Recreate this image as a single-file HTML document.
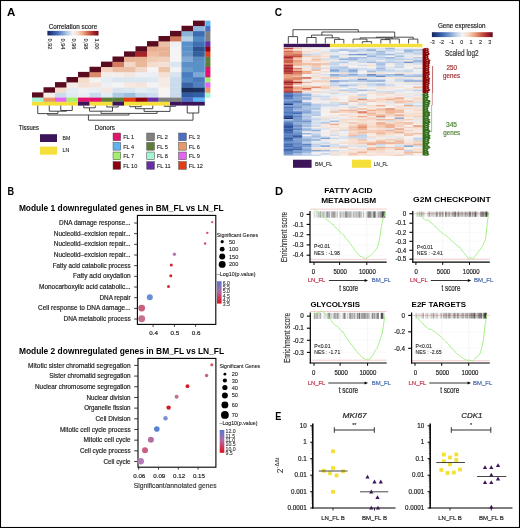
<!DOCTYPE html>
<html><head><meta charset="utf-8"><title>Figure</title>
<style>html,body{margin:0;padding:0;background:#fff;}body{width:520px;height:528px;overflow:hidden;font-family:"Liberation Sans", sans-serif;}svg{display:block;will-change:transform;}</style>
</head><body>
<svg width="520" height="528" viewBox="0 0 520 528" font-family='"Liberation Sans", sans-serif'><defs>
<linearGradient id="rdbu" x1="0" x2="1" y1="0" y2="0"><stop offset="0.0" stop-color="#14245a"/><stop offset="0.1" stop-color="#2a4a96"/><stop offset="0.2" stop-color="#4a72b8"/><stop offset="0.3" stop-color="#7ea0d2"/><stop offset="0.4" stop-color="#bcd0ea"/><stop offset="0.5" stop-color="#f5f3f2"/><stop offset="0.6" stop-color="#f6d8c6"/><stop offset="0.7" stop-color="#eca584"/><stop offset="0.8" stop-color="#d0644a"/><stop offset="0.9" stop-color="#a82830"/><stop offset="1.0" stop-color="#650a1c"/></linearGradient>
<linearGradient id="pv" x1="0" x2="0" y1="0" y2="1"><stop offset="0" stop-color="#5777d4"/><stop offset="0.45" stop-color="#b06aa8"/><stop offset="1" stop-color="#e0101c"/></linearGradient>
</defs>
<text x="7.10" y="16.40" font-size="11.7" textLength="8.33" lengthAdjust="spacingAndGlyphs" font-weight="bold">A</text>
<text x="48.70" y="29.10" font-size="6.8" textLength="48.52" lengthAdjust="spacingAndGlyphs" fill="#222" stroke="#222" stroke-width="0.18">Correlation score</text>
<rect x="47.40" y="30.90" width="51.10" height="4.60" fill="url(#rdbu)" />
<text x="48.00" y="38.50" font-size="5.6" fill="#222" stroke="#222" stroke-width="0.10" transform="rotate(90 48.00 38.5)">0,92</text>
<text x="60.90" y="38.50" font-size="5.6" fill="#222" stroke="#222" stroke-width="0.10" transform="rotate(90 60.90 38.5)">0,94</text>
<text x="71.60" y="38.50" font-size="5.6" fill="#222" stroke="#222" stroke-width="0.10" transform="rotate(90 71.60 38.5)">0,96</text>
<text x="83.80" y="38.50" font-size="5.6" fill="#222" stroke="#222" stroke-width="0.10" transform="rotate(90 83.80 38.5)">0,98</text>
<text x="95.20" y="38.50" font-size="5.6" fill="#222" stroke="#222" stroke-width="0.10" transform="rotate(90 95.20 38.5)">1,00</text>
<rect x="32.00" y="92.38" width="11.80" height="5.42" fill="#5b0b20" />
<rect x="43.50" y="92.38" width="11.80" height="5.42" fill="#f6f0ea" />
<rect x="43.50" y="87.25" width="11.80" height="5.42" fill="#5b0b20" />
<rect x="55.00" y="92.38" width="11.80" height="5.42" fill="#c8dcec" />
<rect x="55.00" y="87.25" width="11.80" height="5.42" fill="#f4dccc" />
<rect x="55.00" y="82.12" width="11.80" height="5.42" fill="#5b0b20" />
<rect x="66.50" y="92.38" width="11.80" height="5.42" fill="#e2eaf2" />
<rect x="66.50" y="87.25" width="11.80" height="5.42" fill="#e4ecf4" />
<rect x="66.50" y="82.12" width="11.80" height="5.42" fill="#f4ece6" />
<rect x="66.50" y="77.00" width="11.80" height="5.42" fill="#5b0b20" />
<rect x="78.00" y="92.38" width="11.80" height="5.42" fill="#e8eef4" />
<rect x="78.00" y="87.25" width="11.80" height="5.42" fill="#eef0f4" />
<rect x="78.00" y="82.12" width="11.80" height="5.42" fill="#f4e0d4" />
<rect x="78.00" y="77.00" width="11.80" height="5.42" fill="#f4dcc8" />
<rect x="78.00" y="71.88" width="11.80" height="5.42" fill="#5b0b20" />
<rect x="89.50" y="92.38" width="11.80" height="5.42" fill="#c8dcee" />
<rect x="89.50" y="87.25" width="11.80" height="5.42" fill="#e8eef4" />
<rect x="89.50" y="82.12" width="11.80" height="5.42" fill="#f4e4da" />
<rect x="89.50" y="77.00" width="11.80" height="5.42" fill="#f4f2f0" />
<rect x="89.50" y="71.88" width="11.80" height="5.42" fill="#d88a6a" />
<rect x="89.50" y="66.75" width="11.80" height="5.42" fill="#5b0b20" />
<rect x="101.00" y="92.38" width="11.80" height="5.42" fill="#e4ecf4" />
<rect x="101.00" y="87.25" width="11.80" height="5.42" fill="#f6e8e0" />
<rect x="101.00" y="82.12" width="11.80" height="5.42" fill="#ecf0f4" />
<rect x="101.00" y="77.00" width="11.80" height="5.42" fill="#e4ecf4" />
<rect x="101.00" y="71.88" width="11.80" height="5.42" fill="#f4ecea" />
<rect x="101.00" y="66.75" width="11.80" height="5.42" fill="#f4d4c0" />
<rect x="101.00" y="61.62" width="11.80" height="5.42" fill="#5b0b20" />
<rect x="112.50" y="92.38" width="11.80" height="5.42" fill="#b0cce4" />
<rect x="112.50" y="87.25" width="11.80" height="5.42" fill="#d8e4f0" />
<rect x="112.50" y="82.12" width="11.80" height="5.42" fill="#f4f4f4" />
<rect x="112.50" y="77.00" width="11.80" height="5.42" fill="#dce6f0" />
<rect x="112.50" y="71.88" width="11.80" height="5.42" fill="#f4eeec" />
<rect x="112.50" y="66.75" width="11.80" height="5.42" fill="#ecc0a4" />
<rect x="112.50" y="61.62" width="11.80" height="5.42" fill="#d47a5e" />
<rect x="112.50" y="56.50" width="11.80" height="5.42" fill="#5b0b20" />
<rect x="124.00" y="92.38" width="11.80" height="5.42" fill="#9cc0e0" />
<rect x="124.00" y="87.25" width="11.80" height="5.42" fill="#dae6f0" />
<rect x="124.00" y="82.12" width="11.80" height="5.42" fill="#f6e8e0" />
<rect x="124.00" y="77.00" width="11.80" height="5.42" fill="#dce6f0" />
<rect x="124.00" y="71.88" width="11.80" height="5.42" fill="#f4e6e0" />
<rect x="124.00" y="66.75" width="11.80" height="5.42" fill="#ecc0a6" />
<rect x="124.00" y="61.62" width="11.80" height="5.42" fill="#f2d8c6" />
<rect x="124.00" y="56.50" width="11.80" height="5.42" fill="#e8b294" />
<rect x="124.00" y="51.38" width="11.80" height="5.42" fill="#5b0b20" />
<rect x="135.50" y="92.38" width="11.80" height="5.42" fill="#c4d8ec" />
<rect x="135.50" y="87.25" width="11.80" height="5.42" fill="#e4ecf4" />
<rect x="135.50" y="82.12" width="11.80" height="5.42" fill="#f4e4dc" />
<rect x="135.50" y="77.00" width="11.80" height="5.42" fill="#dce6f0" />
<rect x="135.50" y="71.88" width="11.80" height="5.42" fill="#eef0f4" />
<rect x="135.50" y="66.75" width="11.80" height="5.42" fill="#f2d8c8" />
<rect x="135.50" y="61.62" width="11.80" height="5.42" fill="#eab89a" />
<rect x="135.50" y="56.50" width="11.80" height="5.42" fill="#e8b494" />
<rect x="135.50" y="51.38" width="11.80" height="5.42" fill="#a82028" />
<rect x="135.50" y="46.25" width="11.80" height="5.42" fill="#5b0b20" />
<rect x="147.00" y="92.38" width="11.80" height="5.42" fill="#cfdeee" />
<rect x="147.00" y="87.25" width="11.80" height="5.42" fill="#dde7f1" />
<rect x="147.00" y="82.12" width="11.80" height="5.42" fill="#f4f2f2" />
<rect x="147.00" y="77.00" width="11.80" height="5.42" fill="#dfe8f2" />
<rect x="147.00" y="71.88" width="11.80" height="5.42" fill="#ebeff5" />
<rect x="147.00" y="66.75" width="11.80" height="5.42" fill="#f5f3f3" />
<rect x="147.00" y="61.62" width="11.80" height="5.42" fill="#f4dccc" />
<rect x="147.00" y="56.50" width="11.80" height="5.42" fill="#f0ccb4" />
<rect x="147.00" y="51.38" width="11.80" height="5.42" fill="#eebc9e" />
<rect x="147.00" y="46.25" width="11.80" height="5.42" fill="#e8ae8e" />
<rect x="147.00" y="41.12" width="11.80" height="5.42" fill="#5b0b20" />
<rect x="158.50" y="92.38" width="11.80" height="5.42" fill="#f6f4f4" />
<rect x="158.50" y="87.25" width="11.80" height="5.42" fill="#f7f4f2" />
<rect x="158.50" y="82.12" width="11.80" height="5.42" fill="#f6ebe4" />
<rect x="158.50" y="77.00" width="11.80" height="5.42" fill="#f6ebe4" />
<rect x="158.50" y="71.88" width="11.80" height="5.42" fill="#f4e0d4" />
<rect x="158.50" y="66.75" width="11.80" height="5.42" fill="#eec4a8" />
<rect x="158.50" y="61.62" width="11.80" height="5.42" fill="#f4e0d4" />
<rect x="158.50" y="56.50" width="11.80" height="5.42" fill="#f0d0bc" />
<rect x="158.50" y="51.38" width="11.80" height="5.42" fill="#e8b294" />
<rect x="158.50" y="46.25" width="11.80" height="5.42" fill="#e8b090" />
<rect x="158.50" y="41.12" width="11.80" height="5.42" fill="#ecc0a4" />
<rect x="158.50" y="36.00" width="11.80" height="5.42" fill="#5b0b20" />
<rect x="170.00" y="92.38" width="11.80" height="5.42" fill="#c8daec" />
<rect x="170.00" y="87.25" width="11.80" height="5.42" fill="#cadcec" />
<rect x="170.00" y="82.12" width="11.80" height="5.42" fill="#c8daec" />
<rect x="170.00" y="77.00" width="11.80" height="5.42" fill="#cadcec" />
<rect x="170.00" y="71.88" width="11.80" height="5.42" fill="#d8e4f0" />
<rect x="170.00" y="66.75" width="11.80" height="5.42" fill="#f0f2f4" />
<rect x="170.00" y="61.62" width="11.80" height="5.42" fill="#dce6f0" />
<rect x="170.00" y="56.50" width="11.80" height="5.42" fill="#f4f4f4" />
<rect x="170.00" y="51.38" width="11.80" height="5.42" fill="#f4f4f4" />
<rect x="170.00" y="46.25" width="11.80" height="5.42" fill="#f4f4f4" />
<rect x="170.00" y="41.12" width="11.80" height="5.42" fill="#eef0f4" />
<rect x="170.00" y="36.00" width="11.80" height="5.42" fill="#d0785a" />
<rect x="170.00" y="30.88" width="11.80" height="5.42" fill="#5b0b20" />
<rect x="181.50" y="92.38" width="11.80" height="5.42" fill="#2e58a0" />
<rect x="181.50" y="87.25" width="11.80" height="5.42" fill="#1a2c5c" />
<rect x="181.50" y="82.12" width="11.80" height="5.42" fill="#3a64a8" />
<rect x="181.50" y="77.00" width="11.80" height="5.42" fill="#5488c4" />
<rect x="181.50" y="71.88" width="11.80" height="5.42" fill="#4a7cc0" />
<rect x="181.50" y="66.75" width="11.80" height="5.42" fill="#6a9ccc" />
<rect x="181.50" y="61.62" width="11.80" height="5.42" fill="#5e90c8" />
<rect x="181.50" y="56.50" width="11.80" height="5.42" fill="#80a8d4" />
<rect x="181.50" y="51.38" width="11.80" height="5.42" fill="#6494c8" />
<rect x="181.50" y="46.25" width="11.80" height="5.42" fill="#5a90c8" />
<rect x="181.50" y="41.12" width="11.80" height="5.42" fill="#5a90c8" />
<rect x="181.50" y="36.00" width="11.80" height="5.42" fill="#b4d0e6" />
<rect x="181.50" y="30.88" width="11.80" height="5.42" fill="#8cb4d8" />
<rect x="181.50" y="25.75" width="11.80" height="5.42" fill="#5b0b20" />
<rect x="193.00" y="92.38" width="11.80" height="5.42" fill="#3060a8" />
<rect x="193.00" y="87.25" width="11.80" height="5.42" fill="#1c3060" />
<rect x="193.00" y="82.12" width="11.80" height="5.42" fill="#5080c0" />
<rect x="193.00" y="77.00" width="11.80" height="5.42" fill="#4a78bc" />
<rect x="193.00" y="71.88" width="11.80" height="5.42" fill="#7ea8d4" />
<rect x="193.00" y="66.75" width="11.80" height="5.42" fill="#5a90c8" />
<rect x="193.00" y="61.62" width="11.80" height="5.42" fill="#5890c8" />
<rect x="193.00" y="56.50" width="11.80" height="5.42" fill="#5a8cc4" />
<rect x="193.00" y="51.38" width="11.80" height="5.42" fill="#34609e" />
<rect x="193.00" y="46.25" width="11.80" height="5.42" fill="#2c5090" />
<rect x="193.00" y="41.12" width="11.80" height="5.42" fill="#4070b4" />
<rect x="193.00" y="36.00" width="11.80" height="5.42" fill="#5088c4" />
<rect x="193.00" y="30.88" width="11.80" height="5.42" fill="#3e6cb0" />
<rect x="193.00" y="25.75" width="11.80" height="5.42" fill="#90b8dc" />
<rect x="193.00" y="20.62" width="11.80" height="5.42" fill="#5b0b20" />
<rect x="32.00" y="97.60" width="11.80" height="4.30" fill="#a3f5d3" />
<rect x="32.00" y="101.80" width="11.80" height="3.80" fill="#f5df3b" />
<rect x="43.50" y="97.60" width="11.80" height="4.30" fill="#eb9868" />
<rect x="43.50" y="101.80" width="11.80" height="3.80" fill="#f5df3b" />
<rect x="55.00" y="97.60" width="11.80" height="4.30" fill="#e463ef" />
<rect x="55.00" y="101.80" width="11.80" height="3.80" fill="#f5df3b" />
<rect x="66.50" y="97.60" width="11.80" height="4.30" fill="#a2f06c" />
<rect x="66.50" y="101.80" width="11.80" height="3.80" fill="#f5df3b" />
<rect x="78.00" y="97.60" width="11.80" height="4.30" fill="#e2136d" />
<rect x="78.00" y="101.80" width="11.80" height="3.80" fill="#3c1459" />
<rect x="89.50" y="97.60" width="11.80" height="4.30" fill="#e2136d" />
<rect x="89.50" y="101.80" width="11.80" height="3.80" fill="#f5df3b" />
<rect x="101.00" y="97.60" width="11.80" height="4.30" fill="#5c7e38" />
<rect x="101.00" y="101.80" width="11.80" height="3.80" fill="#f5df3b" />
<rect x="112.50" y="97.60" width="11.80" height="4.30" fill="#5c7e38" />
<rect x="112.50" y="101.80" width="11.80" height="3.80" fill="#3c1459" />
<rect x="124.00" y="97.60" width="11.80" height="4.30" fill="#e33b12" />
<rect x="124.00" y="101.80" width="11.80" height="3.80" fill="#f5df3b" />
<rect x="135.50" y="97.60" width="11.80" height="4.30" fill="#8c0010" />
<rect x="135.50" y="101.80" width="11.80" height="3.80" fill="#f5df3b" />
<rect x="147.00" y="97.60" width="11.80" height="4.30" fill="#6a2ca6" />
<rect x="147.00" y="101.80" width="11.80" height="3.80" fill="#f5df3b" />
<rect x="158.50" y="97.60" width="11.80" height="4.30" fill="#808080" />
<rect x="158.50" y="101.80" width="11.80" height="3.80" fill="#f5df3b" />
<rect x="170.00" y="97.60" width="11.80" height="4.30" fill="#808080" />
<rect x="170.00" y="101.80" width="11.80" height="3.80" fill="#3c1459" />
<rect x="181.50" y="97.60" width="11.80" height="4.30" fill="#4b6fc6" />
<rect x="181.50" y="101.80" width="11.80" height="3.80" fill="#3c1459" />
<rect x="193.00" y="97.60" width="11.80" height="4.30" fill="#5eb3f2" />
<rect x="193.00" y="101.80" width="11.80" height="3.80" fill="#3c1459" />
<rect x="205.20" y="92.38" width="5.20" height="5.42" fill="#a3f5d3" />
<rect x="205.20" y="87.25" width="5.20" height="5.42" fill="#eb9868" />
<rect x="205.20" y="82.12" width="5.20" height="5.42" fill="#e463ef" />
<rect x="205.20" y="77.00" width="5.20" height="5.42" fill="#a2f06c" />
<rect x="205.20" y="71.88" width="5.20" height="5.42" fill="#e2136d" />
<rect x="205.20" y="66.75" width="5.20" height="5.42" fill="#e2136d" />
<rect x="205.20" y="61.62" width="5.20" height="5.42" fill="#5c7e38" />
<rect x="205.20" y="56.50" width="5.20" height="5.42" fill="#5c7e38" />
<rect x="205.20" y="51.38" width="5.20" height="5.42" fill="#e33b12" />
<rect x="205.20" y="46.25" width="5.20" height="5.42" fill="#8c0010" />
<rect x="205.20" y="41.12" width="5.20" height="5.42" fill="#6a2ca6" />
<rect x="205.20" y="36.00" width="5.20" height="5.42" fill="#808080" />
<rect x="205.20" y="30.88" width="5.20" height="5.42" fill="#808080" />
<rect x="205.20" y="25.75" width="5.20" height="5.42" fill="#4b6fc6" />
<rect x="205.20" y="20.62" width="5.20" height="5.42" fill="#5eb3f2" />
<path d="M60.75 105.60V110.50H72.25V105.60" stroke="#333" stroke-width="0.9" fill="none" />
<path d="M49.25 105.60V111.20H66.50V110.50" stroke="#333" stroke-width="0.9" fill="none" />
<path d="M37.75 105.60V113.60H57.88V111.20" stroke="#333" stroke-width="0.9" fill="none" />
<path d="M83.75 105.60V107.80H95.25V105.60" stroke="#333" stroke-width="0.9" fill="none" />
<path d="M106.75 105.60V107.00H118.25V105.60" stroke="#333" stroke-width="0.9" fill="none" />
<path d="M89.50 107.80V111.20H112.50V107.00" stroke="#333" stroke-width="0.9" fill="none" />
<path d="M129.75 105.60V106.70H141.25V105.60" stroke="#333" stroke-width="0.9" fill="none" />
<path d="M135.50 106.70V108.70H152.75V105.60" stroke="#333" stroke-width="0.9" fill="none" />
<path d="M164.25 105.60V106.30H175.75V105.60" stroke="#333" stroke-width="0.9" fill="none" />
<path d="M144.12 108.70V111.40H170.00V106.30" stroke="#333" stroke-width="0.9" fill="none" />
<path d="M101.00 111.20V113.40H157.06V111.40" stroke="#333" stroke-width="0.9" fill="none" />
<path d="M47.81 113.60V115.00H129.03V113.40" stroke="#333" stroke-width="0.9" fill="none" />
<path d="M187.25 105.60V113.00H198.75V105.60" stroke="#333" stroke-width="0.9" fill="none" />
<path d="M88.42 115.00V120.20H193.00V113.00" stroke="#333" stroke-width="0.9" fill="none" />
<text x="18.80" y="130.10" font-size="6.6" textLength="20.09" lengthAdjust="spacingAndGlyphs" fill="#222" stroke="#222" stroke-width="0.18">Tissues</text>
<rect x="40.00" y="134.20" width="17.00" height="7.80" fill="#3c1459" />
<text x="62.60" y="139.80" font-size="5.8" textLength="7.80" lengthAdjust="spacingAndGlyphs" fill="#222" stroke="#222" stroke-width="0.10">BM</text>
<rect x="40.00" y="146.60" width="17.00" height="8.10" fill="#f5df3b" />
<text x="62.60" y="152.40" font-size="5.8" textLength="6.79" lengthAdjust="spacingAndGlyphs" fill="#222" stroke="#222" stroke-width="0.10">LN</text>
<text x="94.70" y="130.30" font-size="6.6" textLength="20.32" lengthAdjust="spacingAndGlyphs" fill="#222" stroke="#222" stroke-width="0.18">Donors</text>
<rect x="113.05" y="133.05" width="7.60" height="7.60" fill="#e2136d" stroke="#444" stroke-width="0.5"/>
<text x="123.20" y="139.00" font-size="5.6" fill="#222" stroke="#222" stroke-width="0.10">FL 1</text>
<rect x="146.75" y="133.05" width="7.60" height="7.60" fill="#808080" stroke="#444" stroke-width="0.5"/>
<text x="156.90" y="139.00" font-size="5.6" fill="#222" stroke="#222" stroke-width="0.10">FL 2</text>
<rect x="178.65" y="133.05" width="7.60" height="7.60" fill="#4b6fc6" stroke="#444" stroke-width="0.5"/>
<text x="188.80" y="139.00" font-size="5.6" fill="#222" stroke="#222" stroke-width="0.10">FL 3</text>
<rect x="113.05" y="142.55" width="7.60" height="7.60" fill="#5eb3f2" stroke="#444" stroke-width="0.5"/>
<text x="123.20" y="148.50" font-size="5.6" fill="#222" stroke="#222" stroke-width="0.10">FL 4</text>
<rect x="146.75" y="142.55" width="7.60" height="7.60" fill="#5c7e38" stroke="#444" stroke-width="0.5"/>
<text x="156.90" y="148.50" font-size="5.6" fill="#222" stroke="#222" stroke-width="0.10">FL 5</text>
<rect x="178.65" y="142.55" width="7.60" height="7.60" fill="#eb9868" stroke="#444" stroke-width="0.5"/>
<text x="188.80" y="148.50" font-size="5.6" fill="#222" stroke="#222" stroke-width="0.10">FL 6</text>
<rect x="113.05" y="152.05" width="7.60" height="7.60" fill="#a2f06c" stroke="#444" stroke-width="0.5"/>
<text x="123.20" y="158.00" font-size="5.6" fill="#222" stroke="#222" stroke-width="0.10">FL 7</text>
<rect x="146.75" y="152.05" width="7.60" height="7.60" fill="#a3f5d3" stroke="#444" stroke-width="0.5"/>
<text x="156.90" y="158.00" font-size="5.6" fill="#222" stroke="#222" stroke-width="0.10">FL 8</text>
<rect x="178.65" y="152.05" width="7.60" height="7.60" fill="#e463ef" stroke="#444" stroke-width="0.5"/>
<text x="188.80" y="158.00" font-size="5.6" fill="#222" stroke="#222" stroke-width="0.10">FL 9</text>
<rect x="113.05" y="161.65" width="7.60" height="7.60" fill="#8c0010" stroke="#444" stroke-width="0.5"/>
<text x="123.20" y="167.60" font-size="5.6" fill="#222" stroke="#222" stroke-width="0.10">FL 10</text>
<rect x="146.75" y="161.65" width="7.60" height="7.60" fill="#6a2ca6" stroke="#444" stroke-width="0.5"/>
<text x="156.90" y="167.60" font-size="5.6" fill="#222" stroke="#222" stroke-width="0.10">FL 11</text>
<rect x="178.65" y="161.65" width="7.60" height="7.60" fill="#e33b12" stroke="#444" stroke-width="0.5"/>
<text x="188.80" y="167.60" font-size="5.6" fill="#222" stroke="#222" stroke-width="0.10">FL 12</text>
<text x="274.80" y="16.40" font-size="11.7" textLength="7.32" lengthAdjust="spacingAndGlyphs" font-weight="bold">C</text>
<path d="M288.32 43.60V36.60H297.57V43.60" stroke="#222" stroke-width="0.8" fill="none" />
<path d="M306.82 43.60V37.50H316.07V43.60" stroke="#222" stroke-width="0.8" fill="none" />
<path d="M334.57 43.60V39.40H343.82V43.60" stroke="#222" stroke-width="0.8" fill="none" />
<path d="M325.32 43.60V37.80H339.20V39.40" stroke="#222" stroke-width="0.8" fill="none" />
<path d="M311.45 37.50V35.10H332.26V37.80" stroke="#222" stroke-width="0.8" fill="none" />
<path d="M362.32 43.60V41.70H371.57V43.60" stroke="#222" stroke-width="0.8" fill="none" />
<path d="M353.07 43.60V39.10H366.95V41.70" stroke="#222" stroke-width="0.8" fill="none" />
<path d="M380.82 43.60V39.60H390.07V43.60" stroke="#222" stroke-width="0.8" fill="none" />
<path d="M385.45 39.60V38.90H399.32V43.60" stroke="#222" stroke-width="0.8" fill="none" />
<path d="M408.57 43.60V39.10H417.82V43.60" stroke="#222" stroke-width="0.8" fill="none" />
<path d="M360.01 39.10V37.90H392.39V38.90" stroke="#222" stroke-width="0.8" fill="none" />
<path d="M376.20 37.90V37.20H413.20V39.10" stroke="#222" stroke-width="0.8" fill="none" />
<path d="M321.86 35.10V32.00H394.70V37.20" stroke="#222" stroke-width="0.8" fill="none" />
<path d="M292.95 36.60V29.70H358.28V32.00" stroke="#222" stroke-width="0.8" fill="none" />
<rect x="283.70" y="43.80" width="46.25" height="3.40" fill="#3c1459" />
<rect x="329.95" y="43.80" width="92.50" height="3.40" fill="#f5df3b" />
<rect x="283.70" y="47.70" width="9.55" height="1.85" fill="#bf4b3f" />
<rect x="292.95" y="47.70" width="9.55" height="1.85" fill="#f2c4ac" />
<rect x="302.20" y="47.70" width="9.55" height="1.85" fill="#f5e7de" />
<rect x="311.45" y="47.70" width="9.55" height="1.85" fill="#f5f3f2" />
<rect x="320.70" y="47.70" width="9.55" height="1.85" fill="#f5efec" />
<rect x="329.95" y="47.70" width="9.55" height="1.85" fill="#efeff1" />
<rect x="339.20" y="47.70" width="9.55" height="1.85" fill="#dfe5ef" />
<rect x="348.45" y="47.70" width="9.55" height="1.85" fill="#e8ebf0" />
<rect x="357.70" y="47.70" width="9.55" height="1.85" fill="#d7e0ee" />
<rect x="366.95" y="47.70" width="9.55" height="1.85" fill="#d2deed" />
<rect x="376.20" y="47.70" width="9.55" height="1.85" fill="#d5dfed" />
<rect x="385.45" y="47.70" width="9.55" height="1.85" fill="#9eb8de" />
<rect x="394.70" y="47.70" width="9.55" height="1.85" fill="#e8ebf0" />
<rect x="403.95" y="47.70" width="9.55" height="1.85" fill="#e6eaf0" />
<rect x="413.20" y="47.70" width="9.55" height="1.85" fill="#eaecf0" />
<rect x="283.70" y="49.25" width="9.55" height="1.85" fill="#f2c2aa" />
<rect x="292.95" y="49.25" width="9.55" height="1.85" fill="#f5e8df" />
<rect x="302.20" y="49.25" width="9.55" height="1.85" fill="#f5f2f0" />
<rect x="311.45" y="49.25" width="9.55" height="1.85" fill="#f6e2d6" />
<rect x="320.70" y="49.25" width="9.55" height="1.85" fill="#f2f1f2" />
<rect x="329.95" y="49.25" width="9.55" height="1.85" fill="#bcd0ea" />
<rect x="339.20" y="49.25" width="9.55" height="1.85" fill="#9bb7dd" />
<rect x="348.45" y="49.25" width="9.55" height="1.85" fill="#b1c7e6" />
<rect x="357.70" y="49.25" width="9.55" height="1.85" fill="#b8cde9" />
<rect x="366.95" y="49.25" width="9.55" height="1.85" fill="#8eadd8" />
<rect x="376.20" y="49.25" width="9.55" height="1.85" fill="#dee5ef" />
<rect x="385.45" y="49.25" width="9.55" height="1.85" fill="#bdd1ea" />
<rect x="394.70" y="49.25" width="9.55" height="1.85" fill="#d0dced" />
<rect x="403.95" y="49.25" width="9.55" height="1.85" fill="#a1bbe0" />
<rect x="413.20" y="49.25" width="9.55" height="1.85" fill="#a3bce0" />
<rect x="283.70" y="50.80" width="9.55" height="1.85" fill="#d2684e" />
<rect x="292.95" y="50.80" width="9.55" height="1.85" fill="#e69677" />
<rect x="302.20" y="50.80" width="9.55" height="1.85" fill="#f6dccc" />
<rect x="311.45" y="50.80" width="9.55" height="1.85" fill="#f5eae3" />
<rect x="320.70" y="50.80" width="9.55" height="1.85" fill="#e0e6ef" />
<rect x="329.95" y="50.80" width="9.55" height="1.85" fill="#bfd2ea" />
<rect x="339.20" y="50.80" width="9.55" height="1.85" fill="#f3f2f2" />
<rect x="348.45" y="50.80" width="9.55" height="1.85" fill="#b1c7e6" />
<rect x="357.70" y="50.80" width="9.55" height="1.85" fill="#d4dfed" />
<rect x="366.95" y="50.80" width="9.55" height="1.85" fill="#d1dded" />
<rect x="376.20" y="50.80" width="9.55" height="1.85" fill="#a1bbdf" />
<rect x="385.45" y="50.80" width="9.55" height="1.85" fill="#cfdced" />
<rect x="394.70" y="50.80" width="9.55" height="1.85" fill="#f3f2f2" />
<rect x="403.95" y="50.80" width="9.55" height="1.85" fill="#99b5dc" />
<rect x="413.20" y="50.80" width="9.55" height="1.85" fill="#d1dded" />
<rect x="283.70" y="52.35" width="9.55" height="1.85" fill="#df886a" />
<rect x="292.95" y="52.35" width="9.55" height="1.85" fill="#e89c7c" />
<rect x="302.20" y="52.35" width="9.55" height="1.85" fill="#f6e1d4" />
<rect x="311.45" y="52.35" width="9.55" height="1.85" fill="#e0e6ef" />
<rect x="320.70" y="52.35" width="9.55" height="1.85" fill="#f6dccc" />
<rect x="329.95" y="52.35" width="9.55" height="1.85" fill="#e6eaf0" />
<rect x="339.20" y="52.35" width="9.55" height="1.85" fill="#f1f1f1" />
<rect x="348.45" y="52.35" width="9.55" height="1.85" fill="#f5f2f0" />
<rect x="357.70" y="52.35" width="9.55" height="1.85" fill="#dde5ef" />
<rect x="366.95" y="52.35" width="9.55" height="1.85" fill="#cedbed" />
<rect x="376.20" y="52.35" width="9.55" height="1.85" fill="#adc4e4" />
<rect x="385.45" y="52.35" width="9.55" height="1.85" fill="#e5e9f0" />
<rect x="394.70" y="52.35" width="9.55" height="1.85" fill="#c2d3eb" />
<rect x="403.95" y="52.35" width="9.55" height="1.85" fill="#cedbed" />
<rect x="413.20" y="52.35" width="9.55" height="1.85" fill="#bbd0ea" />
<rect x="283.70" y="53.90" width="9.55" height="1.85" fill="#de8668" />
<rect x="292.95" y="53.90" width="9.55" height="1.85" fill="#d77458" />
<rect x="302.20" y="53.90" width="9.55" height="1.85" fill="#bdd1ea" />
<rect x="311.45" y="53.90" width="9.55" height="1.85" fill="#d6e0ee" />
<rect x="320.70" y="53.90" width="9.55" height="1.85" fill="#f5ebe5" />
<rect x="329.95" y="53.90" width="9.55" height="1.85" fill="#e8ebf0" />
<rect x="339.20" y="53.90" width="9.55" height="1.85" fill="#d2deed" />
<rect x="348.45" y="53.90" width="9.55" height="1.85" fill="#7fa1d2" />
<rect x="357.70" y="53.90" width="9.55" height="1.85" fill="#7396cc" />
<rect x="366.95" y="53.90" width="9.55" height="1.85" fill="#c0d3eb" />
<rect x="376.20" y="53.90" width="9.55" height="1.85" fill="#a8c1e2" />
<rect x="385.45" y="53.90" width="9.55" height="1.85" fill="#9cb7de" />
<rect x="394.70" y="53.90" width="9.55" height="1.85" fill="#dbe3ee" />
<rect x="403.95" y="53.90" width="9.55" height="1.85" fill="#e6eaf0" />
<rect x="413.20" y="53.90" width="9.55" height="1.85" fill="#d0dced" />
<rect x="283.70" y="55.45" width="9.55" height="1.85" fill="#be483e" />
<rect x="292.95" y="55.45" width="9.55" height="1.85" fill="#c45142" />
<rect x="302.20" y="55.45" width="9.55" height="1.85" fill="#f3cab4" />
<rect x="311.45" y="55.45" width="9.55" height="1.85" fill="#f4ceb9" />
<rect x="320.70" y="55.45" width="9.55" height="1.85" fill="#f6dfd1" />
<rect x="329.95" y="55.45" width="9.55" height="1.85" fill="#aec5e4" />
<rect x="339.20" y="55.45" width="9.55" height="1.85" fill="#f5ece7" />
<rect x="348.45" y="55.45" width="9.55" height="1.85" fill="#f2f1f2" />
<rect x="357.70" y="55.45" width="9.55" height="1.85" fill="#ebedf1" />
<rect x="366.95" y="55.45" width="9.55" height="1.85" fill="#98b4dc" />
<rect x="376.20" y="55.45" width="9.55" height="1.85" fill="#c9d8ec" />
<rect x="385.45" y="55.45" width="9.55" height="1.85" fill="#f3f2f2" />
<rect x="394.70" y="55.45" width="9.55" height="1.85" fill="#a6bfe2" />
<rect x="403.95" y="55.45" width="9.55" height="1.85" fill="#dee5ef" />
<rect x="413.20" y="55.45" width="9.55" height="1.85" fill="#f5ebe6" />
<rect x="283.70" y="57.00" width="9.55" height="1.85" fill="#a72730" />
<rect x="292.95" y="57.00" width="9.55" height="1.85" fill="#eda888" />
<rect x="302.20" y="57.00" width="9.55" height="1.85" fill="#f5e9e2" />
<rect x="311.45" y="57.00" width="9.55" height="1.85" fill="#f6e0d2" />
<rect x="320.70" y="57.00" width="9.55" height="1.85" fill="#f5e6dc" />
<rect x="329.95" y="57.00" width="9.55" height="1.85" fill="#bacee9" />
<rect x="339.20" y="57.00" width="9.55" height="1.85" fill="#dae2ee" />
<rect x="348.45" y="57.00" width="9.55" height="1.85" fill="#9cb7de" />
<rect x="357.70" y="57.00" width="9.55" height="1.85" fill="#a9c1e3" />
<rect x="366.95" y="57.00" width="9.55" height="1.85" fill="#ccdaec" />
<rect x="376.20" y="57.00" width="9.55" height="1.85" fill="#b7cce8" />
<rect x="385.45" y="57.00" width="9.55" height="1.85" fill="#9bb6dd" />
<rect x="394.70" y="57.00" width="9.55" height="1.85" fill="#d1dded" />
<rect x="403.95" y="57.00" width="9.55" height="1.85" fill="#e8ebf0" />
<rect x="413.20" y="57.00" width="9.55" height="1.85" fill="#b6cbe8" />
<rect x="283.70" y="58.55" width="9.55" height="1.85" fill="#d9785c" />
<rect x="292.95" y="58.55" width="9.55" height="1.85" fill="#f4ccb7" />
<rect x="302.20" y="58.55" width="9.55" height="1.85" fill="#f5ede7" />
<rect x="311.45" y="58.55" width="9.55" height="1.85" fill="#f1bea4" />
<rect x="320.70" y="58.55" width="9.55" height="1.85" fill="#d1dded" />
<rect x="329.95" y="58.55" width="9.55" height="1.85" fill="#d9e2ee" />
<rect x="339.20" y="58.55" width="9.55" height="1.85" fill="#90aed9" />
<rect x="348.45" y="58.55" width="9.55" height="1.85" fill="#97b3dc" />
<rect x="357.70" y="58.55" width="9.55" height="1.85" fill="#c7d7ec" />
<rect x="366.95" y="58.55" width="9.55" height="1.85" fill="#ccdaec" />
<rect x="376.20" y="58.55" width="9.55" height="1.85" fill="#cddbec" />
<rect x="385.45" y="58.55" width="9.55" height="1.85" fill="#bfd2ea" />
<rect x="394.70" y="58.55" width="9.55" height="1.85" fill="#b9cde9" />
<rect x="403.95" y="58.55" width="9.55" height="1.85" fill="#c1d3eb" />
<rect x="413.20" y="58.55" width="9.55" height="1.85" fill="#d2dded" />
<rect x="283.70" y="60.10" width="9.55" height="1.85" fill="#c65543" />
<rect x="292.95" y="60.10" width="9.55" height="1.85" fill="#e69878" />
<rect x="302.20" y="60.10" width="9.55" height="1.85" fill="#f6e0d3" />
<rect x="311.45" y="60.10" width="9.55" height="1.85" fill="#f3c9b3" />
<rect x="320.70" y="60.10" width="9.55" height="1.85" fill="#f6e1d4" />
<rect x="329.95" y="60.10" width="9.55" height="1.85" fill="#f5e9e1" />
<rect x="339.20" y="60.10" width="9.55" height="1.85" fill="#dee5ef" />
<rect x="348.45" y="60.10" width="9.55" height="1.85" fill="#c1d3eb" />
<rect x="357.70" y="60.10" width="9.55" height="1.85" fill="#c7d7ec" />
<rect x="366.95" y="60.10" width="9.55" height="1.85" fill="#c9d8ec" />
<rect x="376.20" y="60.10" width="9.55" height="1.85" fill="#ecedf1" />
<rect x="385.45" y="60.10" width="9.55" height="1.85" fill="#c8d7ec" />
<rect x="394.70" y="60.10" width="9.55" height="1.85" fill="#dce4ef" />
<rect x="403.95" y="60.10" width="9.55" height="1.85" fill="#f5e7df" />
<rect x="413.20" y="60.10" width="9.55" height="1.85" fill="#91afd9" />
<rect x="283.70" y="61.65" width="9.55" height="1.85" fill="#cf6249" />
<rect x="292.95" y="61.65" width="9.55" height="1.85" fill="#eeae8f" />
<rect x="302.20" y="61.65" width="9.55" height="1.85" fill="#f6e0d3" />
<rect x="311.45" y="61.65" width="9.55" height="1.85" fill="#f5eeea" />
<rect x="320.70" y="61.65" width="9.55" height="1.85" fill="#f6e5da" />
<rect x="329.95" y="61.65" width="9.55" height="1.85" fill="#c3d4eb" />
<rect x="339.20" y="61.65" width="9.55" height="1.85" fill="#aec5e4" />
<rect x="348.45" y="61.65" width="9.55" height="1.85" fill="#f5f0ed" />
<rect x="357.70" y="61.65" width="9.55" height="1.85" fill="#c5d6eb" />
<rect x="366.95" y="61.65" width="9.55" height="1.85" fill="#a0bbdf" />
<rect x="376.20" y="61.65" width="9.55" height="1.85" fill="#b8cde8" />
<rect x="385.45" y="61.65" width="9.55" height="1.85" fill="#b4cae7" />
<rect x="394.70" y="61.65" width="9.55" height="1.85" fill="#b9cee9" />
<rect x="403.95" y="61.65" width="9.55" height="1.85" fill="#7195cc" />
<rect x="413.20" y="61.65" width="9.55" height="1.85" fill="#b9cee9" />
<rect x="283.70" y="63.20" width="9.55" height="1.85" fill="#e08a6c" />
<rect x="292.95" y="63.20" width="9.55" height="1.85" fill="#eeaf91" />
<rect x="302.20" y="63.20" width="9.55" height="1.85" fill="#efb699" />
<rect x="311.45" y="63.20" width="9.55" height="1.85" fill="#f0b99e" />
<rect x="320.70" y="63.20" width="9.55" height="1.85" fill="#f1bda3" />
<rect x="329.95" y="63.20" width="9.55" height="1.85" fill="#bdd1ea" />
<rect x="339.20" y="63.20" width="9.55" height="1.85" fill="#e6eaf0" />
<rect x="348.45" y="63.20" width="9.55" height="1.85" fill="#dfe6ef" />
<rect x="357.70" y="63.20" width="9.55" height="1.85" fill="#f5eeea" />
<rect x="366.95" y="63.20" width="9.55" height="1.85" fill="#f5ece6" />
<rect x="376.20" y="63.20" width="9.55" height="1.85" fill="#9fb9df" />
<rect x="385.45" y="63.20" width="9.55" height="1.85" fill="#f5e8e0" />
<rect x="394.70" y="63.20" width="9.55" height="1.85" fill="#c4d5eb" />
<rect x="403.95" y="63.20" width="9.55" height="1.85" fill="#f5eae3" />
<rect x="413.20" y="63.20" width="9.55" height="1.85" fill="#cfdced" />
<rect x="283.70" y="64.75" width="9.55" height="1.85" fill="#a72830" />
<rect x="292.95" y="64.75" width="9.55" height="1.85" fill="#f0bca1" />
<rect x="302.20" y="64.75" width="9.55" height="1.85" fill="#f6dac9" />
<rect x="311.45" y="64.75" width="9.55" height="1.85" fill="#f2c4ad" />
<rect x="320.70" y="64.75" width="9.55" height="1.85" fill="#f5e6de" />
<rect x="329.95" y="64.75" width="9.55" height="1.85" fill="#d7e1ee" />
<rect x="339.20" y="64.75" width="9.55" height="1.85" fill="#f5eae3" />
<rect x="348.45" y="64.75" width="9.55" height="1.85" fill="#f3f2f2" />
<rect x="357.70" y="64.75" width="9.55" height="1.85" fill="#d1dded" />
<rect x="366.95" y="64.75" width="9.55" height="1.85" fill="#f6dfd1" />
<rect x="376.20" y="64.75" width="9.55" height="1.85" fill="#b9cee9" />
<rect x="385.45" y="64.75" width="9.55" height="1.85" fill="#f4f2f2" />
<rect x="394.70" y="64.75" width="9.55" height="1.85" fill="#d2deed" />
<rect x="403.95" y="64.75" width="9.55" height="1.85" fill="#e5e9f0" />
<rect x="413.20" y="64.75" width="9.55" height="1.85" fill="#f5f1ee" />
<rect x="283.70" y="66.30" width="9.55" height="1.85" fill="#b83f3a" />
<rect x="292.95" y="66.30" width="9.55" height="1.85" fill="#f5eeea" />
<rect x="302.20" y="66.30" width="9.55" height="1.85" fill="#e2e7ef" />
<rect x="311.45" y="66.30" width="9.55" height="1.85" fill="#f3cbb5" />
<rect x="320.70" y="66.30" width="9.55" height="1.85" fill="#e6eaf0" />
<rect x="329.95" y="66.30" width="9.55" height="1.85" fill="#bed1ea" />
<rect x="339.20" y="66.30" width="9.55" height="1.85" fill="#b3c9e7" />
<rect x="348.45" y="66.30" width="9.55" height="1.85" fill="#f5f1ee" />
<rect x="357.70" y="66.30" width="9.55" height="1.85" fill="#f0f0f1" />
<rect x="366.95" y="66.30" width="9.55" height="1.85" fill="#f5f0ec" />
<rect x="376.20" y="66.30" width="9.55" height="1.85" fill="#c0d3eb" />
<rect x="385.45" y="66.30" width="9.55" height="1.85" fill="#dbe3ee" />
<rect x="394.70" y="66.30" width="9.55" height="1.85" fill="#bacfe9" />
<rect x="403.95" y="66.30" width="9.55" height="1.85" fill="#f5f1ef" />
<rect x="413.20" y="66.30" width="9.55" height="1.85" fill="#f6e4da" />
<rect x="283.70" y="67.85" width="9.55" height="1.85" fill="#a3262f" />
<rect x="292.95" y="67.85" width="9.55" height="1.85" fill="#df8669" />
<rect x="302.20" y="67.85" width="9.55" height="1.85" fill="#f5e7df" />
<rect x="311.45" y="67.85" width="9.55" height="1.85" fill="#c1d3eb" />
<rect x="320.70" y="67.85" width="9.55" height="1.85" fill="#f5d4c0" />
<rect x="329.95" y="67.85" width="9.55" height="1.85" fill="#bed1ea" />
<rect x="339.20" y="67.85" width="9.55" height="1.85" fill="#b1c8e6" />
<rect x="348.45" y="67.85" width="9.55" height="1.85" fill="#c7d7ec" />
<rect x="357.70" y="67.85" width="9.55" height="1.85" fill="#ccdaec" />
<rect x="366.95" y="67.85" width="9.55" height="1.85" fill="#e3e8ef" />
<rect x="376.20" y="67.85" width="9.55" height="1.85" fill="#a1bbe0" />
<rect x="385.45" y="67.85" width="9.55" height="1.85" fill="#e1e7ef" />
<rect x="394.70" y="67.85" width="9.55" height="1.85" fill="#ebedf1" />
<rect x="403.95" y="67.85" width="9.55" height="1.85" fill="#f1f1f2" />
<rect x="413.20" y="67.85" width="9.55" height="1.85" fill="#c8d7ec" />
<rect x="283.70" y="69.40" width="9.55" height="1.85" fill="#b43a38" />
<rect x="292.95" y="69.40" width="9.55" height="1.85" fill="#f0b89d" />
<rect x="302.20" y="69.40" width="9.55" height="1.85" fill="#f6e0d4" />
<rect x="311.45" y="69.40" width="9.55" height="1.85" fill="#efb69a" />
<rect x="320.70" y="69.40" width="9.55" height="1.85" fill="#f5f3f2" />
<rect x="329.95" y="69.40" width="9.55" height="1.85" fill="#7ea0d2" />
<rect x="339.20" y="69.40" width="9.55" height="1.85" fill="#bcd0ea" />
<rect x="348.45" y="69.40" width="9.55" height="1.85" fill="#86a6d5" />
<rect x="357.70" y="69.40" width="9.55" height="1.85" fill="#dbe3ee" />
<rect x="366.95" y="69.40" width="9.55" height="1.85" fill="#c4d5eb" />
<rect x="376.20" y="69.40" width="9.55" height="1.85" fill="#b2c8e6" />
<rect x="385.45" y="69.40" width="9.55" height="1.85" fill="#c4d5eb" />
<rect x="394.70" y="69.40" width="9.55" height="1.85" fill="#dce3ee" />
<rect x="403.95" y="69.40" width="9.55" height="1.85" fill="#cedbed" />
<rect x="413.20" y="69.40" width="9.55" height="1.85" fill="#f5f2f1" />
<rect x="283.70" y="70.95" width="9.55" height="1.85" fill="#ae3134" />
<rect x="292.95" y="70.95" width="9.55" height="1.85" fill="#ca5b46" />
<rect x="302.20" y="70.95" width="9.55" height="1.85" fill="#eda888" />
<rect x="311.45" y="70.95" width="9.55" height="1.85" fill="#f5ede8" />
<rect x="320.70" y="70.95" width="9.55" height="1.85" fill="#f6dbca" />
<rect x="329.95" y="70.95" width="9.55" height="1.85" fill="#9cb7de" />
<rect x="339.20" y="70.95" width="9.55" height="1.85" fill="#b8cde8" />
<rect x="348.45" y="70.95" width="9.55" height="1.85" fill="#94b1db" />
<rect x="357.70" y="70.95" width="9.55" height="1.85" fill="#f3f2f2" />
<rect x="366.95" y="70.95" width="9.55" height="1.85" fill="#a7c0e2" />
<rect x="376.20" y="70.95" width="9.55" height="1.85" fill="#d4dfed" />
<rect x="385.45" y="70.95" width="9.55" height="1.85" fill="#cfdbed" />
<rect x="394.70" y="70.95" width="9.55" height="1.85" fill="#d3deed" />
<rect x="403.95" y="70.95" width="9.55" height="1.85" fill="#cbd9ec" />
<rect x="413.20" y="70.95" width="9.55" height="1.85" fill="#e7ebf0" />
<rect x="283.70" y="72.50" width="9.55" height="1.85" fill="#bc473d" />
<rect x="292.95" y="72.50" width="9.55" height="1.85" fill="#dc8063" />
<rect x="302.20" y="72.50" width="9.55" height="1.85" fill="#edab8c" />
<rect x="311.45" y="72.50" width="9.55" height="1.85" fill="#f6d9c7" />
<rect x="320.70" y="72.50" width="9.55" height="1.85" fill="#edeef1" />
<rect x="329.95" y="72.50" width="9.55" height="1.85" fill="#f0f0f1" />
<rect x="339.20" y="72.50" width="9.55" height="1.85" fill="#f6ded0" />
<rect x="348.45" y="72.50" width="9.55" height="1.85" fill="#cddaec" />
<rect x="357.70" y="72.50" width="9.55" height="1.85" fill="#efeff1" />
<rect x="366.95" y="72.50" width="9.55" height="1.85" fill="#f6e4da" />
<rect x="376.20" y="72.50" width="9.55" height="1.85" fill="#f6e3d8" />
<rect x="385.45" y="72.50" width="9.55" height="1.85" fill="#f5eee9" />
<rect x="394.70" y="72.50" width="9.55" height="1.85" fill="#f6e3d8" />
<rect x="403.95" y="72.50" width="9.55" height="1.85" fill="#f5e8e0" />
<rect x="413.20" y="72.50" width="9.55" height="1.85" fill="#ebedf1" />
<rect x="283.70" y="74.05" width="9.55" height="1.85" fill="#e49374" />
<rect x="292.95" y="74.05" width="9.55" height="1.85" fill="#e59475" />
<rect x="302.20" y="74.05" width="9.55" height="1.85" fill="#f5f3f2" />
<rect x="311.45" y="74.05" width="9.55" height="1.85" fill="#e7eaf0" />
<rect x="320.70" y="74.05" width="9.55" height="1.85" fill="#d8e1ee" />
<rect x="329.95" y="74.05" width="9.55" height="1.85" fill="#80a2d3" />
<rect x="339.20" y="74.05" width="9.55" height="1.85" fill="#afc6e5" />
<rect x="348.45" y="74.05" width="9.55" height="1.85" fill="#86a6d5" />
<rect x="357.70" y="74.05" width="9.55" height="1.85" fill="#bbcfea" />
<rect x="366.95" y="74.05" width="9.55" height="1.85" fill="#6288c4" />
<rect x="376.20" y="74.05" width="9.55" height="1.85" fill="#bacee9" />
<rect x="385.45" y="74.05" width="9.55" height="1.85" fill="#9cb7dd" />
<rect x="394.70" y="74.05" width="9.55" height="1.85" fill="#7598ce" />
<rect x="403.95" y="74.05" width="9.55" height="1.85" fill="#cddaec" />
<rect x="413.20" y="74.05" width="9.55" height="1.85" fill="#b4cae7" />
<rect x="283.70" y="75.60" width="9.55" height="1.85" fill="#eca786" />
<rect x="292.95" y="75.60" width="9.55" height="1.85" fill="#f1bfa5" />
<rect x="302.20" y="75.60" width="9.55" height="1.85" fill="#f2f1f2" />
<rect x="311.45" y="75.60" width="9.55" height="1.85" fill="#f6dbcc" />
<rect x="320.70" y="75.60" width="9.55" height="1.85" fill="#f5e9e2" />
<rect x="329.95" y="75.60" width="9.55" height="1.85" fill="#b3c9e6" />
<rect x="339.20" y="75.60" width="9.55" height="1.85" fill="#acc3e4" />
<rect x="348.45" y="75.60" width="9.55" height="1.85" fill="#c2d4eb" />
<rect x="357.70" y="75.60" width="9.55" height="1.85" fill="#b3c9e6" />
<rect x="366.95" y="75.60" width="9.55" height="1.85" fill="#a3bde0" />
<rect x="376.20" y="75.60" width="9.55" height="1.85" fill="#6388c4" />
<rect x="385.45" y="75.60" width="9.55" height="1.85" fill="#bacfe9" />
<rect x="394.70" y="75.60" width="9.55" height="1.85" fill="#c6d6eb" />
<rect x="403.95" y="75.60" width="9.55" height="1.85" fill="#9db8de" />
<rect x="413.20" y="75.60" width="9.55" height="1.85" fill="#9db8de" />
<rect x="283.70" y="77.15" width="9.55" height="1.85" fill="#e79a7a" />
<rect x="292.95" y="77.15" width="9.55" height="1.85" fill="#dd8265" />
<rect x="302.20" y="77.15" width="9.55" height="1.85" fill="#d1664c" />
<rect x="311.45" y="77.15" width="9.55" height="1.85" fill="#f5e7de" />
<rect x="320.70" y="77.15" width="9.55" height="1.85" fill="#f4ceb9" />
<rect x="329.95" y="77.15" width="9.55" height="1.85" fill="#f4ceb9" />
<rect x="339.20" y="77.15" width="9.55" height="1.85" fill="#f5ece7" />
<rect x="348.45" y="77.15" width="9.55" height="1.85" fill="#f5e7de" />
<rect x="357.70" y="77.15" width="9.55" height="1.85" fill="#f6e0d3" />
<rect x="366.95" y="77.15" width="9.55" height="1.85" fill="#e1e7ef" />
<rect x="376.20" y="77.15" width="9.55" height="1.85" fill="#f5ede9" />
<rect x="385.45" y="77.15" width="9.55" height="1.85" fill="#f5e8e0" />
<rect x="394.70" y="77.15" width="9.55" height="1.85" fill="#f6e1d4" />
<rect x="403.95" y="77.15" width="9.55" height="1.85" fill="#f5e9e2" />
<rect x="413.20" y="77.15" width="9.55" height="1.85" fill="#f5e9e1" />
<rect x="283.70" y="78.70" width="9.55" height="1.85" fill="#db7e61" />
<rect x="292.95" y="78.70" width="9.55" height="1.85" fill="#e28e70" />
<rect x="302.20" y="78.70" width="9.55" height="1.85" fill="#f6e2d7" />
<rect x="311.45" y="78.70" width="9.55" height="1.85" fill="#efeff1" />
<rect x="320.70" y="78.70" width="9.55" height="1.85" fill="#dce4ee" />
<rect x="329.95" y="78.70" width="9.55" height="1.85" fill="#f5e9e2" />
<rect x="339.20" y="78.70" width="9.55" height="1.85" fill="#e1e7ef" />
<rect x="348.45" y="78.70" width="9.55" height="1.85" fill="#cbd9ec" />
<rect x="357.70" y="78.70" width="9.55" height="1.85" fill="#7094cb" />
<rect x="366.95" y="78.70" width="9.55" height="1.85" fill="#c7d7eb" />
<rect x="376.20" y="78.70" width="9.55" height="1.85" fill="#cbd9ec" />
<rect x="385.45" y="78.70" width="9.55" height="1.85" fill="#eeeef1" />
<rect x="394.70" y="78.70" width="9.55" height="1.85" fill="#cad8ec" />
<rect x="403.95" y="78.70" width="9.55" height="1.85" fill="#c3d4eb" />
<rect x="413.20" y="78.70" width="9.55" height="1.85" fill="#d9e2ee" />
<rect x="283.70" y="80.25" width="9.55" height="1.85" fill="#be493e" />
<rect x="292.95" y="80.25" width="9.55" height="1.85" fill="#f0ba9f" />
<rect x="302.20" y="80.25" width="9.55" height="1.85" fill="#ebedf1" />
<rect x="311.45" y="80.25" width="9.55" height="1.85" fill="#f3c7b0" />
<rect x="320.70" y="80.25" width="9.55" height="1.85" fill="#f5d1bd" />
<rect x="329.95" y="80.25" width="9.55" height="1.85" fill="#7b9dd0" />
<rect x="339.20" y="80.25" width="9.55" height="1.85" fill="#94b1db" />
<rect x="348.45" y="80.25" width="9.55" height="1.85" fill="#aac2e3" />
<rect x="357.70" y="80.25" width="9.55" height="1.85" fill="#abc3e4" />
<rect x="366.95" y="80.25" width="9.55" height="1.85" fill="#90aed9" />
<rect x="376.20" y="80.25" width="9.55" height="1.85" fill="#87a7d6" />
<rect x="385.45" y="80.25" width="9.55" height="1.85" fill="#e4e9f0" />
<rect x="394.70" y="80.25" width="9.55" height="1.85" fill="#c5d6eb" />
<rect x="403.95" y="80.25" width="9.55" height="1.85" fill="#89a8d6" />
<rect x="413.20" y="80.25" width="9.55" height="1.85" fill="#89a9d6" />
<rect x="283.70" y="81.80" width="9.55" height="1.85" fill="#9c232c" />
<rect x="292.95" y="81.80" width="9.55" height="1.85" fill="#ae3134" />
<rect x="302.20" y="81.80" width="9.55" height="1.85" fill="#efb497" />
<rect x="311.45" y="81.80" width="9.55" height="1.85" fill="#f5e7de" />
<rect x="320.70" y="81.80" width="9.55" height="1.85" fill="#f6dccc" />
<rect x="329.95" y="81.80" width="9.55" height="1.85" fill="#c1d3eb" />
<rect x="339.20" y="81.80" width="9.55" height="1.85" fill="#ecedf1" />
<rect x="348.45" y="81.80" width="9.55" height="1.85" fill="#f5f2f0" />
<rect x="357.70" y="81.80" width="9.55" height="1.85" fill="#f5e8df" />
<rect x="366.95" y="81.80" width="9.55" height="1.85" fill="#e1e7ef" />
<rect x="376.20" y="81.80" width="9.55" height="1.85" fill="#f5f0ee" />
<rect x="385.45" y="81.80" width="9.55" height="1.85" fill="#f5e8e1" />
<rect x="394.70" y="81.80" width="9.55" height="1.85" fill="#f5eae3" />
<rect x="403.95" y="81.80" width="9.55" height="1.85" fill="#f6e2d7" />
<rect x="413.20" y="81.80" width="9.55" height="1.85" fill="#f5e6dd" />
<rect x="283.70" y="83.35" width="9.55" height="1.85" fill="#b8403a" />
<rect x="292.95" y="83.35" width="9.55" height="1.85" fill="#f0b79b" />
<rect x="302.20" y="83.35" width="9.55" height="1.85" fill="#f5f1ef" />
<rect x="311.45" y="83.35" width="9.55" height="1.85" fill="#f5ede9" />
<rect x="320.70" y="83.35" width="9.55" height="1.85" fill="#f5ece6" />
<rect x="329.95" y="83.35" width="9.55" height="1.85" fill="#cbd9ec" />
<rect x="339.20" y="83.35" width="9.55" height="1.85" fill="#d5e0ee" />
<rect x="348.45" y="83.35" width="9.55" height="1.85" fill="#c9d8ec" />
<rect x="357.70" y="83.35" width="9.55" height="1.85" fill="#d3deed" />
<rect x="366.95" y="83.35" width="9.55" height="1.85" fill="#c2d3eb" />
<rect x="376.20" y="83.35" width="9.55" height="1.85" fill="#a9c1e2" />
<rect x="385.45" y="83.35" width="9.55" height="1.85" fill="#dae2ee" />
<rect x="394.70" y="83.35" width="9.55" height="1.85" fill="#ecedf1" />
<rect x="403.95" y="83.35" width="9.55" height="1.85" fill="#e2e7ef" />
<rect x="413.20" y="83.35" width="9.55" height="1.85" fill="#d5dfed" />
<rect x="283.70" y="84.90" width="9.55" height="1.85" fill="#df886a" />
<rect x="292.95" y="84.90" width="9.55" height="1.85" fill="#edeef1" />
<rect x="302.20" y="84.90" width="9.55" height="1.85" fill="#f6dbcb" />
<rect x="311.45" y="84.90" width="9.55" height="1.85" fill="#f5efec" />
<rect x="320.70" y="84.90" width="9.55" height="1.85" fill="#f6daca" />
<rect x="329.95" y="84.90" width="9.55" height="1.85" fill="#c1d3eb" />
<rect x="339.20" y="84.90" width="9.55" height="1.85" fill="#95b2db" />
<rect x="348.45" y="84.90" width="9.55" height="1.85" fill="#bed1ea" />
<rect x="357.70" y="84.90" width="9.55" height="1.85" fill="#f5e8df" />
<rect x="366.95" y="84.90" width="9.55" height="1.85" fill="#cddaec" />
<rect x="376.20" y="84.90" width="9.55" height="1.85" fill="#b9cee9" />
<rect x="385.45" y="84.90" width="9.55" height="1.85" fill="#cad9ec" />
<rect x="394.70" y="84.90" width="9.55" height="1.85" fill="#efeff1" />
<rect x="403.95" y="84.90" width="9.55" height="1.85" fill="#f5f3f1" />
<rect x="413.20" y="84.90" width="9.55" height="1.85" fill="#f2f1f2" />
<rect x="283.70" y="86.45" width="9.55" height="1.85" fill="#ab2d32" />
<rect x="292.95" y="86.45" width="9.55" height="1.85" fill="#eca787" />
<rect x="302.20" y="86.45" width="9.55" height="1.85" fill="#f1bea5" />
<rect x="311.45" y="86.45" width="9.55" height="1.85" fill="#e49173" />
<rect x="320.70" y="86.45" width="9.55" height="1.85" fill="#f3c9b3" />
<rect x="329.95" y="86.45" width="9.55" height="1.85" fill="#f6e3d8" />
<rect x="339.20" y="86.45" width="9.55" height="1.85" fill="#dde4ef" />
<rect x="348.45" y="86.45" width="9.55" height="1.85" fill="#f0f0f1" />
<rect x="357.70" y="86.45" width="9.55" height="1.85" fill="#f5e7df" />
<rect x="366.95" y="86.45" width="9.55" height="1.85" fill="#e8ebf0" />
<rect x="376.20" y="86.45" width="9.55" height="1.85" fill="#f6e3d7" />
<rect x="385.45" y="86.45" width="9.55" height="1.85" fill="#f5e9e2" />
<rect x="394.70" y="86.45" width="9.55" height="1.85" fill="#f6e5db" />
<rect x="403.95" y="86.45" width="9.55" height="1.85" fill="#f5f0ee" />
<rect x="413.20" y="86.45" width="9.55" height="1.85" fill="#f0bca1" />
<rect x="283.70" y="88.00" width="9.55" height="1.85" fill="#c95945" />
<rect x="292.95" y="88.00" width="9.55" height="1.85" fill="#eca483" />
<rect x="302.20" y="88.00" width="9.55" height="1.85" fill="#d1674d" />
<rect x="311.45" y="88.00" width="9.55" height="1.85" fill="#f6dfd1" />
<rect x="320.70" y="88.00" width="9.55" height="1.85" fill="#f4cfba" />
<rect x="329.95" y="88.00" width="9.55" height="1.85" fill="#f5e7de" />
<rect x="339.20" y="88.00" width="9.55" height="1.85" fill="#f5f2f1" />
<rect x="348.45" y="88.00" width="9.55" height="1.85" fill="#cddaec" />
<rect x="357.70" y="88.00" width="9.55" height="1.85" fill="#f5f1ef" />
<rect x="366.95" y="88.00" width="9.55" height="1.85" fill="#f5f3f2" />
<rect x="376.20" y="88.00" width="9.55" height="1.85" fill="#f6e5db" />
<rect x="385.45" y="88.00" width="9.55" height="1.85" fill="#f5e9e2" />
<rect x="394.70" y="88.00" width="9.55" height="1.85" fill="#f4f2f2" />
<rect x="403.95" y="88.00" width="9.55" height="1.85" fill="#f6e5db" />
<rect x="413.20" y="88.00" width="9.55" height="1.85" fill="#f5e7de" />
<rect x="283.70" y="89.55" width="9.55" height="1.85" fill="#c95a46" />
<rect x="292.95" y="89.55" width="9.55" height="1.85" fill="#f1c0a7" />
<rect x="302.20" y="89.55" width="9.55" height="1.85" fill="#f3c8b2" />
<rect x="311.45" y="89.55" width="9.55" height="1.85" fill="#f5f3f2" />
<rect x="320.70" y="89.55" width="9.55" height="1.85" fill="#f3f1f2" />
<rect x="329.95" y="89.55" width="9.55" height="1.85" fill="#dbe3ee" />
<rect x="339.20" y="89.55" width="9.55" height="1.85" fill="#b3c9e6" />
<rect x="348.45" y="89.55" width="9.55" height="1.85" fill="#c9d8ec" />
<rect x="357.70" y="89.55" width="9.55" height="1.85" fill="#9fbadf" />
<rect x="366.95" y="89.55" width="9.55" height="1.85" fill="#bfd2ea" />
<rect x="376.20" y="89.55" width="9.55" height="1.85" fill="#ebedf1" />
<rect x="385.45" y="89.55" width="9.55" height="1.85" fill="#ebedf1" />
<rect x="394.70" y="89.55" width="9.55" height="1.85" fill="#d9e2ee" />
<rect x="403.95" y="89.55" width="9.55" height="1.85" fill="#dce3ee" />
<rect x="413.20" y="89.55" width="9.55" height="1.85" fill="#bfd2ea" />
<rect x="283.70" y="91.10" width="9.55" height="1.85" fill="#ae3134" />
<rect x="292.95" y="91.10" width="9.55" height="1.85" fill="#ca5c46" />
<rect x="302.20" y="91.10" width="9.55" height="1.85" fill="#f5e6dd" />
<rect x="311.45" y="91.10" width="9.55" height="1.85" fill="#f6d8c6" />
<rect x="320.70" y="91.10" width="9.55" height="1.85" fill="#d9e2ee" />
<rect x="329.95" y="91.10" width="9.55" height="1.85" fill="#f6e3d8" />
<rect x="339.20" y="91.10" width="9.55" height="1.85" fill="#f6dfd2" />
<rect x="348.45" y="91.10" width="9.55" height="1.85" fill="#c6d6eb" />
<rect x="357.70" y="91.10" width="9.55" height="1.85" fill="#f5eeea" />
<rect x="366.95" y="91.10" width="9.55" height="1.85" fill="#f5e9e1" />
<rect x="376.20" y="91.10" width="9.55" height="1.85" fill="#cfdced" />
<rect x="385.45" y="91.10" width="9.55" height="1.85" fill="#cddaec" />
<rect x="394.70" y="91.10" width="9.55" height="1.85" fill="#e3e8ef" />
<rect x="403.95" y="91.10" width="9.55" height="1.85" fill="#f5f2f1" />
<rect x="413.20" y="91.10" width="9.55" height="1.85" fill="#e5e9f0" />
<rect x="283.70" y="92.65" width="9.55" height="1.85" fill="#577ebf" />
<rect x="292.95" y="92.65" width="9.55" height="1.85" fill="#89a9d6" />
<rect x="302.20" y="92.65" width="9.55" height="1.85" fill="#bfd2ea" />
<rect x="311.45" y="92.65" width="9.55" height="1.85" fill="#f5efec" />
<rect x="320.70" y="92.65" width="9.55" height="1.85" fill="#f5eae3" />
<rect x="329.95" y="92.65" width="9.55" height="1.85" fill="#cad9ec" />
<rect x="339.20" y="92.65" width="9.55" height="1.85" fill="#eeeff1" />
<rect x="348.45" y="92.65" width="9.55" height="1.85" fill="#efeff1" />
<rect x="357.70" y="92.65" width="9.55" height="1.85" fill="#f5efec" />
<rect x="366.95" y="92.65" width="9.55" height="1.85" fill="#f6e0d3" />
<rect x="376.20" y="92.65" width="9.55" height="1.85" fill="#f6dccd" />
<rect x="385.45" y="92.65" width="9.55" height="1.85" fill="#f5d1bd" />
<rect x="394.70" y="92.65" width="9.55" height="1.85" fill="#ecedf1" />
<rect x="403.95" y="92.65" width="9.55" height="1.85" fill="#e4e9f0" />
<rect x="413.20" y="92.65" width="9.55" height="1.85" fill="#f5e8e0" />
<rect x="283.70" y="94.20" width="9.55" height="1.85" fill="#456bb2" />
<rect x="292.95" y="94.20" width="9.55" height="1.85" fill="#6d91c9" />
<rect x="302.20" y="94.20" width="9.55" height="1.85" fill="#80a2d3" />
<rect x="311.45" y="94.20" width="9.55" height="1.85" fill="#dfe6ef" />
<rect x="320.70" y="94.20" width="9.55" height="1.85" fill="#eeeff1" />
<rect x="329.95" y="94.20" width="9.55" height="1.85" fill="#edeef1" />
<rect x="339.20" y="94.20" width="9.55" height="1.85" fill="#e3e8f0" />
<rect x="348.45" y="94.20" width="9.55" height="1.85" fill="#f5eae4" />
<rect x="357.70" y="94.20" width="9.55" height="1.85" fill="#c1d3eb" />
<rect x="366.95" y="94.20" width="9.55" height="1.85" fill="#f5f0ee" />
<rect x="376.20" y="94.20" width="9.55" height="1.85" fill="#f6ded0" />
<rect x="385.45" y="94.20" width="9.55" height="1.85" fill="#eeeff1" />
<rect x="394.70" y="94.20" width="9.55" height="1.85" fill="#f6ded0" />
<rect x="403.95" y="94.20" width="9.55" height="1.85" fill="#f5e8e0" />
<rect x="413.20" y="94.20" width="9.55" height="1.85" fill="#dae3ee" />
<rect x="283.70" y="95.75" width="9.55" height="1.85" fill="#446bb2" />
<rect x="292.95" y="95.75" width="9.55" height="1.85" fill="#7ea0d2" />
<rect x="302.20" y="95.75" width="9.55" height="1.85" fill="#b8cde9" />
<rect x="311.45" y="95.75" width="9.55" height="1.85" fill="#c6d6eb" />
<rect x="320.70" y="95.75" width="9.55" height="1.85" fill="#ccdaec" />
<rect x="329.95" y="95.75" width="9.55" height="1.85" fill="#eaecf0" />
<rect x="339.20" y="95.75" width="9.55" height="1.85" fill="#f5f2f1" />
<rect x="348.45" y="95.75" width="9.55" height="1.85" fill="#f6ddce" />
<rect x="357.70" y="95.75" width="9.55" height="1.85" fill="#f6ddce" />
<rect x="366.95" y="95.75" width="9.55" height="1.85" fill="#f5ede8" />
<rect x="376.20" y="95.75" width="9.55" height="1.85" fill="#f2f1f2" />
<rect x="385.45" y="95.75" width="9.55" height="1.85" fill="#f6e5dc" />
<rect x="394.70" y="95.75" width="9.55" height="1.85" fill="#f5ede9" />
<rect x="403.95" y="95.75" width="9.55" height="1.85" fill="#e2e7ef" />
<rect x="413.20" y="95.75" width="9.55" height="1.85" fill="#f5ece7" />
<rect x="283.70" y="97.30" width="9.55" height="1.85" fill="#4d74b9" />
<rect x="292.95" y="97.30" width="9.55" height="1.85" fill="#7ea0d2" />
<rect x="302.20" y="97.30" width="9.55" height="1.85" fill="#8baad7" />
<rect x="311.45" y="97.30" width="9.55" height="1.85" fill="#f6e5dc" />
<rect x="320.70" y="97.30" width="9.55" height="1.85" fill="#d8e1ee" />
<rect x="329.95" y="97.30" width="9.55" height="1.85" fill="#f5e7df" />
<rect x="339.20" y="97.30" width="9.55" height="1.85" fill="#f5f2f1" />
<rect x="348.45" y="97.30" width="9.55" height="1.85" fill="#f6d9c8" />
<rect x="357.70" y="97.30" width="9.55" height="1.85" fill="#c5d6eb" />
<rect x="366.95" y="97.30" width="9.55" height="1.85" fill="#f5f0ed" />
<rect x="376.20" y="97.30" width="9.55" height="1.85" fill="#f6ded0" />
<rect x="385.45" y="97.30" width="9.55" height="1.85" fill="#f6d9c7" />
<rect x="394.70" y="97.30" width="9.55" height="1.85" fill="#edaa8a" />
<rect x="403.95" y="97.30" width="9.55" height="1.85" fill="#f5e8e0" />
<rect x="413.20" y="97.30" width="9.55" height="1.85" fill="#f6d9c8" />
<rect x="283.70" y="98.85" width="9.55" height="1.85" fill="#779acf" />
<rect x="292.95" y="98.85" width="9.55" height="1.85" fill="#8dacd8" />
<rect x="302.20" y="98.85" width="9.55" height="1.85" fill="#a6bfe1" />
<rect x="311.45" y="98.85" width="9.55" height="1.85" fill="#e4e9f0" />
<rect x="320.70" y="98.85" width="9.55" height="1.85" fill="#d1dded" />
<rect x="329.95" y="98.85" width="9.55" height="1.85" fill="#f6d8c5" />
<rect x="339.20" y="98.85" width="9.55" height="1.85" fill="#efeff1" />
<rect x="348.45" y="98.85" width="9.55" height="1.85" fill="#f6d9c8" />
<rect x="357.70" y="98.85" width="9.55" height="1.85" fill="#e39172" />
<rect x="366.95" y="98.85" width="9.55" height="1.85" fill="#f6dac9" />
<rect x="376.20" y="98.85" width="9.55" height="1.85" fill="#f4d0bb" />
<rect x="385.45" y="98.85" width="9.55" height="1.85" fill="#eeae8f" />
<rect x="394.70" y="98.85" width="9.55" height="1.85" fill="#f5d4c0" />
<rect x="403.95" y="98.85" width="9.55" height="1.85" fill="#f5ece6" />
<rect x="413.20" y="98.85" width="9.55" height="1.85" fill="#f6dbcb" />
<rect x="283.70" y="100.40" width="9.55" height="1.85" fill="#6d91ca" />
<rect x="292.95" y="100.40" width="9.55" height="1.85" fill="#5d82c1" />
<rect x="302.20" y="100.40" width="9.55" height="1.85" fill="#eeeff1" />
<rect x="311.45" y="100.40" width="9.55" height="1.85" fill="#f5eae3" />
<rect x="320.70" y="100.40" width="9.55" height="1.85" fill="#eeeff1" />
<rect x="329.95" y="100.40" width="9.55" height="1.85" fill="#f5e8e0" />
<rect x="339.20" y="100.40" width="9.55" height="1.85" fill="#f5efeb" />
<rect x="348.45" y="100.40" width="9.55" height="1.85" fill="#f0bba1" />
<rect x="357.70" y="100.40" width="9.55" height="1.85" fill="#f6e3d8" />
<rect x="366.95" y="100.40" width="9.55" height="1.85" fill="#f2c4ad" />
<rect x="376.20" y="100.40" width="9.55" height="1.85" fill="#f6decf" />
<rect x="385.45" y="100.40" width="9.55" height="1.85" fill="#f6e1d4" />
<rect x="394.70" y="100.40" width="9.55" height="1.85" fill="#f2c3ab" />
<rect x="403.95" y="100.40" width="9.55" height="1.85" fill="#f2c2a9" />
<rect x="413.20" y="100.40" width="9.55" height="1.85" fill="#f6e1d5" />
<rect x="283.70" y="101.95" width="9.55" height="1.85" fill="#6388c5" />
<rect x="292.95" y="101.95" width="9.55" height="1.85" fill="#688cc7" />
<rect x="302.20" y="101.95" width="9.55" height="1.85" fill="#a6bfe2" />
<rect x="311.45" y="101.95" width="9.55" height="1.85" fill="#f5f3f2" />
<rect x="320.70" y="101.95" width="9.55" height="1.85" fill="#f5eeea" />
<rect x="329.95" y="101.95" width="9.55" height="1.85" fill="#d4dfed" />
<rect x="339.20" y="101.95" width="9.55" height="1.85" fill="#f4cdb8" />
<rect x="348.45" y="101.95" width="9.55" height="1.85" fill="#f5ede8" />
<rect x="357.70" y="101.95" width="9.55" height="1.85" fill="#f6dac9" />
<rect x="366.95" y="101.95" width="9.55" height="1.85" fill="#f5f1ee" />
<rect x="376.20" y="101.95" width="9.55" height="1.85" fill="#f6e5db" />
<rect x="385.45" y="101.95" width="9.55" height="1.85" fill="#dae3ee" />
<rect x="394.70" y="101.95" width="9.55" height="1.85" fill="#f1bea4" />
<rect x="403.95" y="101.95" width="9.55" height="1.85" fill="#f6dac9" />
<rect x="413.20" y="101.95" width="9.55" height="1.85" fill="#d4dfed" />
<rect x="283.70" y="103.50" width="9.55" height="1.85" fill="#233e83" />
<rect x="292.95" y="103.50" width="9.55" height="1.85" fill="#8cabd7" />
<rect x="302.20" y="103.50" width="9.55" height="1.85" fill="#7c9ed1" />
<rect x="311.45" y="103.50" width="9.55" height="1.85" fill="#b6cbe8" />
<rect x="320.70" y="103.50" width="9.55" height="1.85" fill="#ccdaec" />
<rect x="329.95" y="103.50" width="9.55" height="1.85" fill="#cddbec" />
<rect x="339.20" y="103.50" width="9.55" height="1.85" fill="#b6cbe8" />
<rect x="348.45" y="103.50" width="9.55" height="1.85" fill="#efeff1" />
<rect x="357.70" y="103.50" width="9.55" height="1.85" fill="#ccdaec" />
<rect x="366.95" y="103.50" width="9.55" height="1.85" fill="#f5f1ee" />
<rect x="376.20" y="103.50" width="9.55" height="1.85" fill="#f5e9e1" />
<rect x="385.45" y="103.50" width="9.55" height="1.85" fill="#f5e6dd" />
<rect x="394.70" y="103.50" width="9.55" height="1.85" fill="#f4f3f2" />
<rect x="403.95" y="103.50" width="9.55" height="1.85" fill="#cbd9ec" />
<rect x="413.20" y="103.50" width="9.55" height="1.85" fill="#eeeff1" />
<rect x="283.70" y="105.05" width="9.55" height="1.85" fill="#80a1d3" />
<rect x="292.95" y="105.05" width="9.55" height="1.85" fill="#88a8d6" />
<rect x="302.20" y="105.05" width="9.55" height="1.85" fill="#97b3dc" />
<rect x="311.45" y="105.05" width="9.55" height="1.85" fill="#b4cae7" />
<rect x="320.70" y="105.05" width="9.55" height="1.85" fill="#cddaec" />
<rect x="329.95" y="105.05" width="9.55" height="1.85" fill="#cad9ec" />
<rect x="339.20" y="105.05" width="9.55" height="1.85" fill="#e7ebf0" />
<rect x="348.45" y="105.05" width="9.55" height="1.85" fill="#f5e6dd" />
<rect x="357.70" y="105.05" width="9.55" height="1.85" fill="#f6dccd" />
<rect x="366.95" y="105.05" width="9.55" height="1.85" fill="#f6dbcb" />
<rect x="376.20" y="105.05" width="9.55" height="1.85" fill="#edac8e" />
<rect x="385.45" y="105.05" width="9.55" height="1.85" fill="#f5ede8" />
<rect x="394.70" y="105.05" width="9.55" height="1.85" fill="#f6e4da" />
<rect x="403.95" y="105.05" width="9.55" height="1.85" fill="#eead8e" />
<rect x="413.20" y="105.05" width="9.55" height="1.85" fill="#c3d4eb" />
<rect x="283.70" y="106.60" width="9.55" height="1.85" fill="#4f76ba" />
<rect x="292.95" y="106.60" width="9.55" height="1.85" fill="#7194cb" />
<rect x="302.20" y="106.60" width="9.55" height="1.85" fill="#acc4e4" />
<rect x="311.45" y="106.60" width="9.55" height="1.85" fill="#bcd0ea" />
<rect x="320.70" y="106.60" width="9.55" height="1.85" fill="#ebedf1" />
<rect x="329.95" y="106.60" width="9.55" height="1.85" fill="#eaecf1" />
<rect x="339.20" y="106.60" width="9.55" height="1.85" fill="#f5e8e0" />
<rect x="348.45" y="106.60" width="9.55" height="1.85" fill="#c6d6eb" />
<rect x="357.70" y="106.60" width="9.55" height="1.85" fill="#f5f3f1" />
<rect x="366.95" y="106.60" width="9.55" height="1.85" fill="#f6e5db" />
<rect x="376.20" y="106.60" width="9.55" height="1.85" fill="#f5f3f1" />
<rect x="385.45" y="106.60" width="9.55" height="1.85" fill="#f5f3f2" />
<rect x="394.70" y="106.60" width="9.55" height="1.85" fill="#f6dbca" />
<rect x="403.95" y="106.60" width="9.55" height="1.85" fill="#ebedf1" />
<rect x="413.20" y="106.60" width="9.55" height="1.85" fill="#f6e4d9" />
<rect x="283.70" y="108.15" width="9.55" height="1.85" fill="#6186c4" />
<rect x="292.95" y="108.15" width="9.55" height="1.85" fill="#8dacd8" />
<rect x="302.20" y="108.15" width="9.55" height="1.85" fill="#a7c0e2" />
<rect x="311.45" y="108.15" width="9.55" height="1.85" fill="#a2bce0" />
<rect x="320.70" y="108.15" width="9.55" height="1.85" fill="#efeff1" />
<rect x="329.95" y="108.15" width="9.55" height="1.85" fill="#f6e3d9" />
<rect x="339.20" y="108.15" width="9.55" height="1.85" fill="#f5eeeb" />
<rect x="348.45" y="108.15" width="9.55" height="1.85" fill="#f6dfd1" />
<rect x="357.70" y="108.15" width="9.55" height="1.85" fill="#f1bfa5" />
<rect x="366.95" y="108.15" width="9.55" height="1.85" fill="#f6e4da" />
<rect x="376.20" y="108.15" width="9.55" height="1.85" fill="#f1bea4" />
<rect x="385.45" y="108.15" width="9.55" height="1.85" fill="#e69677" />
<rect x="394.70" y="108.15" width="9.55" height="1.85" fill="#f6dfd2" />
<rect x="403.95" y="108.15" width="9.55" height="1.85" fill="#f6ddce" />
<rect x="413.20" y="108.15" width="9.55" height="1.85" fill="#f6e2d6" />
<rect x="283.70" y="109.70" width="9.55" height="1.85" fill="#6a8ec8" />
<rect x="292.95" y="109.70" width="9.55" height="1.85" fill="#a8c0e2" />
<rect x="302.20" y="109.70" width="9.55" height="1.85" fill="#9ab5dd" />
<rect x="311.45" y="109.70" width="9.55" height="1.85" fill="#dce4ee" />
<rect x="320.70" y="109.70" width="9.55" height="1.85" fill="#f5f1ef" />
<rect x="329.95" y="109.70" width="9.55" height="1.85" fill="#dfe5ef" />
<rect x="339.20" y="109.70" width="9.55" height="1.85" fill="#f0b79b" />
<rect x="348.45" y="109.70" width="9.55" height="1.85" fill="#efb69a" />
<rect x="357.70" y="109.70" width="9.55" height="1.85" fill="#f5e9e2" />
<rect x="366.95" y="109.70" width="9.55" height="1.85" fill="#eeae8f" />
<rect x="376.20" y="109.70" width="9.55" height="1.85" fill="#f2c4ac" />
<rect x="385.45" y="109.70" width="9.55" height="1.85" fill="#efb295" />
<rect x="394.70" y="109.70" width="9.55" height="1.85" fill="#f0b99e" />
<rect x="403.95" y="109.70" width="9.55" height="1.85" fill="#f5eeea" />
<rect x="413.20" y="109.70" width="9.55" height="1.85" fill="#f6dac9" />
<rect x="283.70" y="111.25" width="9.55" height="1.85" fill="#4b73b8" />
<rect x="292.95" y="111.25" width="9.55" height="1.85" fill="#5e83c2" />
<rect x="302.20" y="111.25" width="9.55" height="1.85" fill="#7d9fd2" />
<rect x="311.45" y="111.25" width="9.55" height="1.85" fill="#b3c9e6" />
<rect x="320.70" y="111.25" width="9.55" height="1.85" fill="#f5ede8" />
<rect x="329.95" y="111.25" width="9.55" height="1.85" fill="#f0b99e" />
<rect x="339.20" y="111.25" width="9.55" height="1.85" fill="#f6d6c3" />
<rect x="348.45" y="111.25" width="9.55" height="1.85" fill="#f3cab5" />
<rect x="357.70" y="111.25" width="9.55" height="1.85" fill="#d9795d" />
<rect x="366.95" y="111.25" width="9.55" height="1.85" fill="#f5d4c1" />
<rect x="376.20" y="111.25" width="9.55" height="1.85" fill="#f5d5c2" />
<rect x="385.45" y="111.25" width="9.55" height="1.85" fill="#eeb194" />
<rect x="394.70" y="111.25" width="9.55" height="1.85" fill="#efb598" />
<rect x="403.95" y="111.25" width="9.55" height="1.85" fill="#f5e7de" />
<rect x="413.20" y="111.25" width="9.55" height="1.85" fill="#f5e9e2" />
<rect x="283.70" y="112.80" width="9.55" height="1.85" fill="#5a80c0" />
<rect x="292.95" y="112.80" width="9.55" height="1.85" fill="#4870b6" />
<rect x="302.20" y="112.80" width="9.55" height="1.85" fill="#9eb8de" />
<rect x="311.45" y="112.80" width="9.55" height="1.85" fill="#bcd0ea" />
<rect x="320.70" y="112.80" width="9.55" height="1.85" fill="#f5f2f0" />
<rect x="329.95" y="112.80" width="9.55" height="1.85" fill="#f5f2f0" />
<rect x="339.20" y="112.80" width="9.55" height="1.85" fill="#f5ede8" />
<rect x="348.45" y="112.80" width="9.55" height="1.85" fill="#f5e8e0" />
<rect x="357.70" y="112.80" width="9.55" height="1.85" fill="#f1bfa6" />
<rect x="366.95" y="112.80" width="9.55" height="1.85" fill="#efb599" />
<rect x="376.20" y="112.80" width="9.55" height="1.85" fill="#f6dfd1" />
<rect x="385.45" y="112.80" width="9.55" height="1.85" fill="#f2c1a8" />
<rect x="394.70" y="112.80" width="9.55" height="1.85" fill="#f5e7df" />
<rect x="403.95" y="112.80" width="9.55" height="1.85" fill="#f6e3d8" />
<rect x="413.20" y="112.80" width="9.55" height="1.85" fill="#f6d9c7" />
<rect x="283.70" y="114.35" width="9.55" height="1.85" fill="#5179bc" />
<rect x="292.95" y="114.35" width="9.55" height="1.85" fill="#7fa1d2" />
<rect x="302.20" y="114.35" width="9.55" height="1.85" fill="#bed1ea" />
<rect x="311.45" y="114.35" width="9.55" height="1.85" fill="#a9c1e3" />
<rect x="320.70" y="114.35" width="9.55" height="1.85" fill="#f5f1ef" />
<rect x="329.95" y="114.35" width="9.55" height="1.85" fill="#f5ede8" />
<rect x="339.20" y="114.35" width="9.55" height="1.85" fill="#f6d7c5" />
<rect x="348.45" y="114.35" width="9.55" height="1.85" fill="#f5e6dd" />
<rect x="357.70" y="114.35" width="9.55" height="1.85" fill="#f5ede8" />
<rect x="366.95" y="114.35" width="9.55" height="1.85" fill="#f2c3ab" />
<rect x="376.20" y="114.35" width="9.55" height="1.85" fill="#f0b99d" />
<rect x="385.45" y="114.35" width="9.55" height="1.85" fill="#f5d1bc" />
<rect x="394.70" y="114.35" width="9.55" height="1.85" fill="#edaa8b" />
<rect x="403.95" y="114.35" width="9.55" height="1.85" fill="#f6dbcb" />
<rect x="413.20" y="114.35" width="9.55" height="1.85" fill="#f6e0d3" />
<rect x="283.70" y="115.90" width="9.55" height="1.85" fill="#2e4f9b" />
<rect x="292.95" y="115.90" width="9.55" height="1.85" fill="#5f84c2" />
<rect x="302.20" y="115.90" width="9.55" height="1.85" fill="#a7c0e2" />
<rect x="311.45" y="115.90" width="9.55" height="1.85" fill="#eceef1" />
<rect x="320.70" y="115.90" width="9.55" height="1.85" fill="#e8ebf0" />
<rect x="329.95" y="115.90" width="9.55" height="1.85" fill="#f5e9e1" />
<rect x="339.20" y="115.90" width="9.55" height="1.85" fill="#f4f2f2" />
<rect x="348.45" y="115.90" width="9.55" height="1.85" fill="#f6dbcb" />
<rect x="357.70" y="115.90" width="9.55" height="1.85" fill="#eda989" />
<rect x="366.95" y="115.90" width="9.55" height="1.85" fill="#f6e4da" />
<rect x="376.20" y="115.90" width="9.55" height="1.85" fill="#e08a6c" />
<rect x="385.45" y="115.90" width="9.55" height="1.85" fill="#f6e1d5" />
<rect x="394.70" y="115.90" width="9.55" height="1.85" fill="#f6d9c8" />
<rect x="403.95" y="115.90" width="9.55" height="1.85" fill="#f6e0d2" />
<rect x="413.20" y="115.90" width="9.55" height="1.85" fill="#f4cdb8" />
<rect x="283.70" y="117.45" width="9.55" height="1.85" fill="#1d3474" />
<rect x="292.95" y="117.45" width="9.55" height="1.85" fill="#799bcf" />
<rect x="302.20" y="117.45" width="9.55" height="1.85" fill="#b3c9e7" />
<rect x="311.45" y="117.45" width="9.55" height="1.85" fill="#d0dced" />
<rect x="320.70" y="117.45" width="9.55" height="1.85" fill="#f6ddce" />
<rect x="329.95" y="117.45" width="9.55" height="1.85" fill="#dee5ef" />
<rect x="339.20" y="117.45" width="9.55" height="1.85" fill="#eaecf0" />
<rect x="348.45" y="117.45" width="9.55" height="1.85" fill="#f6e5db" />
<rect x="357.70" y="117.45" width="9.55" height="1.85" fill="#f5e7de" />
<rect x="366.95" y="117.45" width="9.55" height="1.85" fill="#f4ceb8" />
<rect x="376.20" y="117.45" width="9.55" height="1.85" fill="#dee5ef" />
<rect x="385.45" y="117.45" width="9.55" height="1.85" fill="#f5f0ee" />
<rect x="394.70" y="117.45" width="9.55" height="1.85" fill="#8cabd7" />
<rect x="403.95" y="117.45" width="9.55" height="1.85" fill="#f5e9e1" />
<rect x="413.20" y="117.45" width="9.55" height="1.85" fill="#e3e8ef" />
<rect x="283.70" y="119.00" width="9.55" height="1.85" fill="#aac2e3" />
<rect x="292.95" y="119.00" width="9.55" height="1.85" fill="#7b9dd0" />
<rect x="302.20" y="119.00" width="9.55" height="1.85" fill="#a4bde1" />
<rect x="311.45" y="119.00" width="9.55" height="1.85" fill="#c5d5eb" />
<rect x="320.70" y="119.00" width="9.55" height="1.85" fill="#dae2ee" />
<rect x="329.95" y="119.00" width="9.55" height="1.85" fill="#f5f3f1" />
<rect x="339.20" y="119.00" width="9.55" height="1.85" fill="#f6dac9" />
<rect x="348.45" y="119.00" width="9.55" height="1.85" fill="#f6dbca" />
<rect x="357.70" y="119.00" width="9.55" height="1.85" fill="#f4cfbb" />
<rect x="366.95" y="119.00" width="9.55" height="1.85" fill="#f6d6c4" />
<rect x="376.20" y="119.00" width="9.55" height="1.85" fill="#eeb294" />
<rect x="385.45" y="119.00" width="9.55" height="1.85" fill="#f1bea5" />
<rect x="394.70" y="119.00" width="9.55" height="1.85" fill="#f5d5c3" />
<rect x="403.95" y="119.00" width="9.55" height="1.85" fill="#f4ceb9" />
<rect x="413.20" y="119.00" width="9.55" height="1.85" fill="#f6e0d3" />
<rect x="283.70" y="120.55" width="9.55" height="1.85" fill="#7497cd" />
<rect x="292.95" y="120.55" width="9.55" height="1.85" fill="#7598cd" />
<rect x="302.20" y="120.55" width="9.55" height="1.85" fill="#6f92ca" />
<rect x="311.45" y="120.55" width="9.55" height="1.85" fill="#e0e6ef" />
<rect x="320.70" y="120.55" width="9.55" height="1.85" fill="#e3e8ef" />
<rect x="329.95" y="120.55" width="9.55" height="1.85" fill="#a4bde1" />
<rect x="339.20" y="120.55" width="9.55" height="1.85" fill="#f6e2d6" />
<rect x="348.45" y="120.55" width="9.55" height="1.85" fill="#f5ede9" />
<rect x="357.70" y="120.55" width="9.55" height="1.85" fill="#f6decf" />
<rect x="366.95" y="120.55" width="9.55" height="1.85" fill="#f5e9e1" />
<rect x="376.20" y="120.55" width="9.55" height="1.85" fill="#f5ece6" />
<rect x="385.45" y="120.55" width="9.55" height="1.85" fill="#d6e0ee" />
<rect x="394.70" y="120.55" width="9.55" height="1.85" fill="#f6dccd" />
<rect x="403.95" y="120.55" width="9.55" height="1.85" fill="#f2f1f2" />
<rect x="413.20" y="120.55" width="9.55" height="1.85" fill="#e8ebf0" />
<rect x="283.70" y="122.10" width="9.55" height="1.85" fill="#557cbd" />
<rect x="292.95" y="122.10" width="9.55" height="1.85" fill="#8fadd9" />
<rect x="302.20" y="122.10" width="9.55" height="1.85" fill="#97b4dc" />
<rect x="311.45" y="122.10" width="9.55" height="1.85" fill="#cddbec" />
<rect x="320.70" y="122.10" width="9.55" height="1.85" fill="#adc4e4" />
<rect x="329.95" y="122.10" width="9.55" height="1.85" fill="#efeff1" />
<rect x="339.20" y="122.10" width="9.55" height="1.85" fill="#f6e0d3" />
<rect x="348.45" y="122.10" width="9.55" height="1.85" fill="#f2c2aa" />
<rect x="357.70" y="122.10" width="9.55" height="1.85" fill="#f6e1d4" />
<rect x="366.95" y="122.10" width="9.55" height="1.85" fill="#f6ddce" />
<rect x="376.20" y="122.10" width="9.55" height="1.85" fill="#edaa8a" />
<rect x="385.45" y="122.10" width="9.55" height="1.85" fill="#f6decf" />
<rect x="394.70" y="122.10" width="9.55" height="1.85" fill="#f3c7b1" />
<rect x="403.95" y="122.10" width="9.55" height="1.85" fill="#f1bca2" />
<rect x="413.20" y="122.10" width="9.55" height="1.85" fill="#f6e3d8" />
<rect x="283.70" y="123.65" width="9.55" height="1.85" fill="#466db3" />
<rect x="292.95" y="123.65" width="9.55" height="1.85" fill="#87a7d5" />
<rect x="302.20" y="123.65" width="9.55" height="1.85" fill="#afc6e5" />
<rect x="311.45" y="123.65" width="9.55" height="1.85" fill="#dde4ef" />
<rect x="320.70" y="123.65" width="9.55" height="1.85" fill="#f6e4d9" />
<rect x="329.95" y="123.65" width="9.55" height="1.85" fill="#edaa8a" />
<rect x="339.20" y="123.65" width="9.55" height="1.85" fill="#f5ebe5" />
<rect x="348.45" y="123.65" width="9.55" height="1.85" fill="#f6e1d4" />
<rect x="357.70" y="123.65" width="9.55" height="1.85" fill="#f0bca2" />
<rect x="366.95" y="123.65" width="9.55" height="1.85" fill="#f6e2d6" />
<rect x="376.20" y="123.65" width="9.55" height="1.85" fill="#f0b89c" />
<rect x="385.45" y="123.65" width="9.55" height="1.85" fill="#efb599" />
<rect x="394.70" y="123.65" width="9.55" height="1.85" fill="#f5d3bf" />
<rect x="403.95" y="123.65" width="9.55" height="1.85" fill="#f4ccb6" />
<rect x="413.20" y="123.65" width="9.55" height="1.85" fill="#f5f2f1" />
<rect x="283.70" y="125.20" width="9.55" height="1.85" fill="#31529d" />
<rect x="292.95" y="125.20" width="9.55" height="1.85" fill="#6186c4" />
<rect x="302.20" y="125.20" width="9.55" height="1.85" fill="#95b2db" />
<rect x="311.45" y="125.20" width="9.55" height="1.85" fill="#c6d6eb" />
<rect x="320.70" y="125.20" width="9.55" height="1.85" fill="#f5eae3" />
<rect x="329.95" y="125.20" width="9.55" height="1.85" fill="#f5e9e2" />
<rect x="339.20" y="125.20" width="9.55" height="1.85" fill="#f5ece7" />
<rect x="348.45" y="125.20" width="9.55" height="1.85" fill="#f5d1bd" />
<rect x="357.70" y="125.20" width="9.55" height="1.85" fill="#eca685" />
<rect x="366.95" y="125.20" width="9.55" height="1.85" fill="#f5d4c1" />
<rect x="376.20" y="125.20" width="9.55" height="1.85" fill="#f2c5ae" />
<rect x="385.45" y="125.20" width="9.55" height="1.85" fill="#edab8c" />
<rect x="394.70" y="125.20" width="9.55" height="1.85" fill="#f4cdb7" />
<rect x="403.95" y="125.20" width="9.55" height="1.85" fill="#f4f2f2" />
<rect x="413.20" y="125.20" width="9.55" height="1.85" fill="#e79979" />
<rect x="283.70" y="126.75" width="9.55" height="1.85" fill="#31539d" />
<rect x="292.95" y="126.75" width="9.55" height="1.85" fill="#89a9d6" />
<rect x="302.20" y="126.75" width="9.55" height="1.85" fill="#cedbed" />
<rect x="311.45" y="126.75" width="9.55" height="1.85" fill="#f5ece6" />
<rect x="320.70" y="126.75" width="9.55" height="1.85" fill="#f6e4da" />
<rect x="329.95" y="126.75" width="9.55" height="1.85" fill="#f6ded0" />
<rect x="339.20" y="126.75" width="9.55" height="1.85" fill="#f5e6dd" />
<rect x="348.45" y="126.75" width="9.55" height="1.85" fill="#f1c0a6" />
<rect x="357.70" y="126.75" width="9.55" height="1.85" fill="#e49374" />
<rect x="366.95" y="126.75" width="9.55" height="1.85" fill="#f6d6c4" />
<rect x="376.20" y="126.75" width="9.55" height="1.85" fill="#f4d0bc" />
<rect x="385.45" y="126.75" width="9.55" height="1.85" fill="#efb295" />
<rect x="394.70" y="126.75" width="9.55" height="1.85" fill="#f6e4da" />
<rect x="403.95" y="126.75" width="9.55" height="1.85" fill="#f4cfba" />
<rect x="413.20" y="126.75" width="9.55" height="1.85" fill="#f5d4c1" />
<rect x="283.70" y="128.30" width="9.55" height="1.85" fill="#4166ae" />
<rect x="292.95" y="128.30" width="9.55" height="1.85" fill="#577ebf" />
<rect x="302.20" y="128.30" width="9.55" height="1.85" fill="#98b4dc" />
<rect x="311.45" y="128.30" width="9.55" height="1.85" fill="#cedbed" />
<rect x="320.70" y="128.30" width="9.55" height="1.85" fill="#d9e2ee" />
<rect x="329.95" y="128.30" width="9.55" height="1.85" fill="#f5eee9" />
<rect x="339.20" y="128.30" width="9.55" height="1.85" fill="#f6decf" />
<rect x="348.45" y="128.30" width="9.55" height="1.85" fill="#f2c5ad" />
<rect x="357.70" y="128.30" width="9.55" height="1.85" fill="#eda888" />
<rect x="366.95" y="128.30" width="9.55" height="1.85" fill="#f5e6dd" />
<rect x="376.20" y="128.30" width="9.55" height="1.85" fill="#f6ded0" />
<rect x="385.45" y="128.30" width="9.55" height="1.85" fill="#dde4ef" />
<rect x="394.70" y="128.30" width="9.55" height="1.85" fill="#eba281" />
<rect x="403.95" y="128.30" width="9.55" height="1.85" fill="#f5eeea" />
<rect x="413.20" y="128.30" width="9.55" height="1.85" fill="#f6e3d8" />
<rect x="283.70" y="129.85" width="9.55" height="1.85" fill="#3355a0" />
<rect x="292.95" y="129.85" width="9.55" height="1.85" fill="#88a8d6" />
<rect x="302.20" y="129.85" width="9.55" height="1.85" fill="#a8c0e2" />
<rect x="311.45" y="129.85" width="9.55" height="1.85" fill="#90aed9" />
<rect x="320.70" y="129.85" width="9.55" height="1.85" fill="#f5f3f2" />
<rect x="329.95" y="129.85" width="9.55" height="1.85" fill="#f6daca" />
<rect x="339.20" y="129.85" width="9.55" height="1.85" fill="#cddaec" />
<rect x="348.45" y="129.85" width="9.55" height="1.85" fill="#f4ceba" />
<rect x="357.70" y="129.85" width="9.55" height="1.85" fill="#f5d3c0" />
<rect x="366.95" y="129.85" width="9.55" height="1.85" fill="#f4ccb6" />
<rect x="376.20" y="129.85" width="9.55" height="1.85" fill="#f3c8b2" />
<rect x="385.45" y="129.85" width="9.55" height="1.85" fill="#eeaf90" />
<rect x="394.70" y="129.85" width="9.55" height="1.85" fill="#f6dccd" />
<rect x="403.95" y="129.85" width="9.55" height="1.85" fill="#f5d1bc" />
<rect x="413.20" y="129.85" width="9.55" height="1.85" fill="#f5e8e1" />
<rect x="283.70" y="131.40" width="9.55" height="1.85" fill="#4066ae" />
<rect x="292.95" y="131.40" width="9.55" height="1.85" fill="#7598ce" />
<rect x="302.20" y="131.40" width="9.55" height="1.85" fill="#efeff1" />
<rect x="311.45" y="131.40" width="9.55" height="1.85" fill="#e2e7ef" />
<rect x="320.70" y="131.40" width="9.55" height="1.85" fill="#ebedf1" />
<rect x="329.95" y="131.40" width="9.55" height="1.85" fill="#e0e6ef" />
<rect x="339.20" y="131.40" width="9.55" height="1.85" fill="#f5f3f2" />
<rect x="348.45" y="131.40" width="9.55" height="1.85" fill="#f6daca" />
<rect x="357.70" y="131.40" width="9.55" height="1.85" fill="#f0b99e" />
<rect x="366.95" y="131.40" width="9.55" height="1.85" fill="#f3c9b2" />
<rect x="376.20" y="131.40" width="9.55" height="1.85" fill="#f2c1a9" />
<rect x="385.45" y="131.40" width="9.55" height="1.85" fill="#f5d2bf" />
<rect x="394.70" y="131.40" width="9.55" height="1.85" fill="#eead8e" />
<rect x="403.95" y="131.40" width="9.55" height="1.85" fill="#f5e6dc" />
<rect x="413.20" y="131.40" width="9.55" height="1.85" fill="#f5e8e0" />
<rect x="283.70" y="132.95" width="9.55" height="1.85" fill="#5a80c0" />
<rect x="292.95" y="132.95" width="9.55" height="1.85" fill="#7194cb" />
<rect x="302.20" y="132.95" width="9.55" height="1.85" fill="#96b2db" />
<rect x="311.45" y="132.95" width="9.55" height="1.85" fill="#ccdaec" />
<rect x="320.70" y="132.95" width="9.55" height="1.85" fill="#f5ece7" />
<rect x="329.95" y="132.95" width="9.55" height="1.85" fill="#f6e3d9" />
<rect x="339.20" y="132.95" width="9.55" height="1.85" fill="#ebedf1" />
<rect x="348.45" y="132.95" width="9.55" height="1.85" fill="#f5d2be" />
<rect x="357.70" y="132.95" width="9.55" height="1.85" fill="#f4cdb7" />
<rect x="366.95" y="132.95" width="9.55" height="1.85" fill="#f6e5da" />
<rect x="376.20" y="132.95" width="9.55" height="1.85" fill="#efb79b" />
<rect x="385.45" y="132.95" width="9.55" height="1.85" fill="#f6d6c3" />
<rect x="394.70" y="132.95" width="9.55" height="1.85" fill="#f6dac9" />
<rect x="403.95" y="132.95" width="9.55" height="1.85" fill="#f3cbb5" />
<rect x="413.20" y="132.95" width="9.55" height="1.85" fill="#f0bca1" />
<rect x="283.70" y="134.50" width="9.55" height="1.85" fill="#567dbe" />
<rect x="292.95" y="134.50" width="9.55" height="1.85" fill="#4b73b9" />
<rect x="302.20" y="134.50" width="9.55" height="1.85" fill="#f4f2f2" />
<rect x="311.45" y="134.50" width="9.55" height="1.85" fill="#b1c7e6" />
<rect x="320.70" y="134.50" width="9.55" height="1.85" fill="#f5ede9" />
<rect x="329.95" y="134.50" width="9.55" height="1.85" fill="#cfdced" />
<rect x="339.20" y="134.50" width="9.55" height="1.85" fill="#f5e9e2" />
<rect x="348.45" y="134.50" width="9.55" height="1.85" fill="#f1bea5" />
<rect x="357.70" y="134.50" width="9.55" height="1.85" fill="#bbcfea" />
<rect x="366.95" y="134.50" width="9.55" height="1.85" fill="#f5ede9" />
<rect x="376.20" y="134.50" width="9.55" height="1.85" fill="#f6dccd" />
<rect x="385.45" y="134.50" width="9.55" height="1.85" fill="#f5e6dc" />
<rect x="394.70" y="134.50" width="9.55" height="1.85" fill="#f5f1ef" />
<rect x="403.95" y="134.50" width="9.55" height="1.85" fill="#f2c4ad" />
<rect x="413.20" y="134.50" width="9.55" height="1.85" fill="#f5eeea" />
<rect x="283.70" y="136.05" width="9.55" height="1.85" fill="#5a80c0" />
<rect x="292.95" y="136.05" width="9.55" height="1.85" fill="#32549f" />
<rect x="302.20" y="136.05" width="9.55" height="1.85" fill="#bcd0ea" />
<rect x="311.45" y="136.05" width="9.55" height="1.85" fill="#a1bbe0" />
<rect x="320.70" y="136.05" width="9.55" height="1.85" fill="#d7e1ee" />
<rect x="329.95" y="136.05" width="9.55" height="1.85" fill="#f5f2f0" />
<rect x="339.20" y="136.05" width="9.55" height="1.85" fill="#dbe3ee" />
<rect x="348.45" y="136.05" width="9.55" height="1.85" fill="#bcd0ea" />
<rect x="357.70" y="136.05" width="9.55" height="1.85" fill="#c0d3eb" />
<rect x="366.95" y="136.05" width="9.55" height="1.85" fill="#f6dfd1" />
<rect x="376.20" y="136.05" width="9.55" height="1.85" fill="#f6e3d8" />
<rect x="385.45" y="136.05" width="9.55" height="1.85" fill="#e2e8ef" />
<rect x="394.70" y="136.05" width="9.55" height="1.85" fill="#f6e4d9" />
<rect x="403.95" y="136.05" width="9.55" height="1.85" fill="#f5f2f1" />
<rect x="413.20" y="136.05" width="9.55" height="1.85" fill="#f5f0ed" />
<rect x="283.70" y="137.60" width="9.55" height="1.85" fill="#375aa4" />
<rect x="292.95" y="137.60" width="9.55" height="1.85" fill="#789acf" />
<rect x="302.20" y="137.60" width="9.55" height="1.85" fill="#a3bde0" />
<rect x="311.45" y="137.60" width="9.55" height="1.85" fill="#cddaec" />
<rect x="320.70" y="137.60" width="9.55" height="1.85" fill="#81a2d3" />
<rect x="329.95" y="137.60" width="9.55" height="1.85" fill="#c5d6eb" />
<rect x="339.20" y="137.60" width="9.55" height="1.85" fill="#d9e2ee" />
<rect x="348.45" y="137.60" width="9.55" height="1.85" fill="#f6d6c3" />
<rect x="357.70" y="137.60" width="9.55" height="1.85" fill="#cad9ec" />
<rect x="366.95" y="137.60" width="9.55" height="1.85" fill="#dfe6ef" />
<rect x="376.20" y="137.60" width="9.55" height="1.85" fill="#f0f0f1" />
<rect x="385.45" y="137.60" width="9.55" height="1.85" fill="#f5e8e0" />
<rect x="394.70" y="137.60" width="9.55" height="1.85" fill="#dbe3ee" />
<rect x="403.95" y="137.60" width="9.55" height="1.85" fill="#f5efec" />
<rect x="413.20" y="137.60" width="9.55" height="1.85" fill="#bdd1ea" />
<rect x="283.70" y="139.15" width="9.55" height="1.85" fill="#4369b1" />
<rect x="292.95" y="139.15" width="9.55" height="1.85" fill="#799cd0" />
<rect x="302.20" y="139.15" width="9.55" height="1.85" fill="#89a9d6" />
<rect x="311.45" y="139.15" width="9.55" height="1.85" fill="#95b2db" />
<rect x="320.70" y="139.15" width="9.55" height="1.85" fill="#f5e9e3" />
<rect x="329.95" y="139.15" width="9.55" height="1.85" fill="#f5ebe5" />
<rect x="339.20" y="139.15" width="9.55" height="1.85" fill="#f2f1f2" />
<rect x="348.45" y="139.15" width="9.55" height="1.85" fill="#f6dfd2" />
<rect x="357.70" y="139.15" width="9.55" height="1.85" fill="#f2c2a9" />
<rect x="366.95" y="139.15" width="9.55" height="1.85" fill="#f5ebe5" />
<rect x="376.20" y="139.15" width="9.55" height="1.85" fill="#f6dbcb" />
<rect x="385.45" y="139.15" width="9.55" height="1.85" fill="#f3cbb5" />
<rect x="394.70" y="139.15" width="9.55" height="1.85" fill="#f4cfbb" />
<rect x="403.95" y="139.15" width="9.55" height="1.85" fill="#f5eae3" />
<rect x="413.20" y="139.15" width="9.55" height="1.85" fill="#cddaec" />
<rect x="283.70" y="140.70" width="9.55" height="1.85" fill="#678cc7" />
<rect x="292.95" y="140.70" width="9.55" height="1.85" fill="#7fa1d2" />
<rect x="302.20" y="140.70" width="9.55" height="1.85" fill="#a7c0e2" />
<rect x="311.45" y="140.70" width="9.55" height="1.85" fill="#e2e7ef" />
<rect x="320.70" y="140.70" width="9.55" height="1.85" fill="#e9ecf0" />
<rect x="329.95" y="140.70" width="9.55" height="1.85" fill="#f0f0f1" />
<rect x="339.20" y="140.70" width="9.55" height="1.85" fill="#f5ece7" />
<rect x="348.45" y="140.70" width="9.55" height="1.85" fill="#f6e1d5" />
<rect x="357.70" y="140.70" width="9.55" height="1.85" fill="#f6daca" />
<rect x="366.95" y="140.70" width="9.55" height="1.85" fill="#f6e3d8" />
<rect x="376.20" y="140.70" width="9.55" height="1.85" fill="#efb396" />
<rect x="385.45" y="140.70" width="9.55" height="1.85" fill="#f6e3d8" />
<rect x="394.70" y="140.70" width="9.55" height="1.85" fill="#efb79b" />
<rect x="403.95" y="140.70" width="9.55" height="1.85" fill="#f5eae3" />
<rect x="413.20" y="140.70" width="9.55" height="1.85" fill="#f5d1bd" />
<rect x="283.70" y="142.25" width="9.55" height="1.85" fill="#6489c5" />
<rect x="292.95" y="142.25" width="9.55" height="1.85" fill="#678bc6" />
<rect x="302.20" y="142.25" width="9.55" height="1.85" fill="#b6cbe8" />
<rect x="311.45" y="142.25" width="9.55" height="1.85" fill="#dfe6ef" />
<rect x="320.70" y="142.25" width="9.55" height="1.85" fill="#c6d6eb" />
<rect x="329.95" y="142.25" width="9.55" height="1.85" fill="#f5ede8" />
<rect x="339.20" y="142.25" width="9.55" height="1.85" fill="#f6dccd" />
<rect x="348.45" y="142.25" width="9.55" height="1.85" fill="#f6ddcf" />
<rect x="357.70" y="142.25" width="9.55" height="1.85" fill="#f2c5ae" />
<rect x="366.95" y="142.25" width="9.55" height="1.85" fill="#eeb294" />
<rect x="376.20" y="142.25" width="9.55" height="1.85" fill="#edac8e" />
<rect x="385.45" y="142.25" width="9.55" height="1.85" fill="#eda888" />
<rect x="394.70" y="142.25" width="9.55" height="1.85" fill="#efb69a" />
<rect x="403.95" y="142.25" width="9.55" height="1.85" fill="#f6ddce" />
<rect x="413.20" y="142.25" width="9.55" height="1.85" fill="#f6d9c7" />
<rect x="283.70" y="143.80" width="9.55" height="1.85" fill="#446bb2" />
<rect x="292.95" y="143.80" width="9.55" height="1.85" fill="#688cc7" />
<rect x="302.20" y="143.80" width="9.55" height="1.85" fill="#5e83c2" />
<rect x="311.45" y="143.80" width="9.55" height="1.85" fill="#bcd0ea" />
<rect x="320.70" y="143.80" width="9.55" height="1.85" fill="#e3e8ef" />
<rect x="329.95" y="143.80" width="9.55" height="1.85" fill="#cedbed" />
<rect x="339.20" y="143.80" width="9.55" height="1.85" fill="#f5f2f0" />
<rect x="348.45" y="143.80" width="9.55" height="1.85" fill="#f6e0d4" />
<rect x="357.70" y="143.80" width="9.55" height="1.85" fill="#f6e4da" />
<rect x="366.95" y="143.80" width="9.55" height="1.85" fill="#eead8e" />
<rect x="376.20" y="143.80" width="9.55" height="1.85" fill="#c7d7ec" />
<rect x="385.45" y="143.80" width="9.55" height="1.85" fill="#f6e3d8" />
<rect x="394.70" y="143.80" width="9.55" height="1.85" fill="#dde4ef" />
<rect x="403.95" y="143.80" width="9.55" height="1.85" fill="#f6dbcb" />
<rect x="413.20" y="143.80" width="9.55" height="1.85" fill="#edad8e" />
<rect x="283.70" y="145.35" width="9.55" height="1.85" fill="#3f64ac" />
<rect x="292.95" y="145.35" width="9.55" height="1.85" fill="#688cc7" />
<rect x="302.20" y="145.35" width="9.55" height="1.85" fill="#779ace" />
<rect x="311.45" y="145.35" width="9.55" height="1.85" fill="#bfd2ea" />
<rect x="320.70" y="145.35" width="9.55" height="1.85" fill="#85a5d5" />
<rect x="329.95" y="145.35" width="9.55" height="1.85" fill="#d6e0ee" />
<rect x="339.20" y="145.35" width="9.55" height="1.85" fill="#cfdced" />
<rect x="348.45" y="145.35" width="9.55" height="1.85" fill="#d7e0ee" />
<rect x="357.70" y="145.35" width="9.55" height="1.85" fill="#d1dded" />
<rect x="366.95" y="145.35" width="9.55" height="1.85" fill="#f5f1ee" />
<rect x="376.20" y="145.35" width="9.55" height="1.85" fill="#d9e2ee" />
<rect x="385.45" y="145.35" width="9.55" height="1.85" fill="#f0f0f1" />
<rect x="394.70" y="145.35" width="9.55" height="1.85" fill="#d3deed" />
<rect x="403.95" y="145.35" width="9.55" height="1.85" fill="#82a3d4" />
<rect x="413.20" y="145.35" width="9.55" height="1.85" fill="#d0dced" />
<rect x="283.70" y="146.90" width="9.55" height="1.85" fill="#6b8fc8" />
<rect x="292.95" y="146.90" width="9.55" height="1.85" fill="#557cbd" />
<rect x="302.20" y="146.90" width="9.55" height="1.85" fill="#a3bde0" />
<rect x="311.45" y="146.90" width="9.55" height="1.85" fill="#e1e7ef" />
<rect x="320.70" y="146.90" width="9.55" height="1.85" fill="#edeef1" />
<rect x="329.95" y="146.90" width="9.55" height="1.85" fill="#f6ddce" />
<rect x="339.20" y="146.90" width="9.55" height="1.85" fill="#f2c3ab" />
<rect x="348.45" y="146.90" width="9.55" height="1.85" fill="#f5f2f0" />
<rect x="357.70" y="146.90" width="9.55" height="1.85" fill="#e5e9f0" />
<rect x="366.95" y="146.90" width="9.55" height="1.85" fill="#f3c7b0" />
<rect x="376.20" y="146.90" width="9.55" height="1.85" fill="#eeaf91" />
<rect x="385.45" y="146.90" width="9.55" height="1.85" fill="#f1c1a8" />
<rect x="394.70" y="146.90" width="9.55" height="1.85" fill="#f3c8b2" />
<rect x="403.95" y="146.90" width="9.55" height="1.85" fill="#f5efec" />
<rect x="413.20" y="146.90" width="9.55" height="1.85" fill="#f5f1ee" />
<rect x="283.70" y="148.45" width="9.55" height="1.85" fill="#3f64ac" />
<rect x="292.95" y="148.45" width="9.55" height="1.85" fill="#4167af" />
<rect x="302.20" y="148.45" width="9.55" height="1.85" fill="#84a5d4" />
<rect x="311.45" y="148.45" width="9.55" height="1.85" fill="#f6dbcb" />
<rect x="320.70" y="148.45" width="9.55" height="1.85" fill="#f6dbcb" />
<rect x="329.95" y="148.45" width="9.55" height="1.85" fill="#f3f2f2" />
<rect x="339.20" y="148.45" width="9.55" height="1.85" fill="#f5f0ed" />
<rect x="348.45" y="148.45" width="9.55" height="1.85" fill="#f6d8c6" />
<rect x="357.70" y="148.45" width="9.55" height="1.85" fill="#f6e1d4" />
<rect x="366.95" y="148.45" width="9.55" height="1.85" fill="#edab8c" />
<rect x="376.20" y="148.45" width="9.55" height="1.85" fill="#f4d0bc" />
<rect x="385.45" y="148.45" width="9.55" height="1.85" fill="#f6e4d9" />
<rect x="394.70" y="148.45" width="9.55" height="1.85" fill="#edab8c" />
<rect x="403.95" y="148.45" width="9.55" height="1.85" fill="#f5e7de" />
<rect x="413.20" y="148.45" width="9.55" height="1.85" fill="#f6daca" />
<rect x="283.70" y="150.00" width="9.55" height="1.85" fill="#466db4" />
<rect x="292.95" y="150.00" width="9.55" height="1.85" fill="#7c9ed1" />
<rect x="302.20" y="150.00" width="9.55" height="1.85" fill="#85a6d5" />
<rect x="311.45" y="150.00" width="9.55" height="1.85" fill="#89a8d6" />
<rect x="320.70" y="150.00" width="9.55" height="1.85" fill="#a6bfe1" />
<rect x="329.95" y="150.00" width="9.55" height="1.85" fill="#cbd9ec" />
<rect x="339.20" y="150.00" width="9.55" height="1.85" fill="#e5e9f0" />
<rect x="348.45" y="150.00" width="9.55" height="1.85" fill="#f5e6dd" />
<rect x="357.70" y="150.00" width="9.55" height="1.85" fill="#f6ded0" />
<rect x="366.95" y="150.00" width="9.55" height="1.85" fill="#f5d4c1" />
<rect x="376.20" y="150.00" width="9.55" height="1.85" fill="#f6dbca" />
<rect x="385.45" y="150.00" width="9.55" height="1.85" fill="#f5e9e2" />
<rect x="394.70" y="150.00" width="9.55" height="1.85" fill="#f5eae3" />
<rect x="403.95" y="150.00" width="9.55" height="1.85" fill="#c6d6eb" />
<rect x="413.20" y="150.00" width="9.55" height="1.85" fill="#f5ebe4" />
<rect x="283.70" y="151.55" width="9.55" height="1.85" fill="#668bc6" />
<rect x="292.95" y="151.55" width="9.55" height="1.85" fill="#7295cc" />
<rect x="302.20" y="151.55" width="9.55" height="1.85" fill="#a1bbe0" />
<rect x="311.45" y="151.55" width="9.55" height="1.85" fill="#efeff1" />
<rect x="320.70" y="151.55" width="9.55" height="1.85" fill="#edeef1" />
<rect x="329.95" y="151.55" width="9.55" height="1.85" fill="#f6e2d6" />
<rect x="339.20" y="151.55" width="9.55" height="1.85" fill="#f6e0d3" />
<rect x="348.45" y="151.55" width="9.55" height="1.85" fill="#f6ddce" />
<rect x="357.70" y="151.55" width="9.55" height="1.85" fill="#efb497" />
<rect x="366.95" y="151.55" width="9.55" height="1.85" fill="#f6e2d7" />
<rect x="376.20" y="151.55" width="9.55" height="1.85" fill="#f6ddce" />
<rect x="385.45" y="151.55" width="9.55" height="1.85" fill="#f6e4d9" />
<rect x="394.70" y="151.55" width="9.55" height="1.85" fill="#f5e6dd" />
<rect x="403.95" y="151.55" width="9.55" height="1.85" fill="#f1bda3" />
<rect x="413.20" y="151.55" width="9.55" height="1.85" fill="#f0b79b" />
<rect x="283.70" y="153.10" width="9.55" height="1.85" fill="#6287c4" />
<rect x="292.95" y="153.10" width="9.55" height="1.85" fill="#9fbadf" />
<rect x="302.20" y="153.10" width="9.55" height="1.85" fill="#c3d4eb" />
<rect x="311.45" y="153.10" width="9.55" height="1.85" fill="#f3f2f2" />
<rect x="320.70" y="153.10" width="9.55" height="1.85" fill="#c3d4eb" />
<rect x="329.95" y="153.10" width="9.55" height="1.85" fill="#e0e6ef" />
<rect x="339.20" y="153.10" width="9.55" height="1.85" fill="#f5e7df" />
<rect x="348.45" y="153.10" width="9.55" height="1.85" fill="#f3c6af" />
<rect x="357.70" y="153.10" width="9.55" height="1.85" fill="#f6ddce" />
<rect x="366.95" y="153.10" width="9.55" height="1.85" fill="#f5ece7" />
<rect x="376.20" y="153.10" width="9.55" height="1.85" fill="#f6e2d6" />
<rect x="385.45" y="153.10" width="9.55" height="1.85" fill="#f5e7de" />
<rect x="394.70" y="153.10" width="9.55" height="1.85" fill="#f5ece7" />
<rect x="403.95" y="153.10" width="9.55" height="1.85" fill="#f3c9b2" />
<rect x="413.20" y="153.10" width="9.55" height="1.85" fill="#f5f1ef" />
<rect x="283.70" y="154.65" width="9.55" height="1.05" fill="#9fb9df" />
<rect x="292.95" y="154.65" width="9.55" height="1.05" fill="#a0badf" />
<rect x="302.20" y="154.65" width="9.55" height="1.05" fill="#b0c7e5" />
<rect x="311.45" y="154.65" width="9.55" height="1.05" fill="#b6cbe8" />
<rect x="320.70" y="154.65" width="9.55" height="1.05" fill="#f3f2f2" />
<rect x="329.95" y="154.65" width="9.55" height="1.05" fill="#f6d9c8" />
<rect x="339.20" y="154.65" width="9.55" height="1.05" fill="#f6e4da" />
<rect x="348.45" y="154.65" width="9.55" height="1.05" fill="#f4ccb6" />
<rect x="357.70" y="154.65" width="9.55" height="1.05" fill="#f6ddce" />
<rect x="366.95" y="154.65" width="9.55" height="1.05" fill="#f5d5c2" />
<rect x="376.20" y="154.65" width="9.55" height="1.05" fill="#f6dfd2" />
<rect x="385.45" y="154.65" width="9.55" height="1.05" fill="#f5d3c0" />
<rect x="394.70" y="154.65" width="9.55" height="1.05" fill="#f1bea4" />
<rect x="403.95" y="154.65" width="9.55" height="1.05" fill="#dee5ef" />
<rect x="413.20" y="154.65" width="9.55" height="1.05" fill="#f5e9e1" />
<rect x="422.60" y="49.10" width="3.20" height="44.20" fill="#8b0000" />
<path d="M422.6 49.80Q422.8 48.30 425.80 48.60" stroke="#8b0000" stroke-width="1.0" fill="none" />
<ellipse cx="426.80" cy="49.42" rx="1.80" ry="1.27" fill="#8b0000" stroke="#8b0000" stroke-width="0.5"/>
<ellipse cx="426.62" cy="49.45" rx="0.81" ry="0.38" fill="#fff" fill-opacity="0.75"/>
<ellipse cx="426.94" cy="51.67" rx="1.94" ry="1.27" fill="#8b0000" stroke="#8b0000" stroke-width="0.5"/>
<ellipse cx="426.74" cy="51.74" rx="0.87" ry="0.38" fill="#fff" fill-opacity="0.75"/>
<ellipse cx="427.21" cy="53.92" rx="2.21" ry="1.27" fill="#8b0000" stroke="#8b0000" stroke-width="0.5"/>
<ellipse cx="426.99" cy="53.66" rx="0.99" ry="0.38" fill="#fff" fill-opacity="0.75"/>
<ellipse cx="426.56" cy="56.17" rx="1.56" ry="1.27" fill="#8b0000" stroke="#8b0000" stroke-width="0.5"/>
<ellipse cx="426.41" cy="56.38" rx="0.70" ry="0.38" fill="#fff" fill-opacity="0.75"/>
<ellipse cx="426.82" cy="58.42" rx="1.82" ry="1.27" fill="#8b0000" stroke="#8b0000" stroke-width="0.5"/>
<ellipse cx="426.64" cy="58.27" rx="0.82" ry="0.38" fill="#fff" fill-opacity="0.75"/>
<ellipse cx="427.60" cy="60.67" rx="2.60" ry="1.27" fill="#8b0000" stroke="#8b0000" stroke-width="0.5"/>
<ellipse cx="427.34" cy="60.66" rx="1.17" ry="0.38" fill="#fff" fill-opacity="0.75"/>
<ellipse cx="427.43" cy="62.92" rx="2.43" ry="1.27" fill="#8b0000" stroke="#8b0000" stroke-width="0.5"/>
<ellipse cx="427.19" cy="62.91" rx="1.09" ry="0.38" fill="#fff" fill-opacity="0.75"/>
<ellipse cx="427.22" cy="65.17" rx="2.22" ry="1.27" fill="#8b0000" stroke="#8b0000" stroke-width="0.5"/>
<ellipse cx="427.00" cy="64.97" rx="1.00" ry="0.38" fill="#fff" fill-opacity="0.75"/>
<ellipse cx="427.22" cy="67.42" rx="2.22" ry="1.27" fill="#8b0000" stroke="#8b0000" stroke-width="0.5"/>
<ellipse cx="426.99" cy="67.65" rx="1.00" ry="0.38" fill="#fff" fill-opacity="0.75"/>
<ellipse cx="427.10" cy="69.67" rx="2.10" ry="1.27" fill="#8b0000" stroke="#8b0000" stroke-width="0.5"/>
<ellipse cx="426.89" cy="69.82" rx="0.94" ry="0.38" fill="#fff" fill-opacity="0.75"/>
<ellipse cx="427.25" cy="71.92" rx="2.25" ry="1.27" fill="#8b0000" stroke="#8b0000" stroke-width="0.5"/>
<ellipse cx="427.03" cy="71.66" rx="1.01" ry="0.38" fill="#fff" fill-opacity="0.75"/>
<ellipse cx="427.35" cy="74.17" rx="2.35" ry="1.27" fill="#8b0000" stroke="#8b0000" stroke-width="0.5"/>
<ellipse cx="427.11" cy="74.23" rx="1.06" ry="0.38" fill="#fff" fill-opacity="0.75"/>
<ellipse cx="426.87" cy="76.42" rx="1.87" ry="1.27" fill="#8b0000" stroke="#8b0000" stroke-width="0.5"/>
<ellipse cx="426.68" cy="76.14" rx="0.84" ry="0.38" fill="#fff" fill-opacity="0.75"/>
<ellipse cx="427.46" cy="78.67" rx="2.46" ry="1.27" fill="#8b0000" stroke="#8b0000" stroke-width="0.5"/>
<ellipse cx="427.21" cy="78.66" rx="1.11" ry="0.38" fill="#fff" fill-opacity="0.75"/>
<ellipse cx="427.30" cy="80.92" rx="2.30" ry="1.27" fill="#8b0000" stroke="#8b0000" stroke-width="0.5"/>
<ellipse cx="427.07" cy="81.15" rx="1.04" ry="0.38" fill="#fff" fill-opacity="0.75"/>
<ellipse cx="427.30" cy="83.17" rx="2.30" ry="1.27" fill="#8b0000" stroke="#8b0000" stroke-width="0.5"/>
<ellipse cx="427.07" cy="83.43" rx="1.03" ry="0.38" fill="#fff" fill-opacity="0.75"/>
<ellipse cx="426.96" cy="85.42" rx="1.96" ry="1.27" fill="#8b0000" stroke="#8b0000" stroke-width="0.5"/>
<ellipse cx="426.77" cy="85.61" rx="0.88" ry="0.38" fill="#fff" fill-opacity="0.75"/>
<ellipse cx="427.02" cy="87.67" rx="2.02" ry="1.27" fill="#8b0000" stroke="#8b0000" stroke-width="0.5"/>
<ellipse cx="426.82" cy="87.94" rx="0.91" ry="0.38" fill="#fff" fill-opacity="0.75"/>
<ellipse cx="427.47" cy="89.92" rx="2.47" ry="1.27" fill="#8b0000" stroke="#8b0000" stroke-width="0.5"/>
<ellipse cx="427.23" cy="89.68" rx="1.11" ry="0.38" fill="#fff" fill-opacity="0.75"/>
<ellipse cx="426.69" cy="92.17" rx="1.69" ry="1.27" fill="#8b0000" stroke="#8b0000" stroke-width="0.5"/>
<ellipse cx="426.52" cy="92.01" rx="0.76" ry="0.38" fill="#fff" fill-opacity="0.75"/>
<rect x="422.60" y="94.10" width="2.00" height="61.30" fill="#2f6b16" />
<path d="M422.6 94.80Q422.8 93.30 424.60 93.60" stroke="#2f6b16" stroke-width="1.0" fill="none" />
<ellipse cx="426.09" cy="94.45" rx="2.29" ry="1.30" fill="#2f6b16" stroke="#2f6b16" stroke-width="0.5"/>
<ellipse cx="425.86" cy="94.21" rx="1.03" ry="0.39" fill="#fff" fill-opacity="0.75"/>
<ellipse cx="426.32" cy="96.75" rx="2.52" ry="1.30" fill="#2f6b16" stroke="#2f6b16" stroke-width="0.5"/>
<ellipse cx="426.07" cy="96.54" rx="1.14" ry="0.39" fill="#fff" fill-opacity="0.75"/>
<ellipse cx="425.85" cy="99.05" rx="2.05" ry="1.30" fill="#2f6b16" stroke="#2f6b16" stroke-width="0.5"/>
<ellipse cx="425.64" cy="98.99" rx="0.92" ry="0.39" fill="#fff" fill-opacity="0.75"/>
<ellipse cx="427.08" cy="101.35" rx="3.28" ry="1.30" fill="#2f6b16" stroke="#2f6b16" stroke-width="0.5"/>
<ellipse cx="426.75" cy="101.53" rx="1.48" ry="0.39" fill="#fff" fill-opacity="0.75"/>
<ellipse cx="426.86" cy="103.65" rx="3.06" ry="1.30" fill="#2f6b16" stroke="#2f6b16" stroke-width="0.5"/>
<ellipse cx="426.55" cy="103.48" rx="1.38" ry="0.39" fill="#fff" fill-opacity="0.75"/>
<ellipse cx="426.53" cy="105.95" rx="2.73" ry="1.30" fill="#2f6b16" stroke="#2f6b16" stroke-width="0.5"/>
<ellipse cx="426.26" cy="105.82" rx="1.23" ry="0.39" fill="#fff" fill-opacity="0.75"/>
<ellipse cx="426.00" cy="108.25" rx="2.20" ry="1.30" fill="#2f6b16" stroke="#2f6b16" stroke-width="0.5"/>
<ellipse cx="425.78" cy="108.01" rx="0.99" ry="0.39" fill="#fff" fill-opacity="0.75"/>
<ellipse cx="426.06" cy="110.55" rx="2.26" ry="1.30" fill="#2f6b16" stroke="#2f6b16" stroke-width="0.5"/>
<ellipse cx="425.83" cy="110.81" rx="1.02" ry="0.39" fill="#fff" fill-opacity="0.75"/>
<ellipse cx="426.95" cy="112.85" rx="3.15" ry="1.30" fill="#2f6b16" stroke="#2f6b16" stroke-width="0.5"/>
<ellipse cx="426.64" cy="113.03" rx="1.42" ry="0.39" fill="#fff" fill-opacity="0.75"/>
<ellipse cx="426.91" cy="115.15" rx="3.11" ry="1.30" fill="#2f6b16" stroke="#2f6b16" stroke-width="0.5"/>
<ellipse cx="426.60" cy="114.97" rx="1.40" ry="0.39" fill="#fff" fill-opacity="0.75"/>
<ellipse cx="426.20" cy="117.45" rx="2.40" ry="1.30" fill="#2f6b16" stroke="#2f6b16" stroke-width="0.5"/>
<ellipse cx="425.96" cy="117.53" rx="1.08" ry="0.39" fill="#fff" fill-opacity="0.75"/>
<ellipse cx="426.81" cy="119.75" rx="3.01" ry="1.30" fill="#2f6b16" stroke="#2f6b16" stroke-width="0.5"/>
<ellipse cx="426.51" cy="119.96" rx="1.36" ry="0.39" fill="#fff" fill-opacity="0.75"/>
<ellipse cx="427.03" cy="122.05" rx="3.23" ry="1.30" fill="#2f6b16" stroke="#2f6b16" stroke-width="0.5"/>
<ellipse cx="426.70" cy="121.80" rx="1.45" ry="0.39" fill="#fff" fill-opacity="0.75"/>
<ellipse cx="426.63" cy="124.35" rx="2.83" ry="1.30" fill="#2f6b16" stroke="#2f6b16" stroke-width="0.5"/>
<ellipse cx="426.35" cy="124.45" rx="1.27" ry="0.39" fill="#fff" fill-opacity="0.75"/>
<ellipse cx="426.48" cy="126.65" rx="2.68" ry="1.30" fill="#2f6b16" stroke="#2f6b16" stroke-width="0.5"/>
<ellipse cx="426.22" cy="126.46" rx="1.21" ry="0.39" fill="#fff" fill-opacity="0.75"/>
<ellipse cx="426.44" cy="128.95" rx="2.64" ry="1.30" fill="#2f6b16" stroke="#2f6b16" stroke-width="0.5"/>
<ellipse cx="426.17" cy="128.70" rx="1.19" ry="0.39" fill="#fff" fill-opacity="0.75"/>
<ellipse cx="427.11" cy="131.25" rx="3.31" ry="1.30" fill="#2f6b16" stroke="#2f6b16" stroke-width="0.5"/>
<ellipse cx="426.77" cy="131.47" rx="1.49" ry="0.39" fill="#fff" fill-opacity="0.75"/>
<ellipse cx="426.54" cy="133.55" rx="2.74" ry="1.30" fill="#2f6b16" stroke="#2f6b16" stroke-width="0.5"/>
<ellipse cx="426.27" cy="133.43" rx="1.23" ry="0.39" fill="#fff" fill-opacity="0.75"/>
<ellipse cx="427.07" cy="135.85" rx="3.27" ry="1.30" fill="#2f6b16" stroke="#2f6b16" stroke-width="0.5"/>
<ellipse cx="426.74" cy="135.89" rx="1.47" ry="0.39" fill="#fff" fill-opacity="0.75"/>
<ellipse cx="427.03" cy="138.15" rx="3.23" ry="1.30" fill="#2f6b16" stroke="#2f6b16" stroke-width="0.5"/>
<ellipse cx="426.71" cy="138.36" rx="1.45" ry="0.39" fill="#fff" fill-opacity="0.75"/>
<ellipse cx="426.49" cy="140.45" rx="2.69" ry="1.30" fill="#2f6b16" stroke="#2f6b16" stroke-width="0.5"/>
<ellipse cx="426.22" cy="140.40" rx="1.21" ry="0.39" fill="#fff" fill-opacity="0.75"/>
<ellipse cx="426.62" cy="142.75" rx="2.82" ry="1.30" fill="#2f6b16" stroke="#2f6b16" stroke-width="0.5"/>
<ellipse cx="426.34" cy="142.71" rx="1.27" ry="0.39" fill="#fff" fill-opacity="0.75"/>
<ellipse cx="425.98" cy="145.05" rx="2.18" ry="1.30" fill="#2f6b16" stroke="#2f6b16" stroke-width="0.5"/>
<ellipse cx="425.77" cy="144.93" rx="0.98" ry="0.39" fill="#fff" fill-opacity="0.75"/>
<ellipse cx="426.93" cy="147.35" rx="3.13" ry="1.30" fill="#2f6b16" stroke="#2f6b16" stroke-width="0.5"/>
<ellipse cx="426.62" cy="147.08" rx="1.41" ry="0.39" fill="#fff" fill-opacity="0.75"/>
<ellipse cx="425.82" cy="149.65" rx="2.02" ry="1.30" fill="#2f6b16" stroke="#2f6b16" stroke-width="0.5"/>
<ellipse cx="425.62" cy="149.73" rx="0.91" ry="0.39" fill="#fff" fill-opacity="0.75"/>
<ellipse cx="426.16" cy="151.95" rx="2.36" ry="1.30" fill="#2f6b16" stroke="#2f6b16" stroke-width="0.5"/>
<ellipse cx="425.92" cy="151.97" rx="1.06" ry="0.39" fill="#fff" fill-opacity="0.75"/>
<ellipse cx="426.43" cy="154.25" rx="2.63" ry="1.30" fill="#2f6b16" stroke="#2f6b16" stroke-width="0.5"/>
<ellipse cx="426.17" cy="154.16" rx="1.18" ry="0.39" fill="#fff" fill-opacity="0.75"/>
<line x1="432.60" y1="66.00" x2="432.60" y2="93.30" stroke="#8b0000" stroke-width="0.6" />
<line x1="432.30" y1="93.30" x2="432.30" y2="105.30" stroke="#b05050" stroke-width="0.6" />
<line x1="431.60" y1="105.00" x2="431.60" y2="132.40" stroke="#6a9a50" stroke-width="0.6" />
<text x="437.90" y="27.80" font-size="6.5" textLength="47.50" lengthAdjust="spacingAndGlyphs" fill="#222" stroke="#222" stroke-width="0.18">Gene expression</text>
<rect x="431.90" y="32.20" width="60.80" height="4.90" fill="url(#rdbu)" />
<text x="432.30" y="44.30" font-size="5.4" text-anchor="middle" fill="#222" stroke="#222" stroke-width="0.10">-3</text>
<text x="441.60" y="44.30" font-size="5.4" text-anchor="middle" fill="#222" stroke="#222" stroke-width="0.10">-2</text>
<text x="451.50" y="44.30" font-size="5.4" text-anchor="middle" fill="#222" stroke="#222" stroke-width="0.10">-1</text>
<text x="461.70" y="44.30" font-size="5.4" text-anchor="middle" fill="#222" stroke="#222" stroke-width="0.10">0</text>
<text x="471.00" y="44.30" font-size="5.4" text-anchor="middle" fill="#222" stroke="#222" stroke-width="0.10">1</text>
<text x="480.50" y="44.30" font-size="5.4" text-anchor="middle" fill="#222" stroke="#222" stroke-width="0.10">2</text>
<text x="489.80" y="44.30" font-size="5.4" text-anchor="middle" fill="#222" stroke="#222" stroke-width="0.10">3</text>
<text x="445.00" y="55.60" font-size="8.4" textLength="33.57" lengthAdjust="spacingAndGlyphs" fill="#333" stroke="#333" stroke-width="0.18">Scaled log2</text>
<text x="446.50" y="70.00" font-size="7.0" textLength="10.39" lengthAdjust="spacingAndGlyphs" fill="#9b2a2a" stroke="#9b2a2a" stroke-width="0.18">250</text>
<text x="443.00" y="78.10" font-size="7.0" textLength="17.03" lengthAdjust="spacingAndGlyphs" fill="#9b2a2a" stroke="#9b2a2a" stroke-width="0.18">genes</text>
<text x="446.00" y="126.90" font-size="7.0" textLength="10.99" lengthAdjust="spacingAndGlyphs" fill="#4a7f2e" stroke="#4a7f2e" stroke-width="0.18">345</text>
<text x="443.30" y="135.00" font-size="7.0" textLength="16.93" lengthAdjust="spacingAndGlyphs" fill="#4a7f2e" stroke="#4a7f2e" stroke-width="0.18">genes</text>
<rect x="293.00" y="159.70" width="18.60" height="8.10" fill="#3c1459" />
<text x="315.00" y="166.00" font-size="5.6" textLength="17.32" lengthAdjust="spacingAndGlyphs" fill="#222" stroke="#222" stroke-width="0.10">BM_FL</text>
<rect x="352.00" y="159.70" width="19.00" height="8.10" fill="#f5df3b" />
<text x="374.00" y="166.00" font-size="5.6" textLength="13.81" lengthAdjust="spacingAndGlyphs" fill="#222" stroke="#222" stroke-width="0.10">LN_FL</text>
<text x="7.60" y="195.20" font-size="11.7" textLength="6.62" lengthAdjust="spacingAndGlyphs" font-weight="bold">B</text>
<text x="18.90" y="211.00" font-size="8.3" textLength="204.77" lengthAdjust="spacingAndGlyphs" font-weight="bold">Module 1 downregulated genes in BM_FL vs LN_FL</text>
<rect x="137.40" y="215.40" width="78.40" height="109.00" fill="none" stroke="#000" stroke-width="1.1"/>
<text x="59.00" y="225.10" font-size="6.4" textLength="71.61" lengthAdjust="spacingAndGlyphs" fill="#222" stroke="#222" stroke-width="0.18">DNA damage response...</text>
<line x1="134.20" y1="223.00" x2="137.40" y2="223.00" stroke="#222" stroke-width="0.9" />
<text x="53.80" y="235.77" font-size="6.4" textLength="76.80" lengthAdjust="spacingAndGlyphs" fill="#222" stroke="#222" stroke-width="0.18">Nucleotid–excision repair...</text>
<line x1="134.20" y1="233.67" x2="137.40" y2="233.67" stroke="#222" stroke-width="0.9" />
<text x="53.80" y="246.44" font-size="6.4" textLength="76.80" lengthAdjust="spacingAndGlyphs" fill="#222" stroke="#222" stroke-width="0.18">Nucleotid–excision repair...</text>
<line x1="134.20" y1="244.34" x2="137.40" y2="244.34" stroke="#222" stroke-width="0.9" />
<text x="53.80" y="257.11" font-size="6.4" textLength="76.80" lengthAdjust="spacingAndGlyphs" fill="#222" stroke="#222" stroke-width="0.18">Nucleotid–excision repair...</text>
<line x1="134.20" y1="255.01" x2="137.40" y2="255.01" stroke="#222" stroke-width="0.9" />
<text x="52.70" y="267.78" font-size="6.4" textLength="77.89" lengthAdjust="spacingAndGlyphs" fill="#222" stroke="#222" stroke-width="0.18">Fatty acid catabolic process</text>
<line x1="134.20" y1="265.68" x2="137.40" y2="265.68" stroke="#222" stroke-width="0.9" />
<text x="73.00" y="278.45" font-size="6.4" textLength="57.62" lengthAdjust="spacingAndGlyphs" fill="#222" stroke="#222" stroke-width="0.18">Fatty acid oxydation</text>
<line x1="134.20" y1="276.35" x2="137.40" y2="276.35" stroke="#222" stroke-width="0.9" />
<text x="39.00" y="289.12" font-size="6.4" textLength="91.58" lengthAdjust="spacingAndGlyphs" fill="#222" stroke="#222" stroke-width="0.18">Monocarboxylic acid catabolic...</text>
<line x1="134.20" y1="287.02" x2="137.40" y2="287.02" stroke="#222" stroke-width="0.9" />
<text x="99.50" y="299.79" font-size="6.4" textLength="31.10" lengthAdjust="spacingAndGlyphs" fill="#222" stroke="#222" stroke-width="0.18">DNA repair</text>
<line x1="134.20" y1="297.69" x2="137.40" y2="297.69" stroke="#222" stroke-width="0.9" />
<text x="38.00" y="310.46" font-size="6.4" textLength="92.63" lengthAdjust="spacingAndGlyphs" fill="#222" stroke="#222" stroke-width="0.18">Cell response to DNA damage...</text>
<line x1="134.20" y1="308.36" x2="137.40" y2="308.36" stroke="#222" stroke-width="0.9" />
<text x="63.50" y="321.13" font-size="6.4" textLength="67.12" lengthAdjust="spacingAndGlyphs" fill="#222" stroke="#222" stroke-width="0.18">DNA metabolic process</text>
<line x1="134.20" y1="319.03" x2="137.40" y2="319.03" stroke="#222" stroke-width="0.9" />
<line x1="153.10" y1="324.40" x2="153.10" y2="326.80" stroke="#222" stroke-width="0.9" />
<text x="153.60" y="335.40" font-size="6.2" text-anchor="middle" fill="#222" stroke="#222" stroke-width="0.18">0.4</text>
<line x1="174.40" y1="324.40" x2="174.40" y2="326.80" stroke="#222" stroke-width="0.9" />
<text x="174.90" y="335.40" font-size="6.2" text-anchor="middle" fill="#222" stroke="#222" stroke-width="0.18">0.5</text>
<line x1="195.60" y1="324.40" x2="195.60" y2="326.80" stroke="#222" stroke-width="0.9" />
<text x="196.10" y="335.40" font-size="6.2" text-anchor="middle" fill="#222" stroke="#222" stroke-width="0.18">0.6</text>
<circle cx="212.20" cy="222.20" r="1.10" fill="#d4506e" />
<circle cx="207.30" cy="232.87" r="1.20" fill="#d4506a" />
<circle cx="205.10" cy="243.54" r="1.20" fill="#d04a60" />
<circle cx="174.40" cy="254.21" r="1.70" fill="#b878b0" />
<circle cx="171.30" cy="265.08" r="1.50" fill="#d82028" />
<circle cx="170.80" cy="275.75" r="1.50" fill="#d82028" />
<circle cx="168.50" cy="286.42" r="1.50" fill="#d82a2a" />
<circle cx="149.80" cy="297.19" r="3.00" fill="#6a8ed6" />
<circle cx="141.70" cy="308.06" r="3.40" fill="#c8607a" />
<circle cx="141.70" cy="318.73" r="3.40" fill="#c47090" />
<text x="216.80" y="237.10" font-size="4.9" textLength="41.39" lengthAdjust="spacingAndGlyphs" fill="#222" stroke="#222" stroke-width="0.10">Significant Genes</text>
<circle cx="222.20" cy="241.70" r="1.60" fill="#000" />
<text x="229.00" y="243.70" font-size="5.6" fill="#222" stroke="#222" stroke-width="0.10">50</text>
<circle cx="222.20" cy="249.20" r="2.40" fill="#000" />
<text x="229.00" y="251.20" font-size="5.6" fill="#222" stroke="#222" stroke-width="0.10">100</text>
<circle cx="222.20" cy="256.60" r="3.00" fill="#000" />
<text x="229.00" y="258.60" font-size="5.6" fill="#222" stroke="#222" stroke-width="0.10">150</text>
<circle cx="222.20" cy="264.40" r="3.45" fill="#000" />
<text x="229.00" y="266.40" font-size="5.6" fill="#222" stroke="#222" stroke-width="0.10">200</text>
<text x="216.80" y="276.20" font-size="5.3" textLength="38.68" lengthAdjust="spacingAndGlyphs" fill="#222" stroke="#222" stroke-width="0.10">–Log10(p.value)</text>
<rect x="217.00" y="281.20" width="4.60" height="22.40" fill="url(#pv)" />
<text x="222.80" y="284.60" font-size="5.2" fill="#333" stroke="#333" stroke-width="0.10">6.0</text>
<text x="222.80" y="288.90" font-size="5.2" fill="#333" stroke="#333" stroke-width="0.10">5.5</text>
<text x="222.80" y="293.20" font-size="5.2" fill="#333" stroke="#333" stroke-width="0.10">5.0</text>
<text x="222.80" y="297.50" font-size="5.2" fill="#333" stroke="#333" stroke-width="0.10">4.5</text>
<text x="222.80" y="301.80" font-size="5.2" fill="#333" stroke="#333" stroke-width="0.10">4.0</text>
<text x="222.80" y="306.10" font-size="5.2" fill="#333" stroke="#333" stroke-width="0.10">3.5</text>
<text x="18.90" y="354.00" font-size="8.3" textLength="205.17" lengthAdjust="spacingAndGlyphs" font-weight="bold">Module 2 downregulated genes in BM_FL vs LN_FL</text>
<rect x="138.00" y="358.40" width="77.90" height="108.80" fill="none" stroke="#000" stroke-width="1.1"/>
<text x="28.10" y="367.50" font-size="6.4" textLength="102.48" lengthAdjust="spacingAndGlyphs" fill="#222" stroke="#222" stroke-width="0.18">Mitotic sister chromatid segregation</text>
<line x1="134.20" y1="365.40" x2="138.00" y2="365.40" stroke="#222" stroke-width="0.9" />
<text x="49.30" y="378.18" font-size="6.4" textLength="81.29" lengthAdjust="spacingAndGlyphs" fill="#222" stroke="#222" stroke-width="0.18">Sister chromatid segregation</text>
<line x1="134.20" y1="376.08" x2="138.00" y2="376.08" stroke="#222" stroke-width="0.9" />
<text x="35.00" y="388.86" font-size="6.4" textLength="95.58" lengthAdjust="spacingAndGlyphs" fill="#222" stroke="#222" stroke-width="0.18">Nuclear chromosome segregation</text>
<line x1="134.20" y1="386.76" x2="138.00" y2="386.76" stroke="#222" stroke-width="0.9" />
<text x="86.50" y="399.54" font-size="6.4" textLength="44.09" lengthAdjust="spacingAndGlyphs" fill="#222" stroke="#222" stroke-width="0.18">Nuclear division</text>
<line x1="134.20" y1="397.44" x2="138.00" y2="397.44" stroke="#222" stroke-width="0.9" />
<text x="84.20" y="410.22" font-size="6.4" textLength="46.39" lengthAdjust="spacingAndGlyphs" fill="#222" stroke="#222" stroke-width="0.18">Organelle fission</text>
<line x1="134.20" y1="408.12" x2="138.00" y2="408.12" stroke="#222" stroke-width="0.9" />
<text x="95.50" y="420.90" font-size="6.4" textLength="35.11" lengthAdjust="spacingAndGlyphs" fill="#222" stroke="#222" stroke-width="0.18">Cell Division</text>
<line x1="134.20" y1="418.80" x2="138.00" y2="418.80" stroke="#222" stroke-width="0.9" />
<text x="60.00" y="431.58" font-size="6.4" textLength="70.62" lengthAdjust="spacingAndGlyphs" fill="#222" stroke="#222" stroke-width="0.18">Mitotic cell cycle process</text>
<line x1="134.20" y1="429.48" x2="138.00" y2="429.48" stroke="#222" stroke-width="0.9" />
<text x="83.50" y="442.26" font-size="6.4" textLength="47.12" lengthAdjust="spacingAndGlyphs" fill="#222" stroke="#222" stroke-width="0.18">Mitotic cell cycle</text>
<line x1="134.20" y1="440.16" x2="138.00" y2="440.16" stroke="#222" stroke-width="0.9" />
<text x="80.00" y="452.94" font-size="6.4" textLength="50.59" lengthAdjust="spacingAndGlyphs" fill="#222" stroke="#222" stroke-width="0.18">Cell cycle process</text>
<line x1="134.20" y1="450.84" x2="138.00" y2="450.84" stroke="#222" stroke-width="0.9" />
<text x="103.50" y="463.62" font-size="6.4" textLength="27.09" lengthAdjust="spacingAndGlyphs" fill="#222" stroke="#222" stroke-width="0.18">Cell cycle</text>
<line x1="134.20" y1="461.52" x2="138.00" y2="461.52" stroke="#222" stroke-width="0.9" />
<line x1="138.70" y1="467.20" x2="138.70" y2="469.60" stroke="#222" stroke-width="0.9" />
<text x="139.30" y="478.20" font-size="6.2" text-anchor="middle" fill="#222" stroke="#222" stroke-width="0.18">0.06</text>
<line x1="158.50" y1="467.20" x2="158.50" y2="469.60" stroke="#222" stroke-width="0.9" />
<text x="159.30" y="478.20" font-size="6.2" text-anchor="middle" fill="#222" stroke="#222" stroke-width="0.18">0.09</text>
<line x1="178.30" y1="467.20" x2="178.30" y2="469.60" stroke="#222" stroke-width="0.9" />
<text x="179.10" y="478.20" font-size="6.2" text-anchor="middle" fill="#222" stroke="#222" stroke-width="0.18">0.12</text>
<line x1="198.10" y1="467.20" x2="198.10" y2="469.60" stroke="#222" stroke-width="0.9" />
<text x="198.90" y="478.20" font-size="6.2" text-anchor="middle" fill="#222" stroke="#222" stroke-width="0.18">0.15</text>
<circle cx="211.80" cy="364.80" r="1.50" fill="#d4505e" />
<circle cx="206.60" cy="375.48" r="1.70" fill="#c46090" />
<circle cx="187.50" cy="386.16" r="1.90" fill="#d01a24" />
<circle cx="176.60" cy="396.84" r="2.00" fill="#c07090" />
<circle cx="168.60" cy="407.62" r="2.20" fill="#d01a22" />
<circle cx="165.50" cy="418.30" r="2.20" fill="#7a90d4" />
<circle cx="156.80" cy="428.98" r="2.80" fill="#5a82d4" />
<circle cx="150.90" cy="439.66" r="3.00" fill="#b070a4" />
<circle cx="145.00" cy="450.34" r="3.00" fill="#c86080" />
<circle cx="140.70" cy="461.22" r="3.30" fill="#b47cb4" />
<text x="219.50" y="367.60" font-size="4.9" textLength="40.69" lengthAdjust="spacingAndGlyphs" fill="#222" stroke="#222" stroke-width="0.10">Significant Genes</text>
<circle cx="224.90" cy="374.20" r="1.40" fill="#000" />
<text x="231.70" y="376.20" font-size="5.6" fill="#222" stroke="#222" stroke-width="0.10">20</text>
<circle cx="224.90" cy="380.50" r="2.10" fill="#000" />
<text x="231.70" y="382.50" font-size="5.6" fill="#222" stroke="#222" stroke-width="0.10">30</text>
<circle cx="224.90" cy="387.50" r="2.60" fill="#000" />
<text x="231.70" y="389.50" font-size="5.6" fill="#222" stroke="#222" stroke-width="0.10">40</text>
<circle cx="224.90" cy="395.40" r="3.00" fill="#000" />
<text x="231.70" y="397.40" font-size="5.6" fill="#222" stroke="#222" stroke-width="0.10">50</text>
<circle cx="224.90" cy="404.90" r="3.45" fill="#000" />
<text x="231.70" y="406.90" font-size="5.6" fill="#222" stroke="#222" stroke-width="0.10">60</text>
<circle cx="224.90" cy="414.90" r="3.90" fill="#000" />
<text x="231.70" y="416.90" font-size="5.6" fill="#222" stroke="#222" stroke-width="0.10">70</text>
<text x="219.50" y="425.00" font-size="5.3" textLength="37.98" lengthAdjust="spacingAndGlyphs" fill="#222" stroke="#222" stroke-width="0.10">–Log10(p.value)</text>
<rect x="219.70" y="430.00" width="4.60" height="22.80" fill="url(#pv)" />
<text x="225.50" y="433.40" font-size="5.2" fill="#333" stroke="#333" stroke-width="0.10">12.0</text>
<text x="225.50" y="437.70" font-size="5.2" fill="#333" stroke="#333" stroke-width="0.10">11.5</text>
<text x="225.50" y="442.00" font-size="5.2" fill="#333" stroke="#333" stroke-width="0.10">11.0</text>
<text x="225.50" y="446.30" font-size="5.2" fill="#333" stroke="#333" stroke-width="0.10">10.5</text>
<text x="225.50" y="450.60" font-size="5.2" fill="#333" stroke="#333" stroke-width="0.10">10.0</text>
<text x="225.50" y="454.90" font-size="5.2" fill="#333" stroke="#333" stroke-width="0.10">9.5</text>
<text x="133.80" y="488.40" font-size="8.0" textLength="82.71" lengthAdjust="spacingAndGlyphs" fill="#333" stroke="#333" stroke-width="0.18">Significant/annotated genes</text>
<text x="275.10" y="195.30" font-size="11.7" textLength="8.12" lengthAdjust="spacingAndGlyphs" font-weight="bold">D</text>
<text x="324.20" y="192.70" font-size="7.8" textLength="48.49" lengthAdjust="spacingAndGlyphs" font-weight="bold">FATTY ACID</text>
<text x="321.20" y="203.10" font-size="7.8" textLength="54.98" lengthAdjust="spacingAndGlyphs" font-weight="bold">METABOLISM</text>
<line x1="339.60" y1="211.00" x2="339.60" y2="262.20" stroke="#ececec" stroke-width="0.5" />
<line x1="366.80" y1="211.00" x2="366.80" y2="262.20" stroke="#ececec" stroke-width="0.5" />
<line x1="310.00" y1="224.40" x2="386.70" y2="224.40" stroke="#f2f2f2" stroke-width="0.5" />
<line x1="310.00" y1="234.70" x2="386.70" y2="234.70" stroke="#f2f2f2" stroke-width="0.5" />
<line x1="310.00" y1="244.90" x2="386.70" y2="244.90" stroke="#f2f2f2" stroke-width="0.5" />
<line x1="310.00" y1="255.20" x2="386.70" y2="255.20" stroke="#f2f2f2" stroke-width="0.5" />
<line x1="310.00" y1="209.10" x2="386.70" y2="209.10" stroke="#f0a8a8" stroke-width="0.6" />
<line x1="310.00" y1="259.40" x2="386.70" y2="259.40" stroke="#f0a8a8" stroke-width="0.6" />
<line x1="346.12" y1="211.40" x2="346.12" y2="217.70" stroke="#000" stroke-width="0.45" stroke-opacity="0.24"/>
<line x1="353.74" y1="211.40" x2="353.74" y2="217.70" stroke="#000" stroke-width="0.45" stroke-opacity="0.39"/>
<line x1="379.62" y1="211.40" x2="379.62" y2="217.70" stroke="#000" stroke-width="0.45" stroke-opacity="0.20"/>
<line x1="347.06" y1="211.40" x2="347.06" y2="217.70" stroke="#000" stroke-width="0.45" stroke-opacity="0.31"/>
<line x1="350.06" y1="211.40" x2="350.06" y2="217.70" stroke="#000" stroke-width="0.45" stroke-opacity="0.16"/>
<line x1="355.70" y1="211.40" x2="355.70" y2="217.70" stroke="#000" stroke-width="0.45" stroke-opacity="0.24"/>
<line x1="327.11" y1="211.40" x2="327.11" y2="217.70" stroke="#000" stroke-width="0.45" stroke-opacity="0.36"/>
<line x1="350.35" y1="211.40" x2="350.35" y2="217.70" stroke="#000" stroke-width="0.45" stroke-opacity="0.39"/>
<line x1="358.72" y1="211.40" x2="358.72" y2="217.70" stroke="#000" stroke-width="0.45" stroke-opacity="0.38"/>
<line x1="370.30" y1="211.40" x2="370.30" y2="217.70" stroke="#000" stroke-width="0.45" stroke-opacity="0.22"/>
<line x1="320.68" y1="211.40" x2="320.68" y2="217.70" stroke="#000" stroke-width="0.45" stroke-opacity="0.29"/>
<line x1="335.54" y1="211.40" x2="335.54" y2="217.70" stroke="#000" stroke-width="0.45" stroke-opacity="0.20"/>
<line x1="320.44" y1="211.40" x2="320.44" y2="217.70" stroke="#000" stroke-width="0.45" stroke-opacity="0.14"/>
<line x1="371.48" y1="211.40" x2="371.48" y2="217.70" stroke="#000" stroke-width="0.45" stroke-opacity="0.26"/>
<line x1="363.23" y1="211.40" x2="363.23" y2="217.70" stroke="#000" stroke-width="0.45" stroke-opacity="0.37"/>
<line x1="316.97" y1="211.40" x2="316.97" y2="217.70" stroke="#000" stroke-width="0.45" stroke-opacity="0.37"/>
<line x1="383.74" y1="211.40" x2="383.74" y2="217.70" stroke="#000" stroke-width="0.45" stroke-opacity="0.33"/>
<line x1="382.50" y1="211.40" x2="382.50" y2="217.70" stroke="#000" stroke-width="0.45" stroke-opacity="0.40"/>
<line x1="360.43" y1="211.40" x2="360.43" y2="217.70" stroke="#000" stroke-width="0.45" stroke-opacity="0.19"/>
<line x1="357.70" y1="211.40" x2="357.70" y2="217.70" stroke="#000" stroke-width="0.45" stroke-opacity="0.15"/>
<line x1="325.18" y1="211.40" x2="325.18" y2="217.70" stroke="#000" stroke-width="0.45" stroke-opacity="0.24"/>
<line x1="315.07" y1="211.40" x2="315.07" y2="217.70" stroke="#000" stroke-width="0.45" stroke-opacity="0.19"/>
<line x1="351.52" y1="211.40" x2="351.52" y2="217.70" stroke="#000" stroke-width="0.45" stroke-opacity="0.17"/>
<line x1="318.23" y1="211.40" x2="318.23" y2="217.70" stroke="#000" stroke-width="0.45" stroke-opacity="0.23"/>
<line x1="327.50" y1="211.40" x2="327.50" y2="217.70" stroke="#000" stroke-width="0.45" stroke-opacity="0.30"/>
<line x1="331.18" y1="211.40" x2="331.18" y2="217.70" stroke="#000" stroke-width="0.45" stroke-opacity="0.26"/>
<line x1="316.14" y1="211.40" x2="316.14" y2="217.70" stroke="#000" stroke-width="0.45" stroke-opacity="0.20"/>
<line x1="346.94" y1="211.40" x2="346.94" y2="217.70" stroke="#000" stroke-width="0.45" stroke-opacity="0.37"/>
<line x1="345.28" y1="211.40" x2="345.28" y2="217.70" stroke="#000" stroke-width="0.45" stroke-opacity="0.41"/>
<line x1="373.81" y1="211.40" x2="373.81" y2="217.70" stroke="#000" stroke-width="0.45" stroke-opacity="0.24"/>
<line x1="350.86" y1="211.40" x2="350.86" y2="217.70" stroke="#000" stroke-width="0.45" stroke-opacity="0.12"/>
<line x1="359.46" y1="211.40" x2="359.46" y2="217.70" stroke="#000" stroke-width="0.45" stroke-opacity="0.11"/>
<line x1="349.48" y1="211.40" x2="349.48" y2="217.70" stroke="#000" stroke-width="0.45" stroke-opacity="0.38"/>
<line x1="361.03" y1="211.40" x2="361.03" y2="217.70" stroke="#000" stroke-width="0.45" stroke-opacity="0.11"/>
<line x1="346.47" y1="211.40" x2="346.47" y2="217.70" stroke="#000" stroke-width="0.45" stroke-opacity="0.33"/>
<line x1="333.75" y1="211.40" x2="333.75" y2="217.70" stroke="#000" stroke-width="0.45" stroke-opacity="0.28"/>
<line x1="384.83" y1="211.40" x2="384.83" y2="217.70" stroke="#000" stroke-width="0.45" stroke-opacity="0.20"/>
<line x1="384.69" y1="211.40" x2="384.69" y2="217.70" stroke="#000" stroke-width="0.45" stroke-opacity="0.35"/>
<line x1="373.66" y1="211.40" x2="373.66" y2="217.70" stroke="#000" stroke-width="0.45" stroke-opacity="0.11"/>
<line x1="364.25" y1="211.40" x2="364.25" y2="217.70" stroke="#000" stroke-width="0.45" stroke-opacity="0.14"/>
<line x1="336.38" y1="211.40" x2="336.38" y2="217.70" stroke="#000" stroke-width="0.45" stroke-opacity="0.25"/>
<line x1="330.31" y1="211.40" x2="330.31" y2="217.70" stroke="#000" stroke-width="0.45" stroke-opacity="0.11"/>
<line x1="334.52" y1="211.40" x2="334.52" y2="217.70" stroke="#000" stroke-width="0.45" stroke-opacity="0.37"/>
<line x1="318.99" y1="211.40" x2="318.99" y2="217.70" stroke="#000" stroke-width="0.45" stroke-opacity="0.18"/>
<line x1="368.41" y1="211.40" x2="368.41" y2="217.70" stroke="#000" stroke-width="0.45" stroke-opacity="0.15"/>
<line x1="342.43" y1="211.40" x2="342.43" y2="217.70" stroke="#000" stroke-width="0.45" stroke-opacity="0.12"/>
<line x1="374.11" y1="211.40" x2="374.11" y2="217.70" stroke="#000" stroke-width="0.45" stroke-opacity="0.30"/>
<line x1="341.44" y1="211.40" x2="341.44" y2="217.70" stroke="#000" stroke-width="0.45" stroke-opacity="0.24"/>
<line x1="382.02" y1="211.40" x2="382.02" y2="217.70" stroke="#000" stroke-width="0.45" stroke-opacity="0.30"/>
<line x1="374.16" y1="211.40" x2="374.16" y2="217.70" stroke="#000" stroke-width="0.45" stroke-opacity="0.31"/>
<line x1="314.04" y1="211.40" x2="314.04" y2="217.70" stroke="#000" stroke-width="0.45" stroke-opacity="0.36"/>
<line x1="328.89" y1="211.40" x2="328.89" y2="217.70" stroke="#000" stroke-width="0.45" stroke-opacity="0.41"/>
<line x1="378.63" y1="211.40" x2="378.63" y2="217.70" stroke="#000" stroke-width="0.45" stroke-opacity="0.32"/>
<line x1="347.37" y1="211.40" x2="347.37" y2="217.70" stroke="#000" stroke-width="0.45" stroke-opacity="0.16"/>
<line x1="383.61" y1="211.40" x2="383.61" y2="217.70" stroke="#000" stroke-width="0.45" stroke-opacity="0.25"/>
<line x1="342.22" y1="211.40" x2="342.22" y2="217.70" stroke="#000" stroke-width="0.45" stroke-opacity="0.16"/>
<line x1="319.19" y1="211.40" x2="319.19" y2="217.70" stroke="#000" stroke-width="0.45" stroke-opacity="0.10"/>
<line x1="358.69" y1="211.40" x2="358.69" y2="217.70" stroke="#000" stroke-width="0.45" stroke-opacity="0.25"/>
<line x1="369.27" y1="211.40" x2="369.27" y2="217.70" stroke="#000" stroke-width="0.45" stroke-opacity="0.33"/>
<line x1="333.15" y1="211.40" x2="333.15" y2="217.70" stroke="#000" stroke-width="0.45" stroke-opacity="0.16"/>
<line x1="320.19" y1="211.40" x2="320.19" y2="217.70" stroke="#000" stroke-width="0.45" stroke-opacity="0.19"/>
<line x1="337.61" y1="211.40" x2="337.61" y2="217.70" stroke="#000" stroke-width="0.45" stroke-opacity="0.21"/>
<line x1="382.45" y1="211.40" x2="382.45" y2="217.70" stroke="#000" stroke-width="0.45" stroke-opacity="0.32"/>
<line x1="367.82" y1="211.40" x2="367.82" y2="217.70" stroke="#000" stroke-width="0.45" stroke-opacity="0.27"/>
<line x1="322.38" y1="211.40" x2="322.38" y2="217.70" stroke="#000" stroke-width="0.45" stroke-opacity="0.30"/>
<line x1="331.49" y1="211.40" x2="331.49" y2="217.70" stroke="#000" stroke-width="0.45" stroke-opacity="0.34"/>
<line x1="321.17" y1="211.40" x2="321.17" y2="217.70" stroke="#000" stroke-width="0.45" stroke-opacity="0.23"/>
<line x1="318.25" y1="211.40" x2="318.25" y2="217.70" stroke="#000" stroke-width="0.45" stroke-opacity="0.35"/>
<line x1="370.59" y1="211.40" x2="370.59" y2="217.70" stroke="#000" stroke-width="0.45" stroke-opacity="0.39"/>
<line x1="326.62" y1="211.40" x2="326.62" y2="217.70" stroke="#000" stroke-width="0.45" stroke-opacity="0.13"/>
<line x1="353.71" y1="211.40" x2="353.71" y2="217.70" stroke="#000" stroke-width="0.45" stroke-opacity="0.40"/>
<line x1="345.77" y1="211.40" x2="345.77" y2="217.70" stroke="#000" stroke-width="0.45" stroke-opacity="0.33"/>
<line x1="327.54" y1="211.40" x2="327.54" y2="217.70" stroke="#000" stroke-width="0.45" stroke-opacity="0.14"/>
<line x1="365.96" y1="211.40" x2="365.96" y2="217.70" stroke="#000" stroke-width="0.45" stroke-opacity="0.25"/>
<line x1="323.30" y1="211.40" x2="323.30" y2="217.70" stroke="#000" stroke-width="0.45" stroke-opacity="0.30"/>
<line x1="359.70" y1="211.40" x2="359.70" y2="217.70" stroke="#000" stroke-width="0.45" stroke-opacity="0.39"/>
<line x1="322.27" y1="211.40" x2="322.27" y2="217.70" stroke="#000" stroke-width="0.45" stroke-opacity="0.22"/>
<line x1="343.87" y1="211.40" x2="343.87" y2="217.70" stroke="#000" stroke-width="0.45" stroke-opacity="0.28"/>
<line x1="329.11" y1="211.40" x2="329.11" y2="217.70" stroke="#000" stroke-width="0.45" stroke-opacity="0.38"/>
<line x1="333.16" y1="211.40" x2="333.16" y2="217.70" stroke="#000" stroke-width="0.45" stroke-opacity="0.35"/>
<line x1="382.94" y1="211.40" x2="382.94" y2="217.70" stroke="#000" stroke-width="0.45" stroke-opacity="0.40"/>
<line x1="371.04" y1="211.40" x2="371.04" y2="217.70" stroke="#000" stroke-width="0.45" stroke-opacity="0.25"/>
<line x1="335.59" y1="211.40" x2="335.59" y2="217.70" stroke="#000" stroke-width="0.45" stroke-opacity="0.31"/>
<line x1="376.83" y1="211.40" x2="376.83" y2="217.70" stroke="#000" stroke-width="0.45" stroke-opacity="0.17"/>
<line x1="328.96" y1="211.40" x2="328.96" y2="217.70" stroke="#000" stroke-width="0.45" stroke-opacity="0.33"/>
<line x1="341.99" y1="211.40" x2="341.99" y2="217.70" stroke="#000" stroke-width="0.45" stroke-opacity="0.36"/>
<line x1="374.66" y1="211.40" x2="374.66" y2="217.70" stroke="#000" stroke-width="0.45" stroke-opacity="0.31"/>
<line x1="359.57" y1="211.40" x2="359.57" y2="217.70" stroke="#000" stroke-width="0.45" stroke-opacity="0.33"/>
<line x1="321.12" y1="211.40" x2="321.12" y2="217.70" stroke="#000" stroke-width="0.45" stroke-opacity="0.17"/>
<line x1="384.24" y1="211.40" x2="384.24" y2="217.70" stroke="#000" stroke-width="0.45" stroke-opacity="0.39"/>
<line x1="329.14" y1="211.40" x2="329.14" y2="217.70" stroke="#000" stroke-width="0.45" stroke-opacity="0.41"/>
<line x1="332.34" y1="211.40" x2="332.34" y2="217.70" stroke="#000" stroke-width="0.45" stroke-opacity="0.41"/>
<line x1="368.86" y1="211.40" x2="368.86" y2="217.70" stroke="#000" stroke-width="0.45" stroke-opacity="0.27"/>
<line x1="337.36" y1="211.40" x2="337.36" y2="217.70" stroke="#000" stroke-width="0.45" stroke-opacity="0.35"/>
<line x1="335.04" y1="211.40" x2="335.04" y2="217.70" stroke="#000" stroke-width="0.45" stroke-opacity="0.20"/>
<line x1="319.21" y1="211.40" x2="319.21" y2="217.70" stroke="#000" stroke-width="0.45" stroke-opacity="0.39"/>
<line x1="320.40" y1="211.40" x2="320.40" y2="217.70" stroke="#000" stroke-width="0.45" stroke-opacity="0.37"/>
<line x1="355.37" y1="211.40" x2="355.37" y2="217.70" stroke="#000" stroke-width="0.45" stroke-opacity="0.21"/>
<line x1="331.25" y1="211.40" x2="331.25" y2="217.70" stroke="#000" stroke-width="0.45" stroke-opacity="0.13"/>
<line x1="356.69" y1="211.40" x2="356.69" y2="217.70" stroke="#000" stroke-width="0.45" stroke-opacity="0.24"/>
<line x1="340.39" y1="211.40" x2="340.39" y2="217.70" stroke="#000" stroke-width="0.45" stroke-opacity="0.28"/>
<line x1="346.18" y1="211.40" x2="346.18" y2="217.70" stroke="#000" stroke-width="0.45" stroke-opacity="0.35"/>
<line x1="382.10" y1="211.40" x2="382.10" y2="217.70" stroke="#000" stroke-width="0.45" stroke-opacity="0.26"/>
<line x1="348.34" y1="211.40" x2="348.34" y2="217.70" stroke="#000" stroke-width="0.45" stroke-opacity="0.11"/>
<line x1="354.79" y1="211.40" x2="354.79" y2="217.70" stroke="#000" stroke-width="0.45" stroke-opacity="0.36"/>
<line x1="375.52" y1="211.40" x2="375.52" y2="217.70" stroke="#000" stroke-width="0.45" stroke-opacity="0.12"/>
<line x1="326.98" y1="211.40" x2="326.98" y2="217.70" stroke="#000" stroke-width="0.45" stroke-opacity="0.36"/>
<line x1="324.94" y1="211.40" x2="324.94" y2="217.70" stroke="#000" stroke-width="0.45" stroke-opacity="0.16"/>
<line x1="378.50" y1="211.40" x2="378.50" y2="217.70" stroke="#000" stroke-width="0.45" stroke-opacity="0.21"/>
<line x1="372.06" y1="211.40" x2="372.06" y2="217.70" stroke="#000" stroke-width="0.45" stroke-opacity="0.35"/>
<line x1="349.46" y1="211.40" x2="349.46" y2="217.70" stroke="#000" stroke-width="0.45" stroke-opacity="0.14"/>
<line x1="344.93" y1="211.40" x2="344.93" y2="217.70" stroke="#000" stroke-width="0.45" stroke-opacity="0.15"/>
<line x1="375.05" y1="211.40" x2="375.05" y2="217.70" stroke="#000" stroke-width="0.45" stroke-opacity="0.27"/>
<line x1="382.85" y1="211.40" x2="382.85" y2="217.70" stroke="#000" stroke-width="0.45" stroke-opacity="0.33"/>
<line x1="345.48" y1="211.40" x2="345.48" y2="217.70" stroke="#000" stroke-width="0.45" stroke-opacity="0.37"/>
<line x1="383.21" y1="211.40" x2="383.21" y2="217.70" stroke="#000" stroke-width="0.45" stroke-opacity="0.32"/>
<line x1="380.69" y1="211.40" x2="380.69" y2="217.70" stroke="#000" stroke-width="0.45" stroke-opacity="0.40"/>
<line x1="369.16" y1="211.40" x2="369.16" y2="217.70" stroke="#000" stroke-width="0.45" stroke-opacity="0.26"/>
<line x1="360.09" y1="211.40" x2="360.09" y2="217.70" stroke="#000" stroke-width="0.45" stroke-opacity="0.40"/>
<line x1="336.88" y1="211.40" x2="336.88" y2="217.70" stroke="#000" stroke-width="0.45" stroke-opacity="0.13"/>
<line x1="327.97" y1="211.40" x2="327.97" y2="217.70" stroke="#000" stroke-width="0.45" stroke-opacity="0.17"/>
<line x1="383.66" y1="211.40" x2="383.66" y2="217.70" stroke="#000" stroke-width="0.45" stroke-opacity="0.27"/>
<line x1="348.67" y1="211.40" x2="348.67" y2="217.70" stroke="#000" stroke-width="0.45" stroke-opacity="0.19"/>
<line x1="373.60" y1="211.40" x2="373.60" y2="217.70" stroke="#000" stroke-width="0.45" stroke-opacity="0.33"/>
<line x1="349.99" y1="211.40" x2="349.99" y2="217.70" stroke="#000" stroke-width="0.45" stroke-opacity="0.30"/>
<line x1="378.44" y1="211.40" x2="378.44" y2="217.70" stroke="#000" stroke-width="0.45" stroke-opacity="0.27"/>
<line x1="368.83" y1="211.40" x2="368.83" y2="217.70" stroke="#000" stroke-width="0.45" stroke-opacity="0.37"/>
<line x1="352.46" y1="211.40" x2="352.46" y2="217.70" stroke="#000" stroke-width="0.45" stroke-opacity="0.28"/>
<line x1="343.74" y1="211.40" x2="343.74" y2="217.70" stroke="#000" stroke-width="0.45" stroke-opacity="0.20"/>
<line x1="374.26" y1="211.40" x2="374.26" y2="217.70" stroke="#000" stroke-width="0.45" stroke-opacity="0.22"/>
<line x1="332.62" y1="211.40" x2="332.62" y2="217.70" stroke="#000" stroke-width="0.45" stroke-opacity="0.37"/>
<line x1="347.93" y1="211.40" x2="347.93" y2="217.70" stroke="#000" stroke-width="0.45" stroke-opacity="0.39"/>
<line x1="367.10" y1="211.40" x2="367.10" y2="217.70" stroke="#000" stroke-width="0.45" stroke-opacity="0.17"/>
<line x1="379.55" y1="211.40" x2="379.55" y2="217.70" stroke="#000" stroke-width="0.45" stroke-opacity="0.37"/>
<line x1="369.65" y1="211.40" x2="369.65" y2="217.70" stroke="#000" stroke-width="0.45" stroke-opacity="0.41"/>
<line x1="351.58" y1="211.40" x2="351.58" y2="217.70" stroke="#000" stroke-width="0.45" stroke-opacity="0.27"/>
<line x1="382.00" y1="211.40" x2="382.00" y2="217.70" stroke="#000" stroke-width="0.45" stroke-opacity="0.28"/>
<line x1="346.07" y1="211.40" x2="346.07" y2="217.70" stroke="#000" stroke-width="0.45" stroke-opacity="0.16"/>
<line x1="323.14" y1="211.40" x2="323.14" y2="217.70" stroke="#000" stroke-width="0.45" stroke-opacity="0.27"/>
<line x1="350.84" y1="211.40" x2="350.84" y2="217.70" stroke="#000" stroke-width="0.45" stroke-opacity="0.26"/>
<line x1="361.40" y1="211.40" x2="361.40" y2="217.70" stroke="#000" stroke-width="0.45" stroke-opacity="0.29"/>
<line x1="331.46" y1="211.40" x2="331.46" y2="217.70" stroke="#000" stroke-width="0.45" stroke-opacity="0.11"/>
<line x1="343.81" y1="211.40" x2="343.81" y2="217.70" stroke="#000" stroke-width="0.45" stroke-opacity="0.41"/>
<line x1="357.12" y1="211.40" x2="357.12" y2="217.70" stroke="#000" stroke-width="0.45" stroke-opacity="0.27"/>
<line x1="367.71" y1="211.40" x2="367.71" y2="217.70" stroke="#000" stroke-width="0.45" stroke-opacity="0.23"/>
<line x1="339.75" y1="211.40" x2="339.75" y2="217.70" stroke="#000" stroke-width="0.45" stroke-opacity="0.36"/>
<line x1="356.73" y1="211.40" x2="356.73" y2="217.70" stroke="#000" stroke-width="0.45" stroke-opacity="0.28"/>
<line x1="381.02" y1="211.40" x2="381.02" y2="217.70" stroke="#000" stroke-width="0.45" stroke-opacity="0.26"/>
<line x1="384.30" y1="211.40" x2="384.30" y2="217.70" stroke="#000" stroke-width="0.45" stroke-opacity="0.32"/>
<line x1="371.55" y1="211.40" x2="371.55" y2="217.70" stroke="#000" stroke-width="0.45" stroke-opacity="0.12"/>
<line x1="373.03" y1="211.40" x2="373.03" y2="217.70" stroke="#000" stroke-width="0.45" stroke-opacity="0.27"/>
<line x1="368.28" y1="211.40" x2="368.28" y2="217.70" stroke="#000" stroke-width="0.45" stroke-opacity="0.23"/>
<line x1="340.60" y1="211.40" x2="340.60" y2="217.70" stroke="#000" stroke-width="0.45" stroke-opacity="0.41"/>
<line x1="327.30" y1="211.40" x2="327.30" y2="217.70" stroke="#000" stroke-width="0.45" stroke-opacity="0.40"/>
<line x1="323.50" y1="211.40" x2="323.50" y2="217.70" stroke="#000" stroke-width="0.45" stroke-opacity="0.19"/>
<line x1="381.74" y1="211.40" x2="381.74" y2="217.70" stroke="#000" stroke-width="0.45" stroke-opacity="0.25"/>
<line x1="373.44" y1="211.40" x2="373.44" y2="217.70" stroke="#000" stroke-width="0.45" stroke-opacity="0.14"/>
<line x1="383.67" y1="211.40" x2="383.67" y2="217.70" stroke="#000" stroke-width="0.45" stroke-opacity="0.24"/>
<line x1="324.35" y1="211.40" x2="324.35" y2="217.70" stroke="#000" stroke-width="0.45" stroke-opacity="0.36"/>
<line x1="370.63" y1="211.40" x2="370.63" y2="217.70" stroke="#000" stroke-width="0.45" stroke-opacity="0.39"/>
<line x1="363.30" y1="211.40" x2="363.30" y2="217.70" stroke="#000" stroke-width="0.45" stroke-opacity="0.25"/>
<line x1="374.68" y1="211.40" x2="374.68" y2="217.70" stroke="#000" stroke-width="0.45" stroke-opacity="0.20"/>
<line x1="354.09" y1="211.40" x2="354.09" y2="217.70" stroke="#000" stroke-width="0.45" stroke-opacity="0.16"/>
<line x1="384.98" y1="211.40" x2="384.98" y2="217.70" stroke="#000" stroke-width="0.45" stroke-opacity="0.30"/>
<line x1="333.48" y1="211.40" x2="333.48" y2="217.70" stroke="#000" stroke-width="0.45" stroke-opacity="0.40"/>
<line x1="366.47" y1="211.40" x2="366.47" y2="217.70" stroke="#000" stroke-width="0.45" stroke-opacity="0.14"/>
<line x1="374.95" y1="211.40" x2="374.95" y2="217.70" stroke="#000" stroke-width="0.45" stroke-opacity="0.35"/>
<line x1="381.36" y1="211.40" x2="381.36" y2="217.70" stroke="#000" stroke-width="0.45" stroke-opacity="0.11"/>
<line x1="374.96" y1="211.40" x2="374.96" y2="217.70" stroke="#000" stroke-width="0.45" stroke-opacity="0.16"/>
<line x1="373.56" y1="211.40" x2="373.56" y2="217.70" stroke="#000" stroke-width="0.45" stroke-opacity="0.17"/>
<line x1="377.24" y1="211.40" x2="377.24" y2="217.70" stroke="#000" stroke-width="0.45" stroke-opacity="0.32"/>
<line x1="381.92" y1="211.40" x2="381.92" y2="217.70" stroke="#000" stroke-width="0.45" stroke-opacity="0.20"/>
<line x1="356.11" y1="211.40" x2="356.11" y2="217.70" stroke="#000" stroke-width="0.45" stroke-opacity="0.21"/>
<line x1="372.77" y1="211.40" x2="372.77" y2="217.70" stroke="#000" stroke-width="0.45" stroke-opacity="0.30"/>
<line x1="381.39" y1="211.40" x2="381.39" y2="217.70" stroke="#000" stroke-width="0.45" stroke-opacity="0.13"/>
<line x1="380.27" y1="211.40" x2="380.27" y2="217.70" stroke="#000" stroke-width="0.45" stroke-opacity="0.33"/>
<line x1="359.86" y1="211.40" x2="359.86" y2="217.70" stroke="#000" stroke-width="0.45" stroke-opacity="0.14"/>
<line x1="377.13" y1="211.40" x2="377.13" y2="217.70" stroke="#000" stroke-width="0.45" stroke-opacity="0.26"/>
<line x1="379.98" y1="211.40" x2="379.98" y2="217.70" stroke="#000" stroke-width="0.45" stroke-opacity="0.18"/>
<line x1="367.74" y1="211.40" x2="367.74" y2="217.70" stroke="#000" stroke-width="0.45" stroke-opacity="0.16"/>
<line x1="370.13" y1="211.40" x2="370.13" y2="217.70" stroke="#000" stroke-width="0.45" stroke-opacity="0.27"/>
<line x1="357.90" y1="211.40" x2="357.90" y2="217.70" stroke="#000" stroke-width="0.45" stroke-opacity="0.24"/>
<line x1="368.20" y1="211.40" x2="368.20" y2="217.70" stroke="#000" stroke-width="0.45" stroke-opacity="0.22"/>
<line x1="369.40" y1="211.40" x2="369.40" y2="217.70" stroke="#000" stroke-width="0.45" stroke-opacity="0.23"/>
<line x1="334.11" y1="211.40" x2="334.11" y2="217.70" stroke="#000" stroke-width="0.45" stroke-opacity="0.27"/>
<line x1="370.77" y1="211.40" x2="370.77" y2="217.70" stroke="#000" stroke-width="0.45" stroke-opacity="0.15"/>
<line x1="384.76" y1="211.40" x2="384.76" y2="217.70" stroke="#000" stroke-width="0.45" stroke-opacity="0.17"/>
<line x1="380.60" y1="211.40" x2="380.60" y2="217.70" stroke="#000" stroke-width="0.45" stroke-opacity="0.30"/>
<line x1="374.59" y1="211.40" x2="374.59" y2="217.70" stroke="#000" stroke-width="0.45" stroke-opacity="0.30"/>
<line x1="358.25" y1="211.40" x2="358.25" y2="217.70" stroke="#000" stroke-width="0.45" stroke-opacity="0.27"/>
<line x1="374.87" y1="211.40" x2="374.87" y2="217.70" stroke="#000" stroke-width="0.45" stroke-opacity="0.37"/>
<line x1="368.12" y1="211.40" x2="368.12" y2="217.70" stroke="#000" stroke-width="0.45" stroke-opacity="0.30"/>
<line x1="361.12" y1="211.40" x2="361.12" y2="217.70" stroke="#000" stroke-width="0.45" stroke-opacity="0.37"/>
<line x1="379.01" y1="211.40" x2="379.01" y2="217.70" stroke="#000" stroke-width="0.45" stroke-opacity="0.17"/>
<line x1="334.55" y1="211.40" x2="334.55" y2="217.70" stroke="#000" stroke-width="0.45" stroke-opacity="0.34"/>
<line x1="375.50" y1="211.40" x2="375.50" y2="217.70" stroke="#000" stroke-width="0.45" stroke-opacity="0.36"/>
<line x1="326.25" y1="211.40" x2="326.25" y2="217.70" stroke="#000" stroke-width="0.45" stroke-opacity="0.39"/>
<line x1="369.06" y1="211.40" x2="369.06" y2="217.70" stroke="#000" stroke-width="0.45" stroke-opacity="0.20"/>
<line x1="363.24" y1="211.40" x2="363.24" y2="217.70" stroke="#000" stroke-width="0.45" stroke-opacity="0.20"/>
<line x1="348.07" y1="211.40" x2="348.07" y2="217.70" stroke="#000" stroke-width="0.45" stroke-opacity="0.40"/>
<line x1="382.56" y1="211.40" x2="382.56" y2="217.70" stroke="#000" stroke-width="0.45" stroke-opacity="0.17"/>
<line x1="383.26" y1="211.40" x2="383.26" y2="217.70" stroke="#000" stroke-width="0.45" stroke-opacity="0.42"/>
<line x1="382.85" y1="211.40" x2="382.85" y2="217.70" stroke="#000" stroke-width="0.45" stroke-opacity="0.38"/>
<line x1="381.78" y1="211.40" x2="381.78" y2="217.70" stroke="#000" stroke-width="0.45" stroke-opacity="0.14"/>
<line x1="384.10" y1="211.40" x2="384.10" y2="217.70" stroke="#000" stroke-width="0.45" stroke-opacity="0.18"/>
<line x1="384.96" y1="211.40" x2="384.96" y2="217.70" stroke="#000" stroke-width="0.45" stroke-opacity="0.33"/>
<line x1="383.95" y1="211.40" x2="383.95" y2="217.70" stroke="#000" stroke-width="0.45" stroke-opacity="0.18"/>
<line x1="382.63" y1="211.40" x2="382.63" y2="217.70" stroke="#000" stroke-width="0.45" stroke-opacity="0.13"/>
<line x1="384.29" y1="211.40" x2="384.29" y2="217.70" stroke="#000" stroke-width="0.45" stroke-opacity="0.37"/>
<line x1="384.41" y1="211.40" x2="384.41" y2="217.70" stroke="#000" stroke-width="0.45" stroke-opacity="0.23"/>
<line x1="381.83" y1="211.40" x2="381.83" y2="217.70" stroke="#000" stroke-width="0.45" stroke-opacity="0.35"/>
<line x1="382.69" y1="211.40" x2="382.69" y2="217.70" stroke="#000" stroke-width="0.45" stroke-opacity="0.14"/>
<polyline points="313.99,208.81 314.80,209.93 315.62,210.54 316.44,211.06 317.25,211.50 318.07,211.91 318.89,213.17 319.71,213.76 320.52,214.13 321.34,215.20 322.16,215.59 322.97,216.64 323.79,217.39 324.61,218.15 325.42,218.73 326.24,219.33 327.06,219.66 327.88,220.44 328.69,221.02 329.51,221.70 330.33,222.42 331.14,223.11 331.96,224.15 332.78,224.04 333.59,225.51 334.41,226.20 335.23,227.56 336.05,228.08 336.86,228.33 337.68,229.60 338.50,230.21 339.31,231.36 340.13,231.73 340.95,232.76 341.76,233.57 342.58,234.39 343.40,235.10 344.22,235.64 345.03,237.17 345.85,238.31 346.67,239.09 347.48,239.91 348.30,241.20 349.12,242.30 349.93,243.16 350.75,244.21 351.57,245.75 352.39,246.42 353.20,247.77 354.02,248.70 354.84,250.19 355.65,251.41 356.47,252.17 357.29,253.05 358.10,254.41 358.92,254.79 359.74,255.63 360.56,256.95 361.37,256.73 362.19,256.63 363.01,257.38 363.82,257.49 364.64,258.47 365.46,258.24 366.27,258.79 367.09,257.75 367.91,257.31 368.73,256.52 369.54,256.18 370.36,255.57 371.18,254.70 371.99,254.23 372.81,253.41 373.63,252.40 374.44,251.17 375.26,250.11 376.08,249.38 376.90,248.83 377.71,246.16 378.53,244.04 379.84,237.53 380.98,229.27 382.12,222.76 383.43,218.03 384.58,215.12 385.39,211.21" fill="none" stroke="#9cee7c" stroke-width="0.9" stroke-linejoin="round"/>
<line x1="310.00" y1="211.00" x2="310.00" y2="262.80" stroke="#000" stroke-width="1.2" />
<line x1="309.40" y1="262.20" x2="386.70" y2="262.20" stroke="#000" stroke-width="1.2" />
<line x1="306.60" y1="214.40" x2="310.00" y2="214.40" stroke="#000" stroke-width="1.1" />
<text x="303.50" y="216.60" font-size="6.3" text-anchor="end" fill="#222" stroke="#222" stroke-width="0.18">0</text>
<line x1="306.60" y1="224.40" x2="310.00" y2="224.40" stroke="#000" stroke-width="1.1" />
<text x="303.50" y="226.60" font-size="6.3" text-anchor="end" fill="#222" stroke="#222" stroke-width="0.18">-0.1</text>
<line x1="306.60" y1="234.70" x2="310.00" y2="234.70" stroke="#000" stroke-width="1.1" />
<text x="303.50" y="236.90" font-size="6.3" text-anchor="end" fill="#222" stroke="#222" stroke-width="0.18">-0.2</text>
<line x1="306.60" y1="244.90" x2="310.00" y2="244.90" stroke="#000" stroke-width="1.1" />
<text x="303.50" y="247.10" font-size="6.3" text-anchor="end" fill="#222" stroke="#222" stroke-width="0.18">-0.3</text>
<line x1="306.60" y1="255.20" x2="310.00" y2="255.20" stroke="#000" stroke-width="1.1" />
<text x="303.50" y="257.40" font-size="6.3" text-anchor="end" fill="#222" stroke="#222" stroke-width="0.18">-0.4</text>
<line x1="314.00" y1="262.20" x2="314.00" y2="265.00" stroke="#000" stroke-width="1.0" />
<text x="313.30" y="273.70" font-size="6.7" textLength="3.35" lengthAdjust="spacingAndGlyphs" text-anchor="middle" fill="#222" stroke="#222" stroke-width="0.18">0</text>
<line x1="339.60" y1="262.20" x2="339.60" y2="265.00" stroke="#000" stroke-width="1.0" />
<text x="340.20" y="273.70" font-size="6.7" textLength="13.41" lengthAdjust="spacingAndGlyphs" text-anchor="middle" fill="#222" stroke="#222" stroke-width="0.18">5000</text>
<line x1="366.80" y1="262.20" x2="366.80" y2="265.00" stroke="#000" stroke-width="1.0" />
<text x="367.40" y="273.70" font-size="6.7" textLength="16.77" lengthAdjust="spacingAndGlyphs" text-anchor="middle" fill="#222" stroke="#222" stroke-width="0.18">10000</text>
<text x="314.00" y="248.00" font-size="5.3" textLength="16.19" lengthAdjust="spacingAndGlyphs" fill="#222" stroke="#222" stroke-width="0.10">P&lt;0.01</text>
<text x="314.00" y="254.50" font-size="5.3" textLength="25.89" lengthAdjust="spacingAndGlyphs" fill="#222" stroke="#222" stroke-width="0.10">NES : -1.98</text>
<text x="307.70" y="282.30" font-size="6.2" textLength="17.71" lengthAdjust="spacingAndGlyphs" fill="#c0304a" stroke="#c0304a" stroke-width="0.18">LN_FL</text>
<line x1="328.90" y1="280.50" x2="365.50" y2="280.50" stroke="#000" stroke-width="0.8" />
<path d="M368.00 280.50L364.60 278.90L364.60 282.10Z" stroke="none" stroke-width="1" fill="#000" />
<text x="371.70" y="282.30" font-size="6.2" textLength="19.22" lengthAdjust="spacingAndGlyphs" fill="#4466a8" stroke="#4466a8" stroke-width="0.18">BM_FL</text>
<text x="339.30" y="290.70" font-size="8.6" textLength="18.80" lengthAdjust="spacingAndGlyphs" fill="#222" stroke="#222" stroke-width="0.18">t score</text>
<g transform="translate(287.20,262.30) rotate(-90)">
<text x="0.00" y="0.00" font-size="9.6" textLength="50.50" lengthAdjust="spacingAndGlyphs" fill="#333" stroke="#333" stroke-width="0.18">Enrichment score</text>
</g>
<text x="413.00" y="202.40" font-size="7.8" textLength="77.77" lengthAdjust="spacingAndGlyphs" font-weight="bold">G2M CHECKPOINT</text>
<line x1="442.70" y1="211.00" x2="442.70" y2="262.10" stroke="#ececec" stroke-width="0.5" />
<line x1="469.50" y1="211.00" x2="469.50" y2="262.10" stroke="#ececec" stroke-width="0.5" />
<line x1="412.80" y1="223.20" x2="489.80" y2="223.20" stroke="#f2f2f2" stroke-width="0.5" />
<line x1="412.80" y1="232.30" x2="489.80" y2="232.30" stroke="#f2f2f2" stroke-width="0.5" />
<line x1="412.80" y1="241.30" x2="489.80" y2="241.30" stroke="#f2f2f2" stroke-width="0.5" />
<line x1="412.80" y1="250.30" x2="489.80" y2="250.30" stroke="#f2f2f2" stroke-width="0.5" />
<line x1="412.80" y1="259.20" x2="489.80" y2="259.20" stroke="#f2f2f2" stroke-width="0.5" />
<line x1="412.80" y1="213.70" x2="489.80" y2="213.70" stroke="#f0a8a8" stroke-width="0.6" />
<line x1="412.80" y1="259.20" x2="489.80" y2="259.20" stroke="#f0a8a8" stroke-width="0.6" />
<line x1="483.10" y1="211.60" x2="483.10" y2="216.80" stroke="#000" stroke-width="0.45" stroke-opacity="0.14"/>
<line x1="484.84" y1="211.60" x2="484.84" y2="216.80" stroke="#000" stroke-width="0.45" stroke-opacity="0.13"/>
<line x1="480.73" y1="211.60" x2="480.73" y2="216.80" stroke="#000" stroke-width="0.45" stroke-opacity="0.37"/>
<line x1="421.52" y1="211.60" x2="421.52" y2="216.80" stroke="#000" stroke-width="0.45" stroke-opacity="0.17"/>
<line x1="458.74" y1="211.60" x2="458.74" y2="216.80" stroke="#000" stroke-width="0.45" stroke-opacity="0.24"/>
<line x1="446.42" y1="211.60" x2="446.42" y2="216.80" stroke="#000" stroke-width="0.45" stroke-opacity="0.20"/>
<line x1="454.20" y1="211.60" x2="454.20" y2="216.80" stroke="#000" stroke-width="0.45" stroke-opacity="0.30"/>
<line x1="424.94" y1="211.60" x2="424.94" y2="216.80" stroke="#000" stroke-width="0.45" stroke-opacity="0.27"/>
<line x1="429.45" y1="211.60" x2="429.45" y2="216.80" stroke="#000" stroke-width="0.45" stroke-opacity="0.37"/>
<line x1="447.94" y1="211.60" x2="447.94" y2="216.80" stroke="#000" stroke-width="0.45" stroke-opacity="0.24"/>
<line x1="431.58" y1="211.60" x2="431.58" y2="216.80" stroke="#000" stroke-width="0.45" stroke-opacity="0.22"/>
<line x1="448.71" y1="211.60" x2="448.71" y2="216.80" stroke="#000" stroke-width="0.45" stroke-opacity="0.31"/>
<line x1="417.21" y1="211.60" x2="417.21" y2="216.80" stroke="#000" stroke-width="0.45" stroke-opacity="0.34"/>
<line x1="421.68" y1="211.60" x2="421.68" y2="216.80" stroke="#000" stroke-width="0.45" stroke-opacity="0.40"/>
<line x1="467.37" y1="211.60" x2="467.37" y2="216.80" stroke="#000" stroke-width="0.45" stroke-opacity="0.20"/>
<line x1="446.24" y1="211.60" x2="446.24" y2="216.80" stroke="#000" stroke-width="0.45" stroke-opacity="0.38"/>
<line x1="452.92" y1="211.60" x2="452.92" y2="216.80" stroke="#000" stroke-width="0.45" stroke-opacity="0.41"/>
<line x1="469.14" y1="211.60" x2="469.14" y2="216.80" stroke="#000" stroke-width="0.45" stroke-opacity="0.41"/>
<line x1="441.68" y1="211.60" x2="441.68" y2="216.80" stroke="#000" stroke-width="0.45" stroke-opacity="0.14"/>
<line x1="419.61" y1="211.60" x2="419.61" y2="216.80" stroke="#000" stroke-width="0.45" stroke-opacity="0.22"/>
<line x1="472.72" y1="211.60" x2="472.72" y2="216.80" stroke="#000" stroke-width="0.45" stroke-opacity="0.35"/>
<line x1="458.52" y1="211.60" x2="458.52" y2="216.80" stroke="#000" stroke-width="0.45" stroke-opacity="0.37"/>
<line x1="463.56" y1="211.60" x2="463.56" y2="216.80" stroke="#000" stroke-width="0.45" stroke-opacity="0.11"/>
<line x1="460.86" y1="211.60" x2="460.86" y2="216.80" stroke="#000" stroke-width="0.45" stroke-opacity="0.23"/>
<line x1="486.46" y1="211.60" x2="486.46" y2="216.80" stroke="#000" stroke-width="0.45" stroke-opacity="0.33"/>
<line x1="441.96" y1="211.60" x2="441.96" y2="216.80" stroke="#000" stroke-width="0.45" stroke-opacity="0.34"/>
<line x1="471.02" y1="211.60" x2="471.02" y2="216.80" stroke="#000" stroke-width="0.45" stroke-opacity="0.27"/>
<line x1="442.39" y1="211.60" x2="442.39" y2="216.80" stroke="#000" stroke-width="0.45" stroke-opacity="0.17"/>
<line x1="457.27" y1="211.60" x2="457.27" y2="216.80" stroke="#000" stroke-width="0.45" stroke-opacity="0.23"/>
<line x1="463.75" y1="211.60" x2="463.75" y2="216.80" stroke="#000" stroke-width="0.45" stroke-opacity="0.12"/>
<line x1="438.41" y1="211.60" x2="438.41" y2="216.80" stroke="#000" stroke-width="0.45" stroke-opacity="0.20"/>
<line x1="421.68" y1="211.60" x2="421.68" y2="216.80" stroke="#000" stroke-width="0.45" stroke-opacity="0.24"/>
<line x1="450.10" y1="211.60" x2="450.10" y2="216.80" stroke="#000" stroke-width="0.45" stroke-opacity="0.36"/>
<line x1="467.95" y1="211.60" x2="467.95" y2="216.80" stroke="#000" stroke-width="0.45" stroke-opacity="0.29"/>
<line x1="458.63" y1="211.60" x2="458.63" y2="216.80" stroke="#000" stroke-width="0.45" stroke-opacity="0.23"/>
<line x1="448.15" y1="211.60" x2="448.15" y2="216.80" stroke="#000" stroke-width="0.45" stroke-opacity="0.18"/>
<line x1="462.42" y1="211.60" x2="462.42" y2="216.80" stroke="#000" stroke-width="0.45" stroke-opacity="0.20"/>
<line x1="428.72" y1="211.60" x2="428.72" y2="216.80" stroke="#000" stroke-width="0.45" stroke-opacity="0.31"/>
<line x1="428.47" y1="211.60" x2="428.47" y2="216.80" stroke="#000" stroke-width="0.45" stroke-opacity="0.24"/>
<line x1="439.07" y1="211.60" x2="439.07" y2="216.80" stroke="#000" stroke-width="0.45" stroke-opacity="0.16"/>
<line x1="475.12" y1="211.60" x2="475.12" y2="216.80" stroke="#000" stroke-width="0.45" stroke-opacity="0.36"/>
<line x1="429.72" y1="211.60" x2="429.72" y2="216.80" stroke="#000" stroke-width="0.45" stroke-opacity="0.28"/>
<line x1="423.77" y1="211.60" x2="423.77" y2="216.80" stroke="#000" stroke-width="0.45" stroke-opacity="0.41"/>
<line x1="422.62" y1="211.60" x2="422.62" y2="216.80" stroke="#000" stroke-width="0.45" stroke-opacity="0.27"/>
<line x1="418.25" y1="211.60" x2="418.25" y2="216.80" stroke="#000" stroke-width="0.45" stroke-opacity="0.30"/>
<line x1="435.57" y1="211.60" x2="435.57" y2="216.80" stroke="#000" stroke-width="0.45" stroke-opacity="0.24"/>
<line x1="457.33" y1="211.60" x2="457.33" y2="216.80" stroke="#000" stroke-width="0.45" stroke-opacity="0.29"/>
<line x1="475.47" y1="211.60" x2="475.47" y2="216.80" stroke="#000" stroke-width="0.45" stroke-opacity="0.39"/>
<line x1="439.61" y1="211.60" x2="439.61" y2="216.80" stroke="#000" stroke-width="0.45" stroke-opacity="0.41"/>
<line x1="442.46" y1="211.60" x2="442.46" y2="216.80" stroke="#000" stroke-width="0.45" stroke-opacity="0.31"/>
<line x1="436.52" y1="211.60" x2="436.52" y2="216.80" stroke="#000" stroke-width="0.45" stroke-opacity="0.24"/>
<line x1="437.71" y1="211.60" x2="437.71" y2="216.80" stroke="#000" stroke-width="0.45" stroke-opacity="0.12"/>
<line x1="472.32" y1="211.60" x2="472.32" y2="216.80" stroke="#000" stroke-width="0.45" stroke-opacity="0.37"/>
<line x1="455.59" y1="211.60" x2="455.59" y2="216.80" stroke="#000" stroke-width="0.45" stroke-opacity="0.23"/>
<line x1="434.32" y1="211.60" x2="434.32" y2="216.80" stroke="#000" stroke-width="0.45" stroke-opacity="0.22"/>
<line x1="423.24" y1="211.60" x2="423.24" y2="216.80" stroke="#000" stroke-width="0.45" stroke-opacity="0.12"/>
<line x1="472.77" y1="211.60" x2="472.77" y2="216.80" stroke="#000" stroke-width="0.45" stroke-opacity="0.11"/>
<line x1="467.16" y1="211.60" x2="467.16" y2="216.80" stroke="#000" stroke-width="0.45" stroke-opacity="0.22"/>
<line x1="476.05" y1="211.60" x2="476.05" y2="216.80" stroke="#000" stroke-width="0.45" stroke-opacity="0.41"/>
<line x1="432.82" y1="211.60" x2="432.82" y2="216.80" stroke="#000" stroke-width="0.45" stroke-opacity="0.34"/>
<line x1="455.33" y1="211.60" x2="455.33" y2="216.80" stroke="#000" stroke-width="0.45" stroke-opacity="0.33"/>
<line x1="482.65" y1="211.60" x2="482.65" y2="216.80" stroke="#000" stroke-width="0.45" stroke-opacity="0.31"/>
<line x1="458.79" y1="211.60" x2="458.79" y2="216.80" stroke="#000" stroke-width="0.45" stroke-opacity="0.19"/>
<line x1="484.61" y1="211.60" x2="484.61" y2="216.80" stroke="#000" stroke-width="0.45" stroke-opacity="0.15"/>
<line x1="427.64" y1="211.60" x2="427.64" y2="216.80" stroke="#000" stroke-width="0.45" stroke-opacity="0.29"/>
<line x1="486.77" y1="211.60" x2="486.77" y2="216.80" stroke="#000" stroke-width="0.45" stroke-opacity="0.12"/>
<line x1="419.49" y1="211.60" x2="419.49" y2="216.80" stroke="#000" stroke-width="0.45" stroke-opacity="0.29"/>
<line x1="445.87" y1="211.60" x2="445.87" y2="216.80" stroke="#000" stroke-width="0.45" stroke-opacity="0.26"/>
<line x1="417.11" y1="211.60" x2="417.11" y2="216.80" stroke="#000" stroke-width="0.45" stroke-opacity="0.27"/>
<line x1="474.66" y1="211.60" x2="474.66" y2="216.80" stroke="#000" stroke-width="0.45" stroke-opacity="0.14"/>
<line x1="465.70" y1="211.60" x2="465.70" y2="216.80" stroke="#000" stroke-width="0.45" stroke-opacity="0.12"/>
<line x1="486.68" y1="211.60" x2="486.68" y2="216.80" stroke="#000" stroke-width="0.45" stroke-opacity="0.25"/>
<line x1="474.32" y1="211.60" x2="474.32" y2="216.80" stroke="#000" stroke-width="0.45" stroke-opacity="0.15"/>
<line x1="484.85" y1="211.60" x2="484.85" y2="216.80" stroke="#000" stroke-width="0.45" stroke-opacity="0.31"/>
<line x1="454.83" y1="211.60" x2="454.83" y2="216.80" stroke="#000" stroke-width="0.45" stroke-opacity="0.20"/>
<line x1="487.74" y1="211.60" x2="487.74" y2="216.80" stroke="#000" stroke-width="0.45" stroke-opacity="0.30"/>
<line x1="470.23" y1="211.60" x2="470.23" y2="216.80" stroke="#000" stroke-width="0.45" stroke-opacity="0.34"/>
<line x1="440.74" y1="211.60" x2="440.74" y2="216.80" stroke="#000" stroke-width="0.45" stroke-opacity="0.29"/>
<line x1="486.73" y1="211.60" x2="486.73" y2="216.80" stroke="#000" stroke-width="0.45" stroke-opacity="0.27"/>
<line x1="443.00" y1="211.60" x2="443.00" y2="216.80" stroke="#000" stroke-width="0.45" stroke-opacity="0.16"/>
<line x1="429.55" y1="211.60" x2="429.55" y2="216.80" stroke="#000" stroke-width="0.45" stroke-opacity="0.21"/>
<line x1="420.95" y1="211.60" x2="420.95" y2="216.80" stroke="#000" stroke-width="0.45" stroke-opacity="0.41"/>
<line x1="449.51" y1="211.60" x2="449.51" y2="216.80" stroke="#000" stroke-width="0.45" stroke-opacity="0.19"/>
<line x1="429.79" y1="211.60" x2="429.79" y2="216.80" stroke="#000" stroke-width="0.45" stroke-opacity="0.19"/>
<line x1="483.74" y1="211.60" x2="483.74" y2="216.80" stroke="#000" stroke-width="0.45" stroke-opacity="0.26"/>
<line x1="484.97" y1="211.60" x2="484.97" y2="216.80" stroke="#000" stroke-width="0.45" stroke-opacity="0.27"/>
<line x1="431.21" y1="211.60" x2="431.21" y2="216.80" stroke="#000" stroke-width="0.45" stroke-opacity="0.35"/>
<line x1="422.98" y1="211.60" x2="422.98" y2="216.80" stroke="#000" stroke-width="0.45" stroke-opacity="0.19"/>
<line x1="454.12" y1="211.60" x2="454.12" y2="216.80" stroke="#000" stroke-width="0.45" stroke-opacity="0.41"/>
<line x1="427.82" y1="211.60" x2="427.82" y2="216.80" stroke="#000" stroke-width="0.45" stroke-opacity="0.11"/>
<line x1="455.20" y1="211.60" x2="455.20" y2="216.80" stroke="#000" stroke-width="0.45" stroke-opacity="0.35"/>
<line x1="474.90" y1="211.60" x2="474.90" y2="216.80" stroke="#000" stroke-width="0.45" stroke-opacity="0.28"/>
<line x1="433.92" y1="211.60" x2="433.92" y2="216.80" stroke="#000" stroke-width="0.45" stroke-opacity="0.39"/>
<line x1="446.27" y1="211.60" x2="446.27" y2="216.80" stroke="#000" stroke-width="0.45" stroke-opacity="0.15"/>
<line x1="481.34" y1="211.60" x2="481.34" y2="216.80" stroke="#000" stroke-width="0.45" stroke-opacity="0.32"/>
<line x1="447.95" y1="211.60" x2="447.95" y2="216.80" stroke="#000" stroke-width="0.45" stroke-opacity="0.40"/>
<line x1="440.49" y1="211.60" x2="440.49" y2="216.80" stroke="#000" stroke-width="0.45" stroke-opacity="0.31"/>
<line x1="480.72" y1="211.60" x2="480.72" y2="216.80" stroke="#000" stroke-width="0.45" stroke-opacity="0.14"/>
<line x1="474.97" y1="211.60" x2="474.97" y2="216.80" stroke="#000" stroke-width="0.45" stroke-opacity="0.39"/>
<line x1="480.93" y1="211.60" x2="480.93" y2="216.80" stroke="#000" stroke-width="0.45" stroke-opacity="0.41"/>
<line x1="465.74" y1="211.60" x2="465.74" y2="216.80" stroke="#000" stroke-width="0.45" stroke-opacity="0.14"/>
<line x1="445.60" y1="211.60" x2="445.60" y2="216.80" stroke="#000" stroke-width="0.45" stroke-opacity="0.36"/>
<line x1="466.13" y1="211.60" x2="466.13" y2="216.80" stroke="#000" stroke-width="0.45" stroke-opacity="0.13"/>
<line x1="476.14" y1="211.60" x2="476.14" y2="216.80" stroke="#000" stroke-width="0.45" stroke-opacity="0.13"/>
<line x1="462.21" y1="211.60" x2="462.21" y2="216.80" stroke="#000" stroke-width="0.45" stroke-opacity="0.35"/>
<line x1="432.85" y1="211.60" x2="432.85" y2="216.80" stroke="#000" stroke-width="0.45" stroke-opacity="0.33"/>
<line x1="437.01" y1="211.60" x2="437.01" y2="216.80" stroke="#000" stroke-width="0.45" stroke-opacity="0.41"/>
<line x1="445.38" y1="211.60" x2="445.38" y2="216.80" stroke="#000" stroke-width="0.45" stroke-opacity="0.30"/>
<line x1="471.89" y1="211.60" x2="471.89" y2="216.80" stroke="#000" stroke-width="0.45" stroke-opacity="0.26"/>
<line x1="456.18" y1="211.60" x2="456.18" y2="216.80" stroke="#000" stroke-width="0.45" stroke-opacity="0.19"/>
<line x1="469.68" y1="211.60" x2="469.68" y2="216.80" stroke="#000" stroke-width="0.45" stroke-opacity="0.28"/>
<line x1="481.95" y1="211.60" x2="481.95" y2="216.80" stroke="#000" stroke-width="0.45" stroke-opacity="0.42"/>
<line x1="439.51" y1="211.60" x2="439.51" y2="216.80" stroke="#000" stroke-width="0.45" stroke-opacity="0.31"/>
<line x1="473.56" y1="211.60" x2="473.56" y2="216.80" stroke="#000" stroke-width="0.45" stroke-opacity="0.38"/>
<line x1="457.61" y1="211.60" x2="457.61" y2="216.80" stroke="#000" stroke-width="0.45" stroke-opacity="0.16"/>
<line x1="470.15" y1="211.60" x2="470.15" y2="216.80" stroke="#000" stroke-width="0.45" stroke-opacity="0.34"/>
<line x1="482.30" y1="211.60" x2="482.30" y2="216.80" stroke="#000" stroke-width="0.45" stroke-opacity="0.33"/>
<line x1="451.88" y1="211.60" x2="451.88" y2="216.80" stroke="#000" stroke-width="0.45" stroke-opacity="0.12"/>
<line x1="486.80" y1="211.60" x2="486.80" y2="216.80" stroke="#000" stroke-width="0.45" stroke-opacity="0.36"/>
<line x1="435.92" y1="211.60" x2="435.92" y2="216.80" stroke="#000" stroke-width="0.45" stroke-opacity="0.16"/>
<line x1="470.28" y1="211.60" x2="470.28" y2="216.80" stroke="#000" stroke-width="0.45" stroke-opacity="0.17"/>
<line x1="469.28" y1="211.60" x2="469.28" y2="216.80" stroke="#000" stroke-width="0.45" stroke-opacity="0.12"/>
<line x1="450.89" y1="211.60" x2="450.89" y2="216.80" stroke="#000" stroke-width="0.45" stroke-opacity="0.31"/>
<line x1="470.22" y1="211.60" x2="470.22" y2="216.80" stroke="#000" stroke-width="0.45" stroke-opacity="0.15"/>
<line x1="465.62" y1="211.60" x2="465.62" y2="216.80" stroke="#000" stroke-width="0.45" stroke-opacity="0.41"/>
<line x1="464.48" y1="211.60" x2="464.48" y2="216.80" stroke="#000" stroke-width="0.45" stroke-opacity="0.10"/>
<line x1="477.44" y1="211.60" x2="477.44" y2="216.80" stroke="#000" stroke-width="0.45" stroke-opacity="0.36"/>
<line x1="420.00" y1="211.60" x2="420.00" y2="216.80" stroke="#000" stroke-width="0.45" stroke-opacity="0.34"/>
<line x1="460.36" y1="211.60" x2="460.36" y2="216.80" stroke="#000" stroke-width="0.45" stroke-opacity="0.28"/>
<line x1="480.28" y1="211.60" x2="480.28" y2="216.80" stroke="#000" stroke-width="0.45" stroke-opacity="0.28"/>
<line x1="442.97" y1="211.60" x2="442.97" y2="216.80" stroke="#000" stroke-width="0.45" stroke-opacity="0.36"/>
<line x1="483.57" y1="211.60" x2="483.57" y2="216.80" stroke="#000" stroke-width="0.45" stroke-opacity="0.30"/>
<line x1="448.43" y1="211.60" x2="448.43" y2="216.80" stroke="#000" stroke-width="0.45" stroke-opacity="0.14"/>
<line x1="475.81" y1="211.60" x2="475.81" y2="216.80" stroke="#000" stroke-width="0.45" stroke-opacity="0.35"/>
<line x1="445.86" y1="211.60" x2="445.86" y2="216.80" stroke="#000" stroke-width="0.45" stroke-opacity="0.21"/>
<line x1="464.47" y1="211.60" x2="464.47" y2="216.80" stroke="#000" stroke-width="0.45" stroke-opacity="0.29"/>
<line x1="462.98" y1="211.60" x2="462.98" y2="216.80" stroke="#000" stroke-width="0.45" stroke-opacity="0.26"/>
<line x1="436.34" y1="211.60" x2="436.34" y2="216.80" stroke="#000" stroke-width="0.45" stroke-opacity="0.39"/>
<line x1="476.63" y1="211.60" x2="476.63" y2="216.80" stroke="#000" stroke-width="0.45" stroke-opacity="0.23"/>
<line x1="466.12" y1="211.60" x2="466.12" y2="216.80" stroke="#000" stroke-width="0.45" stroke-opacity="0.37"/>
<line x1="476.16" y1="211.60" x2="476.16" y2="216.80" stroke="#000" stroke-width="0.45" stroke-opacity="0.13"/>
<line x1="469.15" y1="211.60" x2="469.15" y2="216.80" stroke="#000" stroke-width="0.45" stroke-opacity="0.20"/>
<line x1="469.98" y1="211.60" x2="469.98" y2="216.80" stroke="#000" stroke-width="0.45" stroke-opacity="0.31"/>
<line x1="468.50" y1="211.60" x2="468.50" y2="216.80" stroke="#000" stroke-width="0.45" stroke-opacity="0.30"/>
<line x1="455.35" y1="211.60" x2="455.35" y2="216.80" stroke="#000" stroke-width="0.45" stroke-opacity="0.37"/>
<line x1="484.80" y1="211.60" x2="484.80" y2="216.80" stroke="#000" stroke-width="0.45" stroke-opacity="0.17"/>
<line x1="436.92" y1="211.60" x2="436.92" y2="216.80" stroke="#000" stroke-width="0.45" stroke-opacity="0.36"/>
<line x1="483.94" y1="211.60" x2="483.94" y2="216.80" stroke="#000" stroke-width="0.45" stroke-opacity="0.35"/>
<line x1="483.42" y1="211.60" x2="483.42" y2="216.80" stroke="#000" stroke-width="0.45" stroke-opacity="0.15"/>
<line x1="467.05" y1="211.60" x2="467.05" y2="216.80" stroke="#000" stroke-width="0.45" stroke-opacity="0.14"/>
<line x1="479.92" y1="211.60" x2="479.92" y2="216.80" stroke="#000" stroke-width="0.45" stroke-opacity="0.29"/>
<line x1="475.47" y1="211.60" x2="475.47" y2="216.80" stroke="#000" stroke-width="0.45" stroke-opacity="0.41"/>
<line x1="472.34" y1="211.60" x2="472.34" y2="216.80" stroke="#000" stroke-width="0.45" stroke-opacity="0.30"/>
<line x1="454.93" y1="211.60" x2="454.93" y2="216.80" stroke="#000" stroke-width="0.45" stroke-opacity="0.24"/>
<line x1="456.79" y1="211.60" x2="456.79" y2="216.80" stroke="#000" stroke-width="0.45" stroke-opacity="0.26"/>
<line x1="458.67" y1="211.60" x2="458.67" y2="216.80" stroke="#000" stroke-width="0.45" stroke-opacity="0.36"/>
<line x1="455.64" y1="211.60" x2="455.64" y2="216.80" stroke="#000" stroke-width="0.45" stroke-opacity="0.27"/>
<line x1="487.11" y1="211.60" x2="487.11" y2="216.80" stroke="#000" stroke-width="0.45" stroke-opacity="0.27"/>
<line x1="458.16" y1="211.60" x2="458.16" y2="216.80" stroke="#000" stroke-width="0.45" stroke-opacity="0.29"/>
<line x1="460.97" y1="211.60" x2="460.97" y2="216.80" stroke="#000" stroke-width="0.45" stroke-opacity="0.40"/>
<line x1="462.81" y1="211.60" x2="462.81" y2="216.80" stroke="#000" stroke-width="0.45" stroke-opacity="0.36"/>
<line x1="481.54" y1="211.60" x2="481.54" y2="216.80" stroke="#000" stroke-width="0.45" stroke-opacity="0.37"/>
<line x1="466.00" y1="211.60" x2="466.00" y2="216.80" stroke="#000" stroke-width="0.45" stroke-opacity="0.19"/>
<line x1="469.87" y1="211.60" x2="469.87" y2="216.80" stroke="#000" stroke-width="0.45" stroke-opacity="0.29"/>
<line x1="452.40" y1="211.60" x2="452.40" y2="216.80" stroke="#000" stroke-width="0.45" stroke-opacity="0.36"/>
<line x1="454.00" y1="211.60" x2="454.00" y2="216.80" stroke="#000" stroke-width="0.45" stroke-opacity="0.33"/>
<line x1="437.25" y1="211.60" x2="437.25" y2="216.80" stroke="#000" stroke-width="0.45" stroke-opacity="0.40"/>
<line x1="449.52" y1="211.60" x2="449.52" y2="216.80" stroke="#000" stroke-width="0.45" stroke-opacity="0.39"/>
<line x1="453.00" y1="211.60" x2="453.00" y2="216.80" stroke="#000" stroke-width="0.45" stroke-opacity="0.14"/>
<line x1="482.98" y1="211.60" x2="482.98" y2="216.80" stroke="#000" stroke-width="0.45" stroke-opacity="0.26"/>
<line x1="467.29" y1="211.60" x2="467.29" y2="216.80" stroke="#000" stroke-width="0.45" stroke-opacity="0.21"/>
<line x1="439.72" y1="211.60" x2="439.72" y2="216.80" stroke="#000" stroke-width="0.45" stroke-opacity="0.17"/>
<line x1="465.19" y1="211.60" x2="465.19" y2="216.80" stroke="#000" stroke-width="0.45" stroke-opacity="0.26"/>
<line x1="440.86" y1="211.60" x2="440.86" y2="216.80" stroke="#000" stroke-width="0.45" stroke-opacity="0.41"/>
<line x1="470.47" y1="211.60" x2="470.47" y2="216.80" stroke="#000" stroke-width="0.45" stroke-opacity="0.35"/>
<line x1="464.07" y1="211.60" x2="464.07" y2="216.80" stroke="#000" stroke-width="0.45" stroke-opacity="0.13"/>
<line x1="483.22" y1="211.60" x2="483.22" y2="216.80" stroke="#000" stroke-width="0.45" stroke-opacity="0.18"/>
<line x1="452.67" y1="211.60" x2="452.67" y2="216.80" stroke="#000" stroke-width="0.45" stroke-opacity="0.22"/>
<line x1="482.92" y1="211.60" x2="482.92" y2="216.80" stroke="#000" stroke-width="0.45" stroke-opacity="0.38"/>
<line x1="451.82" y1="211.60" x2="451.82" y2="216.80" stroke="#000" stroke-width="0.45" stroke-opacity="0.25"/>
<line x1="487.96" y1="211.60" x2="487.96" y2="216.80" stroke="#000" stroke-width="0.45" stroke-opacity="0.15"/>
<line x1="473.69" y1="211.60" x2="473.69" y2="216.80" stroke="#000" stroke-width="0.45" stroke-opacity="0.28"/>
<line x1="430.52" y1="211.60" x2="430.52" y2="216.80" stroke="#000" stroke-width="0.45" stroke-opacity="0.18"/>
<line x1="481.17" y1="211.60" x2="481.17" y2="216.80" stroke="#000" stroke-width="0.45" stroke-opacity="0.11"/>
<line x1="453.83" y1="211.60" x2="453.83" y2="216.80" stroke="#000" stroke-width="0.45" stroke-opacity="0.29"/>
<line x1="459.46" y1="211.60" x2="459.46" y2="216.80" stroke="#000" stroke-width="0.45" stroke-opacity="0.42"/>
<line x1="443.43" y1="211.60" x2="443.43" y2="216.80" stroke="#000" stroke-width="0.45" stroke-opacity="0.35"/>
<line x1="482.39" y1="211.60" x2="482.39" y2="216.80" stroke="#000" stroke-width="0.45" stroke-opacity="0.34"/>
<line x1="437.41" y1="211.60" x2="437.41" y2="216.80" stroke="#000" stroke-width="0.45" stroke-opacity="0.15"/>
<line x1="478.30" y1="211.60" x2="478.30" y2="216.80" stroke="#000" stroke-width="0.45" stroke-opacity="0.28"/>
<line x1="461.45" y1="211.60" x2="461.45" y2="216.80" stroke="#000" stroke-width="0.45" stroke-opacity="0.30"/>
<line x1="475.74" y1="211.60" x2="475.74" y2="216.80" stroke="#000" stroke-width="0.45" stroke-opacity="0.34"/>
<line x1="455.03" y1="211.60" x2="455.03" y2="216.80" stroke="#000" stroke-width="0.45" stroke-opacity="0.24"/>
<line x1="435.88" y1="211.60" x2="435.88" y2="216.80" stroke="#000" stroke-width="0.45" stroke-opacity="0.12"/>
<line x1="485.43" y1="211.60" x2="485.43" y2="216.80" stroke="#000" stroke-width="0.45" stroke-opacity="0.40"/>
<line x1="474.63" y1="211.60" x2="474.63" y2="216.80" stroke="#000" stroke-width="0.45" stroke-opacity="0.18"/>
<line x1="445.55" y1="211.60" x2="445.55" y2="216.80" stroke="#000" stroke-width="0.45" stroke-opacity="0.34"/>
<line x1="487.72" y1="211.60" x2="487.72" y2="216.80" stroke="#000" stroke-width="0.45" stroke-opacity="0.25"/>
<line x1="485.30" y1="211.60" x2="485.30" y2="216.80" stroke="#000" stroke-width="0.45" stroke-opacity="0.35"/>
<line x1="446.68" y1="211.60" x2="446.68" y2="216.80" stroke="#000" stroke-width="0.45" stroke-opacity="0.21"/>
<line x1="488.53" y1="211.60" x2="488.53" y2="216.80" stroke="#000" stroke-width="0.45" stroke-opacity="0.13"/>
<line x1="486.46" y1="211.60" x2="486.46" y2="216.80" stroke="#000" stroke-width="0.45" stroke-opacity="0.24"/>
<line x1="488.11" y1="211.60" x2="488.11" y2="216.80" stroke="#000" stroke-width="0.45" stroke-opacity="0.25"/>
<line x1="486.04" y1="211.60" x2="486.04" y2="216.80" stroke="#000" stroke-width="0.45" stroke-opacity="0.35"/>
<line x1="486.96" y1="211.60" x2="486.96" y2="216.80" stroke="#000" stroke-width="0.45" stroke-opacity="0.23"/>
<line x1="486.12" y1="211.60" x2="486.12" y2="216.80" stroke="#000" stroke-width="0.45" stroke-opacity="0.31"/>
<line x1="486.61" y1="211.60" x2="486.61" y2="216.80" stroke="#000" stroke-width="0.45" stroke-opacity="0.22"/>
<line x1="485.90" y1="211.60" x2="485.90" y2="216.80" stroke="#000" stroke-width="0.45" stroke-opacity="0.33"/>
<line x1="485.72" y1="211.60" x2="485.72" y2="216.80" stroke="#000" stroke-width="0.45" stroke-opacity="0.16"/>
<line x1="486.49" y1="211.60" x2="486.49" y2="216.80" stroke="#000" stroke-width="0.45" stroke-opacity="0.38"/>
<line x1="486.53" y1="211.60" x2="486.53" y2="216.80" stroke="#000" stroke-width="0.45" stroke-opacity="0.40"/>
<line x1="487.46" y1="211.60" x2="487.46" y2="216.80" stroke="#000" stroke-width="0.45" stroke-opacity="0.11"/>
<polyline points="416.25,213.54 417.11,213.49 417.98,214.24 418.84,214.66 419.71,215.20 420.57,215.35 421.44,216.11 422.30,216.88 423.17,218.36 424.03,218.74 425.07,219.82 426.11,220.52 427.49,219.63 428.36,220.83 429.22,220.90 430.09,222.08 430.95,222.68 431.82,223.37 432.68,223.94 433.55,224.67 434.41,225.47 435.28,226.84 436.14,227.31 437.01,228.23 437.87,229.15 438.74,230.19 439.60,231.15 440.47,231.61 441.33,232.22 442.20,232.98 443.06,233.34 443.93,234.21 444.79,235.19 445.66,235.32 446.52,235.93 447.39,236.53 448.25,237.64 449.12,238.52 449.98,239.05 450.85,239.83 451.71,240.91 452.58,241.42 453.44,242.32 454.31,242.85 455.17,243.97 456.04,244.64 456.90,245.17 457.77,245.82 458.63,247.27 459.50,247.23 460.36,248.01 461.23,248.83 462.09,250.68 462.96,251.70 463.82,252.82 464.69,253.66 465.55,255.15 466.42,256.13 467.28,257.20 468.15,258.55 469.01,258.39 469.88,258.00 470.74,257.63 471.61,258.31 472.47,258.60 473.34,258.87 474.20,257.61 475.07,256.08 475.93,255.06 476.80,253.89 477.66,252.71 478.53,251.27 479.39,250.53 480.26,249.31 481.12,247.82 481.99,247.06 482.85,245.65 483.72,243.25 484.58,241.30 485.45,239.30 486.31,232.90 487.18,223.73 488.04,217.41 488.56,213.65" fill="none" stroke="#9cee7c" stroke-width="0.9" stroke-linejoin="round"/>
<line x1="412.80" y1="211.00" x2="412.80" y2="262.70" stroke="#000" stroke-width="1.2" />
<line x1="412.20" y1="262.10" x2="489.80" y2="262.10" stroke="#000" stroke-width="1.2" />
<line x1="409.40" y1="213.70" x2="412.80" y2="213.70" stroke="#000" stroke-width="1.1" />
<text x="406.30" y="215.90" font-size="6.3" text-anchor="end" fill="#222" stroke="#222" stroke-width="0.18">0</text>
<line x1="409.40" y1="223.20" x2="412.80" y2="223.20" stroke="#000" stroke-width="1.1" />
<text x="406.30" y="225.40" font-size="6.3" text-anchor="end" fill="#222" stroke="#222" stroke-width="0.18">-0.1</text>
<line x1="409.40" y1="232.30" x2="412.80" y2="232.30" stroke="#000" stroke-width="1.1" />
<text x="406.30" y="234.50" font-size="6.3" text-anchor="end" fill="#222" stroke="#222" stroke-width="0.18">-0.2</text>
<line x1="409.40" y1="241.30" x2="412.80" y2="241.30" stroke="#000" stroke-width="1.1" />
<text x="406.30" y="243.50" font-size="6.3" text-anchor="end" fill="#222" stroke="#222" stroke-width="0.18">-0.3</text>
<line x1="409.40" y1="250.30" x2="412.80" y2="250.30" stroke="#000" stroke-width="1.1" />
<text x="406.30" y="252.50" font-size="6.3" text-anchor="end" fill="#222" stroke="#222" stroke-width="0.18">-0.4</text>
<line x1="409.40" y1="259.20" x2="412.80" y2="259.20" stroke="#000" stroke-width="1.1" />
<text x="406.30" y="261.40" font-size="6.3" text-anchor="end" fill="#222" stroke="#222" stroke-width="0.18">-0.5</text>
<line x1="415.90" y1="262.10" x2="415.90" y2="264.90" stroke="#000" stroke-width="1.0" />
<text x="416.20" y="273.70" font-size="6.7" textLength="3.35" lengthAdjust="spacingAndGlyphs" text-anchor="middle" fill="#222" stroke="#222" stroke-width="0.18">0</text>
<line x1="442.70" y1="262.10" x2="442.70" y2="264.90" stroke="#000" stroke-width="1.0" />
<text x="443.50" y="273.70" font-size="6.7" textLength="13.41" lengthAdjust="spacingAndGlyphs" text-anchor="middle" fill="#222" stroke="#222" stroke-width="0.18">5000</text>
<line x1="469.50" y1="262.10" x2="469.50" y2="264.90" stroke="#000" stroke-width="1.0" />
<text x="471.20" y="273.70" font-size="6.7" textLength="16.77" lengthAdjust="spacingAndGlyphs" text-anchor="middle" fill="#222" stroke="#222" stroke-width="0.18">10000</text>
<text x="416.80" y="248.50" font-size="5.3" textLength="16.19" lengthAdjust="spacingAndGlyphs" fill="#222" stroke="#222" stroke-width="0.10">P&lt;0.01</text>
<text x="416.80" y="255.00" font-size="5.3" textLength="25.89" lengthAdjust="spacingAndGlyphs" fill="#222" stroke="#222" stroke-width="0.10">NES : -2.41</text>
<text x="410.00" y="282.30" font-size="6.2" textLength="17.71" lengthAdjust="spacingAndGlyphs" fill="#c0304a" stroke="#c0304a" stroke-width="0.18">LN_FL</text>
<line x1="430.80" y1="280.50" x2="468.70" y2="280.50" stroke="#000" stroke-width="0.8" />
<path d="M471.20 280.50L467.80 278.90L467.80 282.10Z" stroke="none" stroke-width="1" fill="#000" />
<text x="474.00" y="282.30" font-size="6.2" textLength="19.22" lengthAdjust="spacingAndGlyphs" fill="#4466a8" stroke="#4466a8" stroke-width="0.18">BM_FL</text>
<text x="441.60" y="290.70" font-size="8.6" textLength="18.80" lengthAdjust="spacingAndGlyphs" fill="#222" stroke="#222" stroke-width="0.18">t score</text>
<text x="310.40" y="307.30" font-size="7.8" textLength="49.61" lengthAdjust="spacingAndGlyphs" font-weight="bold">GLYCOLYSIS</text>
<line x1="340.10" y1="312.50" x2="340.10" y2="363.00" stroke="#ececec" stroke-width="0.5" />
<line x1="367.60" y1="312.50" x2="367.60" y2="363.00" stroke="#ececec" stroke-width="0.5" />
<line x1="310.30" y1="328.20" x2="386.70" y2="328.20" stroke="#f2f2f2" stroke-width="0.5" />
<line x1="310.30" y1="340.30" x2="386.70" y2="340.30" stroke="#f2f2f2" stroke-width="0.5" />
<line x1="310.30" y1="352.40" x2="386.70" y2="352.40" stroke="#f2f2f2" stroke-width="0.5" />
<line x1="310.30" y1="311.50" x2="386.70" y2="311.50" stroke="#f0a8a8" stroke-width="0.6" />
<line x1="310.30" y1="360.20" x2="386.70" y2="360.20" stroke="#f0a8a8" stroke-width="0.6" />
<line x1="361.88" y1="312.80" x2="361.88" y2="318.90" stroke="#000" stroke-width="0.45" stroke-opacity="0.12"/>
<line x1="320.43" y1="312.80" x2="320.43" y2="318.90" stroke="#000" stroke-width="0.45" stroke-opacity="0.26"/>
<line x1="357.37" y1="312.80" x2="357.37" y2="318.90" stroke="#000" stroke-width="0.45" stroke-opacity="0.24"/>
<line x1="373.10" y1="312.80" x2="373.10" y2="318.90" stroke="#000" stroke-width="0.45" stroke-opacity="0.31"/>
<line x1="372.59" y1="312.80" x2="372.59" y2="318.90" stroke="#000" stroke-width="0.45" stroke-opacity="0.22"/>
<line x1="350.15" y1="312.80" x2="350.15" y2="318.90" stroke="#000" stroke-width="0.45" stroke-opacity="0.15"/>
<line x1="358.30" y1="312.80" x2="358.30" y2="318.90" stroke="#000" stroke-width="0.45" stroke-opacity="0.37"/>
<line x1="339.92" y1="312.80" x2="339.92" y2="318.90" stroke="#000" stroke-width="0.45" stroke-opacity="0.18"/>
<line x1="351.07" y1="312.80" x2="351.07" y2="318.90" stroke="#000" stroke-width="0.45" stroke-opacity="0.17"/>
<line x1="321.57" y1="312.80" x2="321.57" y2="318.90" stroke="#000" stroke-width="0.45" stroke-opacity="0.24"/>
<line x1="361.94" y1="312.80" x2="361.94" y2="318.90" stroke="#000" stroke-width="0.45" stroke-opacity="0.40"/>
<line x1="356.17" y1="312.80" x2="356.17" y2="318.90" stroke="#000" stroke-width="0.45" stroke-opacity="0.32"/>
<line x1="333.79" y1="312.80" x2="333.79" y2="318.90" stroke="#000" stroke-width="0.45" stroke-opacity="0.15"/>
<line x1="340.58" y1="312.80" x2="340.58" y2="318.90" stroke="#000" stroke-width="0.45" stroke-opacity="0.13"/>
<line x1="365.68" y1="312.80" x2="365.68" y2="318.90" stroke="#000" stroke-width="0.45" stroke-opacity="0.26"/>
<line x1="345.16" y1="312.80" x2="345.16" y2="318.90" stroke="#000" stroke-width="0.45" stroke-opacity="0.12"/>
<line x1="381.37" y1="312.80" x2="381.37" y2="318.90" stroke="#000" stroke-width="0.45" stroke-opacity="0.17"/>
<line x1="382.18" y1="312.80" x2="382.18" y2="318.90" stroke="#000" stroke-width="0.45" stroke-opacity="0.14"/>
<line x1="372.85" y1="312.80" x2="372.85" y2="318.90" stroke="#000" stroke-width="0.45" stroke-opacity="0.38"/>
<line x1="320.39" y1="312.80" x2="320.39" y2="318.90" stroke="#000" stroke-width="0.45" stroke-opacity="0.38"/>
<line x1="319.28" y1="312.80" x2="319.28" y2="318.90" stroke="#000" stroke-width="0.45" stroke-opacity="0.38"/>
<line x1="334.26" y1="312.80" x2="334.26" y2="318.90" stroke="#000" stroke-width="0.45" stroke-opacity="0.31"/>
<line x1="339.35" y1="312.80" x2="339.35" y2="318.90" stroke="#000" stroke-width="0.45" stroke-opacity="0.11"/>
<line x1="363.49" y1="312.80" x2="363.49" y2="318.90" stroke="#000" stroke-width="0.45" stroke-opacity="0.19"/>
<line x1="372.05" y1="312.80" x2="372.05" y2="318.90" stroke="#000" stroke-width="0.45" stroke-opacity="0.36"/>
<line x1="353.50" y1="312.80" x2="353.50" y2="318.90" stroke="#000" stroke-width="0.45" stroke-opacity="0.11"/>
<line x1="358.87" y1="312.80" x2="358.87" y2="318.90" stroke="#000" stroke-width="0.45" stroke-opacity="0.26"/>
<line x1="354.23" y1="312.80" x2="354.23" y2="318.90" stroke="#000" stroke-width="0.45" stroke-opacity="0.35"/>
<line x1="316.39" y1="312.80" x2="316.39" y2="318.90" stroke="#000" stroke-width="0.45" stroke-opacity="0.18"/>
<line x1="350.97" y1="312.80" x2="350.97" y2="318.90" stroke="#000" stroke-width="0.45" stroke-opacity="0.21"/>
<line x1="328.97" y1="312.80" x2="328.97" y2="318.90" stroke="#000" stroke-width="0.45" stroke-opacity="0.30"/>
<line x1="343.27" y1="312.80" x2="343.27" y2="318.90" stroke="#000" stroke-width="0.45" stroke-opacity="0.31"/>
<line x1="314.62" y1="312.80" x2="314.62" y2="318.90" stroke="#000" stroke-width="0.45" stroke-opacity="0.15"/>
<line x1="360.04" y1="312.80" x2="360.04" y2="318.90" stroke="#000" stroke-width="0.45" stroke-opacity="0.35"/>
<line x1="377.90" y1="312.80" x2="377.90" y2="318.90" stroke="#000" stroke-width="0.45" stroke-opacity="0.13"/>
<line x1="318.82" y1="312.80" x2="318.82" y2="318.90" stroke="#000" stroke-width="0.45" stroke-opacity="0.15"/>
<line x1="354.72" y1="312.80" x2="354.72" y2="318.90" stroke="#000" stroke-width="0.45" stroke-opacity="0.20"/>
<line x1="315.65" y1="312.80" x2="315.65" y2="318.90" stroke="#000" stroke-width="0.45" stroke-opacity="0.16"/>
<line x1="338.70" y1="312.80" x2="338.70" y2="318.90" stroke="#000" stroke-width="0.45" stroke-opacity="0.25"/>
<line x1="325.18" y1="312.80" x2="325.18" y2="318.90" stroke="#000" stroke-width="0.45" stroke-opacity="0.21"/>
<line x1="374.41" y1="312.80" x2="374.41" y2="318.90" stroke="#000" stroke-width="0.45" stroke-opacity="0.33"/>
<line x1="365.11" y1="312.80" x2="365.11" y2="318.90" stroke="#000" stroke-width="0.45" stroke-opacity="0.36"/>
<line x1="376.94" y1="312.80" x2="376.94" y2="318.90" stroke="#000" stroke-width="0.45" stroke-opacity="0.35"/>
<line x1="329.30" y1="312.80" x2="329.30" y2="318.90" stroke="#000" stroke-width="0.45" stroke-opacity="0.37"/>
<line x1="364.47" y1="312.80" x2="364.47" y2="318.90" stroke="#000" stroke-width="0.45" stroke-opacity="0.18"/>
<line x1="363.10" y1="312.80" x2="363.10" y2="318.90" stroke="#000" stroke-width="0.45" stroke-opacity="0.31"/>
<line x1="349.85" y1="312.80" x2="349.85" y2="318.90" stroke="#000" stroke-width="0.45" stroke-opacity="0.35"/>
<line x1="378.32" y1="312.80" x2="378.32" y2="318.90" stroke="#000" stroke-width="0.45" stroke-opacity="0.37"/>
<line x1="357.87" y1="312.80" x2="357.87" y2="318.90" stroke="#000" stroke-width="0.45" stroke-opacity="0.23"/>
<line x1="333.85" y1="312.80" x2="333.85" y2="318.90" stroke="#000" stroke-width="0.45" stroke-opacity="0.39"/>
<line x1="364.34" y1="312.80" x2="364.34" y2="318.90" stroke="#000" stroke-width="0.45" stroke-opacity="0.21"/>
<line x1="347.78" y1="312.80" x2="347.78" y2="318.90" stroke="#000" stroke-width="0.45" stroke-opacity="0.38"/>
<line x1="328.95" y1="312.80" x2="328.95" y2="318.90" stroke="#000" stroke-width="0.45" stroke-opacity="0.31"/>
<line x1="357.37" y1="312.80" x2="357.37" y2="318.90" stroke="#000" stroke-width="0.45" stroke-opacity="0.12"/>
<line x1="317.39" y1="312.80" x2="317.39" y2="318.90" stroke="#000" stroke-width="0.45" stroke-opacity="0.39"/>
<line x1="345.52" y1="312.80" x2="345.52" y2="318.90" stroke="#000" stroke-width="0.45" stroke-opacity="0.35"/>
<line x1="353.08" y1="312.80" x2="353.08" y2="318.90" stroke="#000" stroke-width="0.45" stroke-opacity="0.27"/>
<line x1="314.18" y1="312.80" x2="314.18" y2="318.90" stroke="#000" stroke-width="0.45" stroke-opacity="0.41"/>
<line x1="359.53" y1="312.80" x2="359.53" y2="318.90" stroke="#000" stroke-width="0.45" stroke-opacity="0.38"/>
<line x1="320.19" y1="312.80" x2="320.19" y2="318.90" stroke="#000" stroke-width="0.45" stroke-opacity="0.36"/>
<line x1="359.61" y1="312.80" x2="359.61" y2="318.90" stroke="#000" stroke-width="0.45" stroke-opacity="0.34"/>
<line x1="337.95" y1="312.80" x2="337.95" y2="318.90" stroke="#000" stroke-width="0.45" stroke-opacity="0.33"/>
<line x1="316.07" y1="312.80" x2="316.07" y2="318.90" stroke="#000" stroke-width="0.45" stroke-opacity="0.14"/>
<line x1="384.15" y1="312.80" x2="384.15" y2="318.90" stroke="#000" stroke-width="0.45" stroke-opacity="0.29"/>
<line x1="318.50" y1="312.80" x2="318.50" y2="318.90" stroke="#000" stroke-width="0.45" stroke-opacity="0.10"/>
<line x1="324.97" y1="312.80" x2="324.97" y2="318.90" stroke="#000" stroke-width="0.45" stroke-opacity="0.26"/>
<line x1="349.50" y1="312.80" x2="349.50" y2="318.90" stroke="#000" stroke-width="0.45" stroke-opacity="0.16"/>
<line x1="331.21" y1="312.80" x2="331.21" y2="318.90" stroke="#000" stroke-width="0.45" stroke-opacity="0.32"/>
<line x1="351.24" y1="312.80" x2="351.24" y2="318.90" stroke="#000" stroke-width="0.45" stroke-opacity="0.39"/>
<line x1="347.28" y1="312.80" x2="347.28" y2="318.90" stroke="#000" stroke-width="0.45" stroke-opacity="0.17"/>
<line x1="354.47" y1="312.80" x2="354.47" y2="318.90" stroke="#000" stroke-width="0.45" stroke-opacity="0.28"/>
<line x1="352.16" y1="312.80" x2="352.16" y2="318.90" stroke="#000" stroke-width="0.45" stroke-opacity="0.19"/>
<line x1="334.65" y1="312.80" x2="334.65" y2="318.90" stroke="#000" stroke-width="0.45" stroke-opacity="0.41"/>
<line x1="328.84" y1="312.80" x2="328.84" y2="318.90" stroke="#000" stroke-width="0.45" stroke-opacity="0.26"/>
<line x1="362.76" y1="312.80" x2="362.76" y2="318.90" stroke="#000" stroke-width="0.45" stroke-opacity="0.16"/>
<line x1="344.11" y1="312.80" x2="344.11" y2="318.90" stroke="#000" stroke-width="0.45" stroke-opacity="0.31"/>
<line x1="350.54" y1="312.80" x2="350.54" y2="318.90" stroke="#000" stroke-width="0.45" stroke-opacity="0.25"/>
<line x1="378.30" y1="312.80" x2="378.30" y2="318.90" stroke="#000" stroke-width="0.45" stroke-opacity="0.27"/>
<line x1="314.60" y1="312.80" x2="314.60" y2="318.90" stroke="#000" stroke-width="0.45" stroke-opacity="0.24"/>
<line x1="333.47" y1="312.80" x2="333.47" y2="318.90" stroke="#000" stroke-width="0.45" stroke-opacity="0.15"/>
<line x1="353.55" y1="312.80" x2="353.55" y2="318.90" stroke="#000" stroke-width="0.45" stroke-opacity="0.14"/>
<line x1="317.79" y1="312.80" x2="317.79" y2="318.90" stroke="#000" stroke-width="0.45" stroke-opacity="0.29"/>
<line x1="366.93" y1="312.80" x2="366.93" y2="318.90" stroke="#000" stroke-width="0.45" stroke-opacity="0.14"/>
<line x1="342.17" y1="312.80" x2="342.17" y2="318.90" stroke="#000" stroke-width="0.45" stroke-opacity="0.22"/>
<line x1="336.21" y1="312.80" x2="336.21" y2="318.90" stroke="#000" stroke-width="0.45" stroke-opacity="0.28"/>
<line x1="327.65" y1="312.80" x2="327.65" y2="318.90" stroke="#000" stroke-width="0.45" stroke-opacity="0.35"/>
<line x1="381.87" y1="312.80" x2="381.87" y2="318.90" stroke="#000" stroke-width="0.45" stroke-opacity="0.15"/>
<line x1="317.27" y1="312.80" x2="317.27" y2="318.90" stroke="#000" stroke-width="0.45" stroke-opacity="0.22"/>
<line x1="371.67" y1="312.80" x2="371.67" y2="318.90" stroke="#000" stroke-width="0.45" stroke-opacity="0.14"/>
<line x1="363.46" y1="312.80" x2="363.46" y2="318.90" stroke="#000" stroke-width="0.45" stroke-opacity="0.18"/>
<line x1="377.00" y1="312.80" x2="377.00" y2="318.90" stroke="#000" stroke-width="0.45" stroke-opacity="0.41"/>
<line x1="363.23" y1="312.80" x2="363.23" y2="318.90" stroke="#000" stroke-width="0.45" stroke-opacity="0.33"/>
<line x1="338.36" y1="312.80" x2="338.36" y2="318.90" stroke="#000" stroke-width="0.45" stroke-opacity="0.12"/>
<line x1="352.61" y1="312.80" x2="352.61" y2="318.90" stroke="#000" stroke-width="0.45" stroke-opacity="0.41"/>
<line x1="378.70" y1="312.80" x2="378.70" y2="318.90" stroke="#000" stroke-width="0.45" stroke-opacity="0.21"/>
<line x1="316.87" y1="312.80" x2="316.87" y2="318.90" stroke="#000" stroke-width="0.45" stroke-opacity="0.28"/>
<line x1="373.67" y1="312.80" x2="373.67" y2="318.90" stroke="#000" stroke-width="0.45" stroke-opacity="0.35"/>
<line x1="361.27" y1="312.80" x2="361.27" y2="318.90" stroke="#000" stroke-width="0.45" stroke-opacity="0.17"/>
<line x1="327.82" y1="312.80" x2="327.82" y2="318.90" stroke="#000" stroke-width="0.45" stroke-opacity="0.19"/>
<line x1="381.87" y1="312.80" x2="381.87" y2="318.90" stroke="#000" stroke-width="0.45" stroke-opacity="0.20"/>
<line x1="335.03" y1="312.80" x2="335.03" y2="318.90" stroke="#000" stroke-width="0.45" stroke-opacity="0.29"/>
<line x1="314.32" y1="312.80" x2="314.32" y2="318.90" stroke="#000" stroke-width="0.45" stroke-opacity="0.41"/>
<line x1="332.78" y1="312.80" x2="332.78" y2="318.90" stroke="#000" stroke-width="0.45" stroke-opacity="0.15"/>
<line x1="350.16" y1="312.80" x2="350.16" y2="318.90" stroke="#000" stroke-width="0.45" stroke-opacity="0.41"/>
<line x1="315.95" y1="312.80" x2="315.95" y2="318.90" stroke="#000" stroke-width="0.45" stroke-opacity="0.28"/>
<line x1="355.54" y1="312.80" x2="355.54" y2="318.90" stroke="#000" stroke-width="0.45" stroke-opacity="0.25"/>
<line x1="345.21" y1="312.80" x2="345.21" y2="318.90" stroke="#000" stroke-width="0.45" stroke-opacity="0.12"/>
<line x1="337.36" y1="312.80" x2="337.36" y2="318.90" stroke="#000" stroke-width="0.45" stroke-opacity="0.33"/>
<line x1="367.05" y1="312.80" x2="367.05" y2="318.90" stroke="#000" stroke-width="0.45" stroke-opacity="0.12"/>
<line x1="357.41" y1="312.80" x2="357.41" y2="318.90" stroke="#000" stroke-width="0.45" stroke-opacity="0.37"/>
<line x1="382.73" y1="312.80" x2="382.73" y2="318.90" stroke="#000" stroke-width="0.45" stroke-opacity="0.19"/>
<line x1="378.56" y1="312.80" x2="378.56" y2="318.90" stroke="#000" stroke-width="0.45" stroke-opacity="0.36"/>
<line x1="378.13" y1="312.80" x2="378.13" y2="318.90" stroke="#000" stroke-width="0.45" stroke-opacity="0.34"/>
<line x1="381.34" y1="312.80" x2="381.34" y2="318.90" stroke="#000" stroke-width="0.45" stroke-opacity="0.22"/>
<line x1="377.68" y1="312.80" x2="377.68" y2="318.90" stroke="#000" stroke-width="0.45" stroke-opacity="0.19"/>
<line x1="359.57" y1="312.80" x2="359.57" y2="318.90" stroke="#000" stroke-width="0.45" stroke-opacity="0.28"/>
<line x1="328.04" y1="312.80" x2="328.04" y2="318.90" stroke="#000" stroke-width="0.45" stroke-opacity="0.25"/>
<line x1="357.31" y1="312.80" x2="357.31" y2="318.90" stroke="#000" stroke-width="0.45" stroke-opacity="0.23"/>
<line x1="366.67" y1="312.80" x2="366.67" y2="318.90" stroke="#000" stroke-width="0.45" stroke-opacity="0.42"/>
<line x1="382.90" y1="312.80" x2="382.90" y2="318.90" stroke="#000" stroke-width="0.45" stroke-opacity="0.21"/>
<line x1="368.41" y1="312.80" x2="368.41" y2="318.90" stroke="#000" stroke-width="0.45" stroke-opacity="0.21"/>
<line x1="364.33" y1="312.80" x2="364.33" y2="318.90" stroke="#000" stroke-width="0.45" stroke-opacity="0.34"/>
<line x1="330.14" y1="312.80" x2="330.14" y2="318.90" stroke="#000" stroke-width="0.45" stroke-opacity="0.24"/>
<line x1="368.23" y1="312.80" x2="368.23" y2="318.90" stroke="#000" stroke-width="0.45" stroke-opacity="0.18"/>
<line x1="323.71" y1="312.80" x2="323.71" y2="318.90" stroke="#000" stroke-width="0.45" stroke-opacity="0.23"/>
<line x1="335.90" y1="312.80" x2="335.90" y2="318.90" stroke="#000" stroke-width="0.45" stroke-opacity="0.14"/>
<line x1="324.66" y1="312.80" x2="324.66" y2="318.90" stroke="#000" stroke-width="0.45" stroke-opacity="0.15"/>
<line x1="372.25" y1="312.80" x2="372.25" y2="318.90" stroke="#000" stroke-width="0.45" stroke-opacity="0.36"/>
<line x1="381.70" y1="312.80" x2="381.70" y2="318.90" stroke="#000" stroke-width="0.45" stroke-opacity="0.25"/>
<line x1="365.37" y1="312.80" x2="365.37" y2="318.90" stroke="#000" stroke-width="0.45" stroke-opacity="0.24"/>
<line x1="330.27" y1="312.80" x2="330.27" y2="318.90" stroke="#000" stroke-width="0.45" stroke-opacity="0.25"/>
<line x1="372.55" y1="312.80" x2="372.55" y2="318.90" stroke="#000" stroke-width="0.45" stroke-opacity="0.16"/>
<line x1="338.62" y1="312.80" x2="338.62" y2="318.90" stroke="#000" stroke-width="0.45" stroke-opacity="0.14"/>
<line x1="371.13" y1="312.80" x2="371.13" y2="318.90" stroke="#000" stroke-width="0.45" stroke-opacity="0.10"/>
<line x1="369.52" y1="312.80" x2="369.52" y2="318.90" stroke="#000" stroke-width="0.45" stroke-opacity="0.29"/>
<line x1="381.85" y1="312.80" x2="381.85" y2="318.90" stroke="#000" stroke-width="0.45" stroke-opacity="0.20"/>
<line x1="337.85" y1="312.80" x2="337.85" y2="318.90" stroke="#000" stroke-width="0.45" stroke-opacity="0.32"/>
<line x1="343.31" y1="312.80" x2="343.31" y2="318.90" stroke="#000" stroke-width="0.45" stroke-opacity="0.20"/>
<line x1="349.38" y1="312.80" x2="349.38" y2="318.90" stroke="#000" stroke-width="0.45" stroke-opacity="0.35"/>
<line x1="329.02" y1="312.80" x2="329.02" y2="318.90" stroke="#000" stroke-width="0.45" stroke-opacity="0.40"/>
<line x1="381.87" y1="312.80" x2="381.87" y2="318.90" stroke="#000" stroke-width="0.45" stroke-opacity="0.22"/>
<line x1="366.83" y1="312.80" x2="366.83" y2="318.90" stroke="#000" stroke-width="0.45" stroke-opacity="0.30"/>
<line x1="332.29" y1="312.80" x2="332.29" y2="318.90" stroke="#000" stroke-width="0.45" stroke-opacity="0.15"/>
<line x1="359.08" y1="312.80" x2="359.08" y2="318.90" stroke="#000" stroke-width="0.45" stroke-opacity="0.29"/>
<line x1="331.50" y1="312.80" x2="331.50" y2="318.90" stroke="#000" stroke-width="0.45" stroke-opacity="0.19"/>
<line x1="382.66" y1="312.80" x2="382.66" y2="318.90" stroke="#000" stroke-width="0.45" stroke-opacity="0.24"/>
<line x1="352.00" y1="312.80" x2="352.00" y2="318.90" stroke="#000" stroke-width="0.45" stroke-opacity="0.36"/>
<line x1="315.95" y1="312.80" x2="315.95" y2="318.90" stroke="#000" stroke-width="0.45" stroke-opacity="0.38"/>
<line x1="372.61" y1="312.80" x2="372.61" y2="318.90" stroke="#000" stroke-width="0.45" stroke-opacity="0.23"/>
<line x1="350.13" y1="312.80" x2="350.13" y2="318.90" stroke="#000" stroke-width="0.45" stroke-opacity="0.32"/>
<line x1="368.19" y1="312.80" x2="368.19" y2="318.90" stroke="#000" stroke-width="0.45" stroke-opacity="0.28"/>
<line x1="374.59" y1="312.80" x2="374.59" y2="318.90" stroke="#000" stroke-width="0.45" stroke-opacity="0.22"/>
<line x1="328.82" y1="312.80" x2="328.82" y2="318.90" stroke="#000" stroke-width="0.45" stroke-opacity="0.13"/>
<line x1="362.85" y1="312.80" x2="362.85" y2="318.90" stroke="#000" stroke-width="0.45" stroke-opacity="0.12"/>
<line x1="382.08" y1="312.80" x2="382.08" y2="318.90" stroke="#000" stroke-width="0.45" stroke-opacity="0.15"/>
<line x1="342.87" y1="312.80" x2="342.87" y2="318.90" stroke="#000" stroke-width="0.45" stroke-opacity="0.23"/>
<line x1="344.51" y1="312.80" x2="344.51" y2="318.90" stroke="#000" stroke-width="0.45" stroke-opacity="0.19"/>
<line x1="369.40" y1="312.80" x2="369.40" y2="318.90" stroke="#000" stroke-width="0.45" stroke-opacity="0.16"/>
<line x1="326.69" y1="312.80" x2="326.69" y2="318.90" stroke="#000" stroke-width="0.45" stroke-opacity="0.19"/>
<line x1="376.31" y1="312.80" x2="376.31" y2="318.90" stroke="#000" stroke-width="0.45" stroke-opacity="0.21"/>
<line x1="375.50" y1="312.80" x2="375.50" y2="318.90" stroke="#000" stroke-width="0.45" stroke-opacity="0.34"/>
<line x1="381.92" y1="312.80" x2="381.92" y2="318.90" stroke="#000" stroke-width="0.45" stroke-opacity="0.36"/>
<line x1="376.92" y1="312.80" x2="376.92" y2="318.90" stroke="#000" stroke-width="0.45" stroke-opacity="0.35"/>
<line x1="364.65" y1="312.80" x2="364.65" y2="318.90" stroke="#000" stroke-width="0.45" stroke-opacity="0.28"/>
<line x1="358.06" y1="312.80" x2="358.06" y2="318.90" stroke="#000" stroke-width="0.45" stroke-opacity="0.11"/>
<line x1="362.29" y1="312.80" x2="362.29" y2="318.90" stroke="#000" stroke-width="0.45" stroke-opacity="0.36"/>
<line x1="367.51" y1="312.80" x2="367.51" y2="318.90" stroke="#000" stroke-width="0.45" stroke-opacity="0.35"/>
<line x1="383.21" y1="312.80" x2="383.21" y2="318.90" stroke="#000" stroke-width="0.45" stroke-opacity="0.14"/>
<line x1="336.70" y1="312.80" x2="336.70" y2="318.90" stroke="#000" stroke-width="0.45" stroke-opacity="0.18"/>
<line x1="360.01" y1="312.80" x2="360.01" y2="318.90" stroke="#000" stroke-width="0.45" stroke-opacity="0.25"/>
<line x1="357.47" y1="312.80" x2="357.47" y2="318.90" stroke="#000" stroke-width="0.45" stroke-opacity="0.17"/>
<line x1="344.23" y1="312.80" x2="344.23" y2="318.90" stroke="#000" stroke-width="0.45" stroke-opacity="0.42"/>
<line x1="337.72" y1="312.80" x2="337.72" y2="318.90" stroke="#000" stroke-width="0.45" stroke-opacity="0.30"/>
<line x1="374.64" y1="312.80" x2="374.64" y2="318.90" stroke="#000" stroke-width="0.45" stroke-opacity="0.28"/>
<line x1="364.89" y1="312.80" x2="364.89" y2="318.90" stroke="#000" stroke-width="0.45" stroke-opacity="0.18"/>
<line x1="370.15" y1="312.80" x2="370.15" y2="318.90" stroke="#000" stroke-width="0.45" stroke-opacity="0.23"/>
<line x1="345.08" y1="312.80" x2="345.08" y2="318.90" stroke="#000" stroke-width="0.45" stroke-opacity="0.28"/>
<line x1="359.17" y1="312.80" x2="359.17" y2="318.90" stroke="#000" stroke-width="0.45" stroke-opacity="0.35"/>
<line x1="337.30" y1="312.80" x2="337.30" y2="318.90" stroke="#000" stroke-width="0.45" stroke-opacity="0.21"/>
<line x1="336.66" y1="312.80" x2="336.66" y2="318.90" stroke="#000" stroke-width="0.45" stroke-opacity="0.24"/>
<line x1="335.10" y1="312.80" x2="335.10" y2="318.90" stroke="#000" stroke-width="0.45" stroke-opacity="0.21"/>
<line x1="368.15" y1="312.80" x2="368.15" y2="318.90" stroke="#000" stroke-width="0.45" stroke-opacity="0.26"/>
<line x1="377.57" y1="312.80" x2="377.57" y2="318.90" stroke="#000" stroke-width="0.45" stroke-opacity="0.20"/>
<line x1="364.17" y1="312.80" x2="364.17" y2="318.90" stroke="#000" stroke-width="0.45" stroke-opacity="0.18"/>
<line x1="374.48" y1="312.80" x2="374.48" y2="318.90" stroke="#000" stroke-width="0.45" stroke-opacity="0.28"/>
<line x1="329.27" y1="312.80" x2="329.27" y2="318.90" stroke="#000" stroke-width="0.45" stroke-opacity="0.39"/>
<line x1="361.32" y1="312.80" x2="361.32" y2="318.90" stroke="#000" stroke-width="0.45" stroke-opacity="0.40"/>
<line x1="335.54" y1="312.80" x2="335.54" y2="318.90" stroke="#000" stroke-width="0.45" stroke-opacity="0.40"/>
<line x1="361.68" y1="312.80" x2="361.68" y2="318.90" stroke="#000" stroke-width="0.45" stroke-opacity="0.21"/>
<line x1="344.48" y1="312.80" x2="344.48" y2="318.90" stroke="#000" stroke-width="0.45" stroke-opacity="0.40"/>
<line x1="344.83" y1="312.80" x2="344.83" y2="318.90" stroke="#000" stroke-width="0.45" stroke-opacity="0.14"/>
<line x1="380.72" y1="312.80" x2="380.72" y2="318.90" stroke="#000" stroke-width="0.45" stroke-opacity="0.18"/>
<line x1="362.96" y1="312.80" x2="362.96" y2="318.90" stroke="#000" stroke-width="0.45" stroke-opacity="0.17"/>
<line x1="344.06" y1="312.80" x2="344.06" y2="318.90" stroke="#000" stroke-width="0.45" stroke-opacity="0.30"/>
<line x1="359.77" y1="312.80" x2="359.77" y2="318.90" stroke="#000" stroke-width="0.45" stroke-opacity="0.18"/>
<line x1="347.01" y1="312.80" x2="347.01" y2="318.90" stroke="#000" stroke-width="0.45" stroke-opacity="0.19"/>
<line x1="375.17" y1="312.80" x2="375.17" y2="318.90" stroke="#000" stroke-width="0.45" stroke-opacity="0.14"/>
<line x1="354.36" y1="312.80" x2="354.36" y2="318.90" stroke="#000" stroke-width="0.45" stroke-opacity="0.32"/>
<line x1="377.33" y1="312.80" x2="377.33" y2="318.90" stroke="#000" stroke-width="0.45" stroke-opacity="0.30"/>
<line x1="365.38" y1="312.80" x2="365.38" y2="318.90" stroke="#000" stroke-width="0.45" stroke-opacity="0.25"/>
<line x1="381.92" y1="312.80" x2="381.92" y2="318.90" stroke="#000" stroke-width="0.45" stroke-opacity="0.30"/>
<line x1="382.07" y1="312.80" x2="382.07" y2="318.90" stroke="#000" stroke-width="0.45" stroke-opacity="0.38"/>
<line x1="382.15" y1="312.80" x2="382.15" y2="318.90" stroke="#000" stroke-width="0.45" stroke-opacity="0.41"/>
<line x1="383.98" y1="312.80" x2="383.98" y2="318.90" stroke="#000" stroke-width="0.45" stroke-opacity="0.17"/>
<line x1="381.43" y1="312.80" x2="381.43" y2="318.90" stroke="#000" stroke-width="0.45" stroke-opacity="0.37"/>
<line x1="382.05" y1="312.80" x2="382.05" y2="318.90" stroke="#000" stroke-width="0.45" stroke-opacity="0.30"/>
<line x1="383.42" y1="312.80" x2="383.42" y2="318.90" stroke="#000" stroke-width="0.45" stroke-opacity="0.33"/>
<line x1="382.46" y1="312.80" x2="382.46" y2="318.90" stroke="#000" stroke-width="0.45" stroke-opacity="0.15"/>
<line x1="380.87" y1="312.80" x2="380.87" y2="318.90" stroke="#000" stroke-width="0.45" stroke-opacity="0.41"/>
<line x1="381.91" y1="312.80" x2="381.91" y2="318.90" stroke="#000" stroke-width="0.45" stroke-opacity="0.22"/>
<line x1="382.27" y1="312.80" x2="382.27" y2="318.90" stroke="#000" stroke-width="0.45" stroke-opacity="0.13"/>
<line x1="382.34" y1="312.80" x2="382.34" y2="318.90" stroke="#000" stroke-width="0.45" stroke-opacity="0.27"/>
<polyline points="313.99,314.97 314.80,314.79 315.62,313.55 316.44,312.87 317.25,313.17 318.07,312.35 318.89,312.17 319.71,312.27 320.52,311.46 321.34,311.54 322.16,311.58 322.97,311.89 323.79,312.22 324.61,313.39 325.42,313.69 326.24,315.06 327.06,315.94 327.88,316.35 328.69,317.15 329.51,318.21 330.33,319.83 331.14,320.44 331.96,321.99 332.78,322.58 333.59,323.44 334.41,324.50 335.23,325.36 336.05,325.97 336.86,325.90 337.68,326.91 338.50,327.64 339.31,328.92 340.13,329.73 340.95,330.56 341.76,330.72 342.58,332.38 343.40,332.44 344.22,334.03 345.03,335.30 345.85,336.88 346.67,338.07 347.48,339.06 348.30,340.08 349.12,341.17 349.93,342.74 350.75,343.80 351.57,345.01 352.39,345.65 353.20,347.04 354.02,347.74 354.84,349.11 355.65,350.12 356.47,351.59 357.29,352.62 358.10,353.18 358.92,353.83 359.74,354.41 360.56,355.79 361.37,356.60 362.19,356.99 363.01,358.36 363.82,358.26 364.64,358.76 365.46,359.34 366.27,359.44 367.09,359.74 367.91,359.79 368.73,359.64 369.54,358.93 370.36,358.60 371.18,357.02 371.99,356.50 372.81,355.11 373.63,353.66 374.44,352.22 375.26,350.75 376.08,349.57 376.90,348.54 377.71,346.28 378.53,344.66 379.35,341.75 380.16,339.31 380.98,336.76 381.80,334.61 383.10,327.77 384.25,319.60 384.74,316.44" fill="none" stroke="#9cee7c" stroke-width="0.9" stroke-linejoin="round"/>
<line x1="310.30" y1="312.50" x2="310.30" y2="363.60" stroke="#000" stroke-width="1.2" />
<line x1="309.70" y1="363.00" x2="386.70" y2="363.00" stroke="#000" stroke-width="1.2" />
<line x1="306.90" y1="316.10" x2="310.30" y2="316.10" stroke="#000" stroke-width="1.1" />
<text x="303.80" y="318.30" font-size="6.3" text-anchor="end" fill="#222" stroke="#222" stroke-width="0.18">0</text>
<line x1="306.90" y1="328.20" x2="310.30" y2="328.20" stroke="#000" stroke-width="1.1" />
<text x="303.80" y="330.40" font-size="6.3" text-anchor="end" fill="#222" stroke="#222" stroke-width="0.18">-0.1</text>
<line x1="306.90" y1="340.30" x2="310.30" y2="340.30" stroke="#000" stroke-width="1.1" />
<text x="303.80" y="342.50" font-size="6.3" text-anchor="end" fill="#222" stroke="#222" stroke-width="0.18">-0.2</text>
<line x1="306.90" y1="352.40" x2="310.30" y2="352.40" stroke="#000" stroke-width="1.1" />
<text x="303.80" y="354.60" font-size="6.3" text-anchor="end" fill="#222" stroke="#222" stroke-width="0.18">-0.3</text>
<line x1="314.00" y1="363.00" x2="314.00" y2="365.80" stroke="#000" stroke-width="1.0" />
<text x="313.70" y="375.20" font-size="6.7" textLength="3.35" lengthAdjust="spacingAndGlyphs" text-anchor="middle" fill="#222" stroke="#222" stroke-width="0.18">0</text>
<line x1="340.10" y1="363.00" x2="340.10" y2="365.80" stroke="#000" stroke-width="1.0" />
<text x="341.10" y="375.20" font-size="6.7" textLength="13.41" lengthAdjust="spacingAndGlyphs" text-anchor="middle" fill="#222" stroke="#222" stroke-width="0.18">5000</text>
<line x1="367.60" y1="363.00" x2="367.60" y2="365.80" stroke="#000" stroke-width="1.0" />
<text x="367.90" y="375.20" font-size="6.7" textLength="16.77" lengthAdjust="spacingAndGlyphs" text-anchor="middle" fill="#222" stroke="#222" stroke-width="0.18">10000</text>
<text x="314.30" y="347.60" font-size="5.3" textLength="16.19" lengthAdjust="spacingAndGlyphs" fill="#222" stroke="#222" stroke-width="0.10">P&lt;0.01</text>
<text x="314.30" y="354.10" font-size="5.3" textLength="25.89" lengthAdjust="spacingAndGlyphs" fill="#222" stroke="#222" stroke-width="0.10">NES : -1.71</text>
<text x="307.70" y="384.90" font-size="6.2" textLength="17.71" lengthAdjust="spacingAndGlyphs" fill="#c0304a" stroke="#c0304a" stroke-width="0.18">LN_FL</text>
<line x1="328.30" y1="383.00" x2="365.50" y2="383.00" stroke="#000" stroke-width="0.8" />
<path d="M368.00 383.00L364.60 381.40L364.60 384.60Z" stroke="none" stroke-width="1" fill="#000" />
<text x="371.70" y="384.90" font-size="6.2" textLength="19.22" lengthAdjust="spacingAndGlyphs" fill="#4466a8" stroke="#4466a8" stroke-width="0.18">BM_FL</text>
<text x="338.80" y="393.40" font-size="8.6" textLength="19.31" lengthAdjust="spacingAndGlyphs" fill="#222" stroke="#222" stroke-width="0.18">t score</text>
<g transform="translate(289.50,363.10) rotate(-90)">
<text x="0.00" y="0.00" font-size="9.6" textLength="50.10" lengthAdjust="spacingAndGlyphs" fill="#333" stroke="#333" stroke-width="0.18">Enrichment score</text>
</g>
<text x="411.60" y="307.30" font-size="7.8" textLength="54.36" lengthAdjust="spacingAndGlyphs" font-weight="bold">E2F TARGETS</text>
<line x1="441.70" y1="312.50" x2="441.70" y2="363.00" stroke="#ececec" stroke-width="0.5" />
<line x1="468.70" y1="312.50" x2="468.70" y2="363.00" stroke="#ececec" stroke-width="0.5" />
<line x1="411.60" y1="331.80" x2="489.80" y2="331.80" stroke="#f2f2f2" stroke-width="0.5" />
<line x1="411.60" y1="348.30" x2="489.80" y2="348.30" stroke="#f2f2f2" stroke-width="0.5" />
<line x1="411.60" y1="315.40" x2="489.80" y2="315.40" stroke="#f0a8a8" stroke-width="0.6" />
<line x1="411.60" y1="360.70" x2="489.80" y2="360.70" stroke="#f0a8a8" stroke-width="0.6" />
<line x1="432.46" y1="312.80" x2="432.46" y2="318.50" stroke="#000" stroke-width="0.45" stroke-opacity="0.35"/>
<line x1="451.01" y1="312.80" x2="451.01" y2="318.50" stroke="#000" stroke-width="0.45" stroke-opacity="0.13"/>
<line x1="426.61" y1="312.80" x2="426.61" y2="318.50" stroke="#000" stroke-width="0.45" stroke-opacity="0.34"/>
<line x1="473.88" y1="312.80" x2="473.88" y2="318.50" stroke="#000" stroke-width="0.45" stroke-opacity="0.32"/>
<line x1="431.59" y1="312.80" x2="431.59" y2="318.50" stroke="#000" stroke-width="0.45" stroke-opacity="0.28"/>
<line x1="454.60" y1="312.80" x2="454.60" y2="318.50" stroke="#000" stroke-width="0.45" stroke-opacity="0.22"/>
<line x1="481.42" y1="312.80" x2="481.42" y2="318.50" stroke="#000" stroke-width="0.45" stroke-opacity="0.11"/>
<line x1="443.49" y1="312.80" x2="443.49" y2="318.50" stroke="#000" stroke-width="0.45" stroke-opacity="0.26"/>
<line x1="484.40" y1="312.80" x2="484.40" y2="318.50" stroke="#000" stroke-width="0.45" stroke-opacity="0.23"/>
<line x1="467.45" y1="312.80" x2="467.45" y2="318.50" stroke="#000" stroke-width="0.45" stroke-opacity="0.32"/>
<line x1="454.30" y1="312.80" x2="454.30" y2="318.50" stroke="#000" stroke-width="0.45" stroke-opacity="0.12"/>
<line x1="460.09" y1="312.80" x2="460.09" y2="318.50" stroke="#000" stroke-width="0.45" stroke-opacity="0.15"/>
<line x1="457.02" y1="312.80" x2="457.02" y2="318.50" stroke="#000" stroke-width="0.45" stroke-opacity="0.11"/>
<line x1="440.83" y1="312.80" x2="440.83" y2="318.50" stroke="#000" stroke-width="0.45" stroke-opacity="0.26"/>
<line x1="486.46" y1="312.80" x2="486.46" y2="318.50" stroke="#000" stroke-width="0.45" stroke-opacity="0.12"/>
<line x1="443.96" y1="312.80" x2="443.96" y2="318.50" stroke="#000" stroke-width="0.45" stroke-opacity="0.27"/>
<line x1="485.54" y1="312.80" x2="485.54" y2="318.50" stroke="#000" stroke-width="0.45" stroke-opacity="0.24"/>
<line x1="476.13" y1="312.80" x2="476.13" y2="318.50" stroke="#000" stroke-width="0.45" stroke-opacity="0.21"/>
<line x1="417.03" y1="312.80" x2="417.03" y2="318.50" stroke="#000" stroke-width="0.45" stroke-opacity="0.16"/>
<line x1="433.51" y1="312.80" x2="433.51" y2="318.50" stroke="#000" stroke-width="0.45" stroke-opacity="0.39"/>
<line x1="449.26" y1="312.80" x2="449.26" y2="318.50" stroke="#000" stroke-width="0.45" stroke-opacity="0.25"/>
<line x1="473.41" y1="312.80" x2="473.41" y2="318.50" stroke="#000" stroke-width="0.45" stroke-opacity="0.13"/>
<line x1="427.74" y1="312.80" x2="427.74" y2="318.50" stroke="#000" stroke-width="0.45" stroke-opacity="0.28"/>
<line x1="459.16" y1="312.80" x2="459.16" y2="318.50" stroke="#000" stroke-width="0.45" stroke-opacity="0.34"/>
<line x1="441.33" y1="312.80" x2="441.33" y2="318.50" stroke="#000" stroke-width="0.45" stroke-opacity="0.26"/>
<line x1="471.33" y1="312.80" x2="471.33" y2="318.50" stroke="#000" stroke-width="0.45" stroke-opacity="0.39"/>
<line x1="481.42" y1="312.80" x2="481.42" y2="318.50" stroke="#000" stroke-width="0.45" stroke-opacity="0.37"/>
<line x1="469.64" y1="312.80" x2="469.64" y2="318.50" stroke="#000" stroke-width="0.45" stroke-opacity="0.32"/>
<line x1="428.86" y1="312.80" x2="428.86" y2="318.50" stroke="#000" stroke-width="0.45" stroke-opacity="0.11"/>
<line x1="469.51" y1="312.80" x2="469.51" y2="318.50" stroke="#000" stroke-width="0.45" stroke-opacity="0.23"/>
<line x1="446.42" y1="312.80" x2="446.42" y2="318.50" stroke="#000" stroke-width="0.45" stroke-opacity="0.26"/>
<line x1="475.03" y1="312.80" x2="475.03" y2="318.50" stroke="#000" stroke-width="0.45" stroke-opacity="0.15"/>
<line x1="448.71" y1="312.80" x2="448.71" y2="318.50" stroke="#000" stroke-width="0.45" stroke-opacity="0.26"/>
<line x1="480.01" y1="312.80" x2="480.01" y2="318.50" stroke="#000" stroke-width="0.45" stroke-opacity="0.31"/>
<line x1="485.71" y1="312.80" x2="485.71" y2="318.50" stroke="#000" stroke-width="0.45" stroke-opacity="0.34"/>
<line x1="474.10" y1="312.80" x2="474.10" y2="318.50" stroke="#000" stroke-width="0.45" stroke-opacity="0.34"/>
<line x1="474.23" y1="312.80" x2="474.23" y2="318.50" stroke="#000" stroke-width="0.45" stroke-opacity="0.34"/>
<line x1="473.73" y1="312.80" x2="473.73" y2="318.50" stroke="#000" stroke-width="0.45" stroke-opacity="0.20"/>
<line x1="457.46" y1="312.80" x2="457.46" y2="318.50" stroke="#000" stroke-width="0.45" stroke-opacity="0.30"/>
<line x1="427.54" y1="312.80" x2="427.54" y2="318.50" stroke="#000" stroke-width="0.45" stroke-opacity="0.26"/>
<line x1="485.71" y1="312.80" x2="485.71" y2="318.50" stroke="#000" stroke-width="0.45" stroke-opacity="0.34"/>
<line x1="448.28" y1="312.80" x2="448.28" y2="318.50" stroke="#000" stroke-width="0.45" stroke-opacity="0.14"/>
<line x1="416.16" y1="312.80" x2="416.16" y2="318.50" stroke="#000" stroke-width="0.45" stroke-opacity="0.16"/>
<line x1="446.15" y1="312.80" x2="446.15" y2="318.50" stroke="#000" stroke-width="0.45" stroke-opacity="0.33"/>
<line x1="444.75" y1="312.80" x2="444.75" y2="318.50" stroke="#000" stroke-width="0.45" stroke-opacity="0.33"/>
<line x1="429.40" y1="312.80" x2="429.40" y2="318.50" stroke="#000" stroke-width="0.45" stroke-opacity="0.17"/>
<line x1="483.86" y1="312.80" x2="483.86" y2="318.50" stroke="#000" stroke-width="0.45" stroke-opacity="0.35"/>
<line x1="423.03" y1="312.80" x2="423.03" y2="318.50" stroke="#000" stroke-width="0.45" stroke-opacity="0.35"/>
<line x1="479.83" y1="312.80" x2="479.83" y2="318.50" stroke="#000" stroke-width="0.45" stroke-opacity="0.31"/>
<line x1="454.42" y1="312.80" x2="454.42" y2="318.50" stroke="#000" stroke-width="0.45" stroke-opacity="0.25"/>
<line x1="427.81" y1="312.80" x2="427.81" y2="318.50" stroke="#000" stroke-width="0.45" stroke-opacity="0.12"/>
<line x1="440.69" y1="312.80" x2="440.69" y2="318.50" stroke="#000" stroke-width="0.45" stroke-opacity="0.17"/>
<line x1="447.29" y1="312.80" x2="447.29" y2="318.50" stroke="#000" stroke-width="0.45" stroke-opacity="0.34"/>
<line x1="423.43" y1="312.80" x2="423.43" y2="318.50" stroke="#000" stroke-width="0.45" stroke-opacity="0.40"/>
<line x1="469.71" y1="312.80" x2="469.71" y2="318.50" stroke="#000" stroke-width="0.45" stroke-opacity="0.15"/>
<line x1="461.72" y1="312.80" x2="461.72" y2="318.50" stroke="#000" stroke-width="0.45" stroke-opacity="0.11"/>
<line x1="485.43" y1="312.80" x2="485.43" y2="318.50" stroke="#000" stroke-width="0.45" stroke-opacity="0.21"/>
<line x1="474.50" y1="312.80" x2="474.50" y2="318.50" stroke="#000" stroke-width="0.45" stroke-opacity="0.40"/>
<line x1="471.35" y1="312.80" x2="471.35" y2="318.50" stroke="#000" stroke-width="0.45" stroke-opacity="0.17"/>
<line x1="486.48" y1="312.80" x2="486.48" y2="318.50" stroke="#000" stroke-width="0.45" stroke-opacity="0.40"/>
<line x1="481.82" y1="312.80" x2="481.82" y2="318.50" stroke="#000" stroke-width="0.45" stroke-opacity="0.35"/>
<line x1="461.17" y1="312.80" x2="461.17" y2="318.50" stroke="#000" stroke-width="0.45" stroke-opacity="0.37"/>
<line x1="453.67" y1="312.80" x2="453.67" y2="318.50" stroke="#000" stroke-width="0.45" stroke-opacity="0.42"/>
<line x1="452.55" y1="312.80" x2="452.55" y2="318.50" stroke="#000" stroke-width="0.45" stroke-opacity="0.32"/>
<line x1="473.35" y1="312.80" x2="473.35" y2="318.50" stroke="#000" stroke-width="0.45" stroke-opacity="0.16"/>
<line x1="481.35" y1="312.80" x2="481.35" y2="318.50" stroke="#000" stroke-width="0.45" stroke-opacity="0.24"/>
<line x1="474.55" y1="312.80" x2="474.55" y2="318.50" stroke="#000" stroke-width="0.45" stroke-opacity="0.23"/>
<line x1="475.17" y1="312.80" x2="475.17" y2="318.50" stroke="#000" stroke-width="0.45" stroke-opacity="0.31"/>
<line x1="416.96" y1="312.80" x2="416.96" y2="318.50" stroke="#000" stroke-width="0.45" stroke-opacity="0.21"/>
<line x1="445.16" y1="312.80" x2="445.16" y2="318.50" stroke="#000" stroke-width="0.45" stroke-opacity="0.33"/>
<line x1="421.25" y1="312.80" x2="421.25" y2="318.50" stroke="#000" stroke-width="0.45" stroke-opacity="0.11"/>
<line x1="456.96" y1="312.80" x2="456.96" y2="318.50" stroke="#000" stroke-width="0.45" stroke-opacity="0.17"/>
<line x1="456.59" y1="312.80" x2="456.59" y2="318.50" stroke="#000" stroke-width="0.45" stroke-opacity="0.17"/>
<line x1="455.20" y1="312.80" x2="455.20" y2="318.50" stroke="#000" stroke-width="0.45" stroke-opacity="0.15"/>
<line x1="476.52" y1="312.80" x2="476.52" y2="318.50" stroke="#000" stroke-width="0.45" stroke-opacity="0.34"/>
<line x1="431.13" y1="312.80" x2="431.13" y2="318.50" stroke="#000" stroke-width="0.45" stroke-opacity="0.38"/>
<line x1="467.26" y1="312.80" x2="467.26" y2="318.50" stroke="#000" stroke-width="0.45" stroke-opacity="0.13"/>
<line x1="457.05" y1="312.80" x2="457.05" y2="318.50" stroke="#000" stroke-width="0.45" stroke-opacity="0.25"/>
<line x1="430.28" y1="312.80" x2="430.28" y2="318.50" stroke="#000" stroke-width="0.45" stroke-opacity="0.10"/>
<line x1="485.16" y1="312.80" x2="485.16" y2="318.50" stroke="#000" stroke-width="0.45" stroke-opacity="0.18"/>
<line x1="418.84" y1="312.80" x2="418.84" y2="318.50" stroke="#000" stroke-width="0.45" stroke-opacity="0.15"/>
<line x1="448.33" y1="312.80" x2="448.33" y2="318.50" stroke="#000" stroke-width="0.45" stroke-opacity="0.32"/>
<line x1="453.40" y1="312.80" x2="453.40" y2="318.50" stroke="#000" stroke-width="0.45" stroke-opacity="0.37"/>
<line x1="457.70" y1="312.80" x2="457.70" y2="318.50" stroke="#000" stroke-width="0.45" stroke-opacity="0.37"/>
<line x1="485.41" y1="312.80" x2="485.41" y2="318.50" stroke="#000" stroke-width="0.45" stroke-opacity="0.19"/>
<line x1="454.54" y1="312.80" x2="454.54" y2="318.50" stroke="#000" stroke-width="0.45" stroke-opacity="0.23"/>
<line x1="478.57" y1="312.80" x2="478.57" y2="318.50" stroke="#000" stroke-width="0.45" stroke-opacity="0.17"/>
<line x1="436.11" y1="312.80" x2="436.11" y2="318.50" stroke="#000" stroke-width="0.45" stroke-opacity="0.31"/>
<line x1="449.52" y1="312.80" x2="449.52" y2="318.50" stroke="#000" stroke-width="0.45" stroke-opacity="0.17"/>
<line x1="425.53" y1="312.80" x2="425.53" y2="318.50" stroke="#000" stroke-width="0.45" stroke-opacity="0.35"/>
<line x1="460.87" y1="312.80" x2="460.87" y2="318.50" stroke="#000" stroke-width="0.45" stroke-opacity="0.25"/>
<line x1="445.28" y1="312.80" x2="445.28" y2="318.50" stroke="#000" stroke-width="0.45" stroke-opacity="0.28"/>
<line x1="471.27" y1="312.80" x2="471.27" y2="318.50" stroke="#000" stroke-width="0.45" stroke-opacity="0.38"/>
<line x1="423.06" y1="312.80" x2="423.06" y2="318.50" stroke="#000" stroke-width="0.45" stroke-opacity="0.40"/>
<line x1="448.29" y1="312.80" x2="448.29" y2="318.50" stroke="#000" stroke-width="0.45" stroke-opacity="0.19"/>
<line x1="483.74" y1="312.80" x2="483.74" y2="318.50" stroke="#000" stroke-width="0.45" stroke-opacity="0.33"/>
<line x1="415.81" y1="312.80" x2="415.81" y2="318.50" stroke="#000" stroke-width="0.45" stroke-opacity="0.19"/>
<line x1="462.34" y1="312.80" x2="462.34" y2="318.50" stroke="#000" stroke-width="0.45" stroke-opacity="0.10"/>
<line x1="463.58" y1="312.80" x2="463.58" y2="318.50" stroke="#000" stroke-width="0.45" stroke-opacity="0.37"/>
<line x1="467.05" y1="312.80" x2="467.05" y2="318.50" stroke="#000" stroke-width="0.45" stroke-opacity="0.16"/>
<line x1="454.96" y1="312.80" x2="454.96" y2="318.50" stroke="#000" stroke-width="0.45" stroke-opacity="0.19"/>
<line x1="450.90" y1="312.80" x2="450.90" y2="318.50" stroke="#000" stroke-width="0.45" stroke-opacity="0.33"/>
<line x1="483.79" y1="312.80" x2="483.79" y2="318.50" stroke="#000" stroke-width="0.45" stroke-opacity="0.37"/>
<line x1="435.31" y1="312.80" x2="435.31" y2="318.50" stroke="#000" stroke-width="0.45" stroke-opacity="0.22"/>
<line x1="465.46" y1="312.80" x2="465.46" y2="318.50" stroke="#000" stroke-width="0.45" stroke-opacity="0.33"/>
<line x1="462.93" y1="312.80" x2="462.93" y2="318.50" stroke="#000" stroke-width="0.45" stroke-opacity="0.23"/>
<line x1="467.22" y1="312.80" x2="467.22" y2="318.50" stroke="#000" stroke-width="0.45" stroke-opacity="0.11"/>
<line x1="449.26" y1="312.80" x2="449.26" y2="318.50" stroke="#000" stroke-width="0.45" stroke-opacity="0.28"/>
<line x1="416.21" y1="312.80" x2="416.21" y2="318.50" stroke="#000" stroke-width="0.45" stroke-opacity="0.16"/>
<line x1="470.60" y1="312.80" x2="470.60" y2="318.50" stroke="#000" stroke-width="0.45" stroke-opacity="0.17"/>
<line x1="455.39" y1="312.80" x2="455.39" y2="318.50" stroke="#000" stroke-width="0.45" stroke-opacity="0.23"/>
<line x1="479.20" y1="312.80" x2="479.20" y2="318.50" stroke="#000" stroke-width="0.45" stroke-opacity="0.31"/>
<line x1="486.28" y1="312.80" x2="486.28" y2="318.50" stroke="#000" stroke-width="0.45" stroke-opacity="0.17"/>
<line x1="478.99" y1="312.80" x2="478.99" y2="318.50" stroke="#000" stroke-width="0.45" stroke-opacity="0.17"/>
<line x1="462.63" y1="312.80" x2="462.63" y2="318.50" stroke="#000" stroke-width="0.45" stroke-opacity="0.28"/>
<line x1="481.90" y1="312.80" x2="481.90" y2="318.50" stroke="#000" stroke-width="0.45" stroke-opacity="0.19"/>
<line x1="461.71" y1="312.80" x2="461.71" y2="318.50" stroke="#000" stroke-width="0.45" stroke-opacity="0.28"/>
<line x1="457.94" y1="312.80" x2="457.94" y2="318.50" stroke="#000" stroke-width="0.45" stroke-opacity="0.32"/>
<line x1="470.72" y1="312.80" x2="470.72" y2="318.50" stroke="#000" stroke-width="0.45" stroke-opacity="0.20"/>
<line x1="474.21" y1="312.80" x2="474.21" y2="318.50" stroke="#000" stroke-width="0.45" stroke-opacity="0.39"/>
<line x1="475.51" y1="312.80" x2="475.51" y2="318.50" stroke="#000" stroke-width="0.45" stroke-opacity="0.41"/>
<line x1="469.91" y1="312.80" x2="469.91" y2="318.50" stroke="#000" stroke-width="0.45" stroke-opacity="0.11"/>
<line x1="462.94" y1="312.80" x2="462.94" y2="318.50" stroke="#000" stroke-width="0.45" stroke-opacity="0.12"/>
<line x1="477.71" y1="312.80" x2="477.71" y2="318.50" stroke="#000" stroke-width="0.45" stroke-opacity="0.13"/>
<line x1="458.20" y1="312.80" x2="458.20" y2="318.50" stroke="#000" stroke-width="0.45" stroke-opacity="0.26"/>
<line x1="472.25" y1="312.80" x2="472.25" y2="318.50" stroke="#000" stroke-width="0.45" stroke-opacity="0.20"/>
<line x1="421.88" y1="312.80" x2="421.88" y2="318.50" stroke="#000" stroke-width="0.45" stroke-opacity="0.33"/>
<line x1="443.72" y1="312.80" x2="443.72" y2="318.50" stroke="#000" stroke-width="0.45" stroke-opacity="0.42"/>
<line x1="482.26" y1="312.80" x2="482.26" y2="318.50" stroke="#000" stroke-width="0.45" stroke-opacity="0.25"/>
<line x1="450.94" y1="312.80" x2="450.94" y2="318.50" stroke="#000" stroke-width="0.45" stroke-opacity="0.19"/>
<line x1="463.15" y1="312.80" x2="463.15" y2="318.50" stroke="#000" stroke-width="0.45" stroke-opacity="0.17"/>
<line x1="434.17" y1="312.80" x2="434.17" y2="318.50" stroke="#000" stroke-width="0.45" stroke-opacity="0.39"/>
<line x1="478.56" y1="312.80" x2="478.56" y2="318.50" stroke="#000" stroke-width="0.45" stroke-opacity="0.36"/>
<line x1="458.44" y1="312.80" x2="458.44" y2="318.50" stroke="#000" stroke-width="0.45" stroke-opacity="0.38"/>
<line x1="433.44" y1="312.80" x2="433.44" y2="318.50" stroke="#000" stroke-width="0.45" stroke-opacity="0.42"/>
<line x1="455.04" y1="312.80" x2="455.04" y2="318.50" stroke="#000" stroke-width="0.45" stroke-opacity="0.24"/>
<line x1="484.41" y1="312.80" x2="484.41" y2="318.50" stroke="#000" stroke-width="0.45" stroke-opacity="0.34"/>
<line x1="478.21" y1="312.80" x2="478.21" y2="318.50" stroke="#000" stroke-width="0.45" stroke-opacity="0.21"/>
<line x1="420.30" y1="312.80" x2="420.30" y2="318.50" stroke="#000" stroke-width="0.45" stroke-opacity="0.15"/>
<line x1="485.18" y1="312.80" x2="485.18" y2="318.50" stroke="#000" stroke-width="0.45" stroke-opacity="0.32"/>
<line x1="436.99" y1="312.80" x2="436.99" y2="318.50" stroke="#000" stroke-width="0.45" stroke-opacity="0.22"/>
<line x1="466.73" y1="312.80" x2="466.73" y2="318.50" stroke="#000" stroke-width="0.45" stroke-opacity="0.27"/>
<line x1="469.08" y1="312.80" x2="469.08" y2="318.50" stroke="#000" stroke-width="0.45" stroke-opacity="0.28"/>
<line x1="479.24" y1="312.80" x2="479.24" y2="318.50" stroke="#000" stroke-width="0.45" stroke-opacity="0.18"/>
<line x1="444.74" y1="312.80" x2="444.74" y2="318.50" stroke="#000" stroke-width="0.45" stroke-opacity="0.11"/>
<line x1="480.75" y1="312.80" x2="480.75" y2="318.50" stroke="#000" stroke-width="0.45" stroke-opacity="0.34"/>
<line x1="455.05" y1="312.80" x2="455.05" y2="318.50" stroke="#000" stroke-width="0.45" stroke-opacity="0.34"/>
<line x1="477.55" y1="312.80" x2="477.55" y2="318.50" stroke="#000" stroke-width="0.45" stroke-opacity="0.34"/>
<line x1="484.29" y1="312.80" x2="484.29" y2="318.50" stroke="#000" stroke-width="0.45" stroke-opacity="0.20"/>
<line x1="471.55" y1="312.80" x2="471.55" y2="318.50" stroke="#000" stroke-width="0.45" stroke-opacity="0.21"/>
<line x1="419.22" y1="312.80" x2="419.22" y2="318.50" stroke="#000" stroke-width="0.45" stroke-opacity="0.30"/>
<line x1="474.76" y1="312.80" x2="474.76" y2="318.50" stroke="#000" stroke-width="0.45" stroke-opacity="0.22"/>
<line x1="464.31" y1="312.80" x2="464.31" y2="318.50" stroke="#000" stroke-width="0.45" stroke-opacity="0.34"/>
<line x1="477.25" y1="312.80" x2="477.25" y2="318.50" stroke="#000" stroke-width="0.45" stroke-opacity="0.27"/>
<line x1="479.28" y1="312.80" x2="479.28" y2="318.50" stroke="#000" stroke-width="0.45" stroke-opacity="0.27"/>
<line x1="441.27" y1="312.80" x2="441.27" y2="318.50" stroke="#000" stroke-width="0.45" stroke-opacity="0.37"/>
<line x1="470.58" y1="312.80" x2="470.58" y2="318.50" stroke="#000" stroke-width="0.45" stroke-opacity="0.14"/>
<line x1="473.80" y1="312.80" x2="473.80" y2="318.50" stroke="#000" stroke-width="0.45" stroke-opacity="0.17"/>
<line x1="484.28" y1="312.80" x2="484.28" y2="318.50" stroke="#000" stroke-width="0.45" stroke-opacity="0.27"/>
<line x1="472.56" y1="312.80" x2="472.56" y2="318.50" stroke="#000" stroke-width="0.45" stroke-opacity="0.37"/>
<line x1="472.61" y1="312.80" x2="472.61" y2="318.50" stroke="#000" stroke-width="0.45" stroke-opacity="0.39"/>
<line x1="478.70" y1="312.80" x2="478.70" y2="318.50" stroke="#000" stroke-width="0.45" stroke-opacity="0.38"/>
<line x1="446.42" y1="312.80" x2="446.42" y2="318.50" stroke="#000" stroke-width="0.45" stroke-opacity="0.16"/>
<line x1="481.98" y1="312.80" x2="481.98" y2="318.50" stroke="#000" stroke-width="0.45" stroke-opacity="0.20"/>
<line x1="471.16" y1="312.80" x2="471.16" y2="318.50" stroke="#000" stroke-width="0.45" stroke-opacity="0.18"/>
<line x1="473.49" y1="312.80" x2="473.49" y2="318.50" stroke="#000" stroke-width="0.45" stroke-opacity="0.17"/>
<line x1="445.95" y1="312.80" x2="445.95" y2="318.50" stroke="#000" stroke-width="0.45" stroke-opacity="0.16"/>
<line x1="468.58" y1="312.80" x2="468.58" y2="318.50" stroke="#000" stroke-width="0.45" stroke-opacity="0.15"/>
<line x1="462.97" y1="312.80" x2="462.97" y2="318.50" stroke="#000" stroke-width="0.45" stroke-opacity="0.36"/>
<line x1="450.19" y1="312.80" x2="450.19" y2="318.50" stroke="#000" stroke-width="0.45" stroke-opacity="0.27"/>
<line x1="484.77" y1="312.80" x2="484.77" y2="318.50" stroke="#000" stroke-width="0.45" stroke-opacity="0.41"/>
<line x1="481.51" y1="312.80" x2="481.51" y2="318.50" stroke="#000" stroke-width="0.45" stroke-opacity="0.30"/>
<line x1="465.50" y1="312.80" x2="465.50" y2="318.50" stroke="#000" stroke-width="0.45" stroke-opacity="0.34"/>
<line x1="437.37" y1="312.80" x2="437.37" y2="318.50" stroke="#000" stroke-width="0.45" stroke-opacity="0.40"/>
<line x1="486.17" y1="312.80" x2="486.17" y2="318.50" stroke="#000" stroke-width="0.45" stroke-opacity="0.28"/>
<line x1="442.37" y1="312.80" x2="442.37" y2="318.50" stroke="#000" stroke-width="0.45" stroke-opacity="0.17"/>
<line x1="467.81" y1="312.80" x2="467.81" y2="318.50" stroke="#000" stroke-width="0.45" stroke-opacity="0.23"/>
<line x1="470.47" y1="312.80" x2="470.47" y2="318.50" stroke="#000" stroke-width="0.45" stroke-opacity="0.24"/>
<line x1="481.84" y1="312.80" x2="481.84" y2="318.50" stroke="#000" stroke-width="0.45" stroke-opacity="0.15"/>
<line x1="474.31" y1="312.80" x2="474.31" y2="318.50" stroke="#000" stroke-width="0.45" stroke-opacity="0.28"/>
<line x1="472.13" y1="312.80" x2="472.13" y2="318.50" stroke="#000" stroke-width="0.45" stroke-opacity="0.35"/>
<line x1="468.09" y1="312.80" x2="468.09" y2="318.50" stroke="#000" stroke-width="0.45" stroke-opacity="0.20"/>
<line x1="486.00" y1="312.80" x2="486.00" y2="318.50" stroke="#000" stroke-width="0.45" stroke-opacity="0.11"/>
<line x1="480.57" y1="312.80" x2="480.57" y2="318.50" stroke="#000" stroke-width="0.45" stroke-opacity="0.13"/>
<line x1="460.06" y1="312.80" x2="460.06" y2="318.50" stroke="#000" stroke-width="0.45" stroke-opacity="0.22"/>
<line x1="479.66" y1="312.80" x2="479.66" y2="318.50" stroke="#000" stroke-width="0.45" stroke-opacity="0.16"/>
<line x1="484.98" y1="312.80" x2="484.98" y2="318.50" stroke="#000" stroke-width="0.45" stroke-opacity="0.25"/>
<line x1="466.83" y1="312.80" x2="466.83" y2="318.50" stroke="#000" stroke-width="0.45" stroke-opacity="0.41"/>
<line x1="438.62" y1="312.80" x2="438.62" y2="318.50" stroke="#000" stroke-width="0.45" stroke-opacity="0.17"/>
<line x1="436.26" y1="312.80" x2="436.26" y2="318.50" stroke="#000" stroke-width="0.45" stroke-opacity="0.21"/>
<line x1="485.64" y1="312.80" x2="485.64" y2="318.50" stroke="#000" stroke-width="0.45" stroke-opacity="0.29"/>
<line x1="450.36" y1="312.80" x2="450.36" y2="318.50" stroke="#000" stroke-width="0.45" stroke-opacity="0.15"/>
<line x1="480.00" y1="312.80" x2="480.00" y2="318.50" stroke="#000" stroke-width="0.45" stroke-opacity="0.38"/>
<line x1="449.21" y1="312.80" x2="449.21" y2="318.50" stroke="#000" stroke-width="0.45" stroke-opacity="0.41"/>
<line x1="451.59" y1="312.80" x2="451.59" y2="318.50" stroke="#000" stroke-width="0.45" stroke-opacity="0.10"/>
<line x1="446.48" y1="312.80" x2="446.48" y2="318.50" stroke="#000" stroke-width="0.45" stroke-opacity="0.23"/>
<line x1="480.41" y1="312.80" x2="480.41" y2="318.50" stroke="#000" stroke-width="0.45" stroke-opacity="0.36"/>
<line x1="439.46" y1="312.80" x2="439.46" y2="318.50" stroke="#000" stroke-width="0.45" stroke-opacity="0.11"/>
<line x1="466.13" y1="312.80" x2="466.13" y2="318.50" stroke="#000" stroke-width="0.45" stroke-opacity="0.28"/>
<line x1="480.17" y1="312.80" x2="480.17" y2="318.50" stroke="#000" stroke-width="0.45" stroke-opacity="0.36"/>
<line x1="484.86" y1="312.80" x2="484.86" y2="318.50" stroke="#000" stroke-width="0.45" stroke-opacity="0.41"/>
<line x1="486.67" y1="312.80" x2="486.67" y2="318.50" stroke="#000" stroke-width="0.45" stroke-opacity="0.16"/>
<line x1="486.64" y1="312.80" x2="486.64" y2="318.50" stroke="#000" stroke-width="0.45" stroke-opacity="0.40"/>
<line x1="483.79" y1="312.80" x2="483.79" y2="318.50" stroke="#000" stroke-width="0.45" stroke-opacity="0.29"/>
<line x1="485.65" y1="312.80" x2="485.65" y2="318.50" stroke="#000" stroke-width="0.45" stroke-opacity="0.34"/>
<line x1="486.41" y1="312.80" x2="486.41" y2="318.50" stroke="#000" stroke-width="0.45" stroke-opacity="0.17"/>
<line x1="484.86" y1="312.80" x2="484.86" y2="318.50" stroke="#000" stroke-width="0.45" stroke-opacity="0.12"/>
<line x1="483.95" y1="312.80" x2="483.95" y2="318.50" stroke="#000" stroke-width="0.45" stroke-opacity="0.25"/>
<line x1="485.64" y1="312.80" x2="485.64" y2="318.50" stroke="#000" stroke-width="0.45" stroke-opacity="0.41"/>
<line x1="486.23" y1="312.80" x2="486.23" y2="318.50" stroke="#000" stroke-width="0.45" stroke-opacity="0.18"/>
<line x1="486.05" y1="312.80" x2="486.05" y2="318.50" stroke="#000" stroke-width="0.45" stroke-opacity="0.41"/>
<line x1="485.04" y1="312.80" x2="485.04" y2="318.50" stroke="#000" stroke-width="0.45" stroke-opacity="0.41"/>
<polyline points="415.03,315.49 416.07,316.89 417.11,318.02 417.98,318.82 418.84,319.59 419.71,320.51 420.57,321.43 421.44,322.05 422.30,323.00 423.17,323.89 424.03,325.18 424.90,325.47 425.76,326.91 426.63,327.23 427.49,327.86 428.36,328.81 429.22,329.21 430.09,329.08 430.95,329.46 431.82,329.67 432.68,330.49 433.55,331.08 434.41,331.57 435.28,331.82 436.14,332.57 437.01,333.78 437.87,334.05 438.74,334.77 439.60,335.87 440.47,336.13 441.33,337.00 442.20,337.78 443.06,338.83 443.93,339.61 444.79,340.47 445.66,341.27 446.52,342.15 447.39,343.25 448.25,343.78 449.12,345.10 449.98,346.31 450.85,347.32 451.71,348.46 452.58,349.21 453.44,349.96 454.31,350.94 455.17,352.01 456.04,352.77 456.90,353.67 457.77,354.43 458.63,354.82 459.50,355.49 460.36,356.18 461.23,356.87 462.09,357.84 462.96,358.12 463.82,359.01 464.69,359.19 465.55,359.47 466.42,360.03 467.28,360.02 468.15,360.48 469.01,360.00 469.88,360.17 470.74,360.43 471.61,360.57 472.47,360.78 473.34,360.54 474.20,359.65 475.07,358.46 475.93,357.65 476.80,357.34 477.66,356.07 478.70,355.12 479.74,354.53 481.12,350.17 482.51,344.59 483.72,338.02 484.58,329.13 485.45,322.36 486.31,317.15 486.66,314.52" fill="none" stroke="#9cee7c" stroke-width="0.9" stroke-linejoin="round"/>
<line x1="411.60" y1="312.50" x2="411.60" y2="363.60" stroke="#000" stroke-width="1.2" />
<line x1="411.00" y1="363.00" x2="489.80" y2="363.00" stroke="#000" stroke-width="1.2" />
<line x1="408.20" y1="315.40" x2="411.60" y2="315.40" stroke="#000" stroke-width="1.1" />
<text x="405.10" y="317.60" font-size="6.3" text-anchor="end" fill="#222" stroke="#222" stroke-width="0.18">0</text>
<line x1="408.20" y1="331.80" x2="411.60" y2="331.80" stroke="#000" stroke-width="1.1" />
<text x="405.10" y="334.00" font-size="6.3" text-anchor="end" fill="#222" stroke="#222" stroke-width="0.18">-0.2</text>
<line x1="408.20" y1="348.30" x2="411.60" y2="348.30" stroke="#000" stroke-width="1.1" />
<text x="405.10" y="350.50" font-size="6.3" text-anchor="end" fill="#222" stroke="#222" stroke-width="0.18">-0.4</text>
<line x1="415.00" y1="363.00" x2="415.00" y2="365.80" stroke="#000" stroke-width="1.0" />
<text x="415.30" y="375.20" font-size="6.7" textLength="3.35" lengthAdjust="spacingAndGlyphs" text-anchor="middle" fill="#222" stroke="#222" stroke-width="0.18">0</text>
<line x1="441.70" y1="363.00" x2="441.70" y2="365.80" stroke="#000" stroke-width="1.0" />
<text x="442.50" y="375.20" font-size="6.7" textLength="13.41" lengthAdjust="spacingAndGlyphs" text-anchor="middle" fill="#222" stroke="#222" stroke-width="0.18">5000</text>
<line x1="468.70" y1="363.00" x2="468.70" y2="365.80" stroke="#000" stroke-width="1.0" />
<text x="470.00" y="375.20" font-size="6.7" textLength="16.77" lengthAdjust="spacingAndGlyphs" text-anchor="middle" fill="#222" stroke="#222" stroke-width="0.18">10000</text>
<text x="415.60" y="347.60" font-size="5.3" textLength="16.19" lengthAdjust="spacingAndGlyphs" fill="#222" stroke="#222" stroke-width="0.10">P&lt;0.01</text>
<text x="415.60" y="354.10" font-size="5.3" textLength="25.89" lengthAdjust="spacingAndGlyphs" fill="#222" stroke="#222" stroke-width="0.10">NES : -2.65</text>
<text x="408.60" y="384.90" font-size="6.2" textLength="17.71" lengthAdjust="spacingAndGlyphs" fill="#c0304a" stroke="#c0304a" stroke-width="0.18">LN_FL</text>
<line x1="429.30" y1="383.00" x2="468.50" y2="383.00" stroke="#000" stroke-width="0.8" />
<path d="M471.00 383.00L467.60 381.40L467.60 384.60Z" stroke="none" stroke-width="1" fill="#000" />
<text x="473.00" y="384.90" font-size="6.2" textLength="19.22" lengthAdjust="spacingAndGlyphs" fill="#4466a8" stroke="#4466a8" stroke-width="0.18">BM_FL</text>
<text x="440.20" y="393.40" font-size="8.6" textLength="19.00" lengthAdjust="spacingAndGlyphs" fill="#222" stroke="#222" stroke-width="0.18">t score</text>
<text x="275.20" y="420.10" font-size="11.7" textLength="6.07" lengthAdjust="spacingAndGlyphs" font-weight="bold">E</text>
<text x="342.50" y="417.50" font-size="7.8" textLength="24.25" lengthAdjust="spacingAndGlyphs" fill="#222" stroke="#222" stroke-width="0.18" font-style="italic">MKI67</text>
<line x1="312.80" y1="423.60" x2="312.80" y2="508.60" stroke="#000" stroke-width="1.5" />
<line x1="312.10" y1="508.00" x2="395.50" y2="508.00" stroke="#000" stroke-width="1.2" />
<line x1="310.20" y1="425.80" x2="312.80" y2="425.80" stroke="#000" stroke-width="1.0" />
<text x="306.80" y="428.00" font-size="6.3" text-anchor="end" fill="#222" stroke="#222" stroke-width="0.18">10</text>
<line x1="311.40" y1="437.26" x2="312.80" y2="437.26" stroke="#000" stroke-width="0.5" />
<line x1="311.40" y1="434.38" x2="312.80" y2="434.38" stroke="#000" stroke-width="0.5" />
<line x1="311.40" y1="432.33" x2="312.80" y2="432.33" stroke="#000" stroke-width="0.5" />
<line x1="311.40" y1="430.74" x2="312.80" y2="430.74" stroke="#000" stroke-width="0.5" />
<line x1="311.40" y1="429.44" x2="312.80" y2="429.44" stroke="#000" stroke-width="0.5" />
<line x1="311.40" y1="428.34" x2="312.80" y2="428.34" stroke="#000" stroke-width="0.5" />
<line x1="311.40" y1="427.39" x2="312.80" y2="427.39" stroke="#000" stroke-width="0.5" />
<line x1="311.40" y1="426.55" x2="312.80" y2="426.55" stroke="#000" stroke-width="0.5" />
<line x1="310.20" y1="442.20" x2="312.80" y2="442.20" stroke="#000" stroke-width="1.0" />
<text x="306.80" y="444.40" font-size="6.3" text-anchor="end" fill="#222" stroke="#222" stroke-width="0.18">1</text>
<line x1="311.40" y1="453.73" x2="312.80" y2="453.73" stroke="#000" stroke-width="0.5" />
<line x1="311.40" y1="450.83" x2="312.80" y2="450.83" stroke="#000" stroke-width="0.5" />
<line x1="311.40" y1="448.77" x2="312.80" y2="448.77" stroke="#000" stroke-width="0.5" />
<line x1="311.40" y1="447.17" x2="312.80" y2="447.17" stroke="#000" stroke-width="0.5" />
<line x1="311.40" y1="445.86" x2="312.80" y2="445.86" stroke="#000" stroke-width="0.5" />
<line x1="311.40" y1="444.76" x2="312.80" y2="444.76" stroke="#000" stroke-width="0.5" />
<line x1="311.40" y1="443.80" x2="312.80" y2="443.80" stroke="#000" stroke-width="0.5" />
<line x1="311.40" y1="442.95" x2="312.80" y2="442.95" stroke="#000" stroke-width="0.5" />
<line x1="310.20" y1="458.70" x2="312.80" y2="458.70" stroke="#000" stroke-width="1.0" />
<text x="306.80" y="460.90" font-size="6.3" text-anchor="end" fill="#222" stroke="#222" stroke-width="0.18">0.1</text>
<line x1="311.40" y1="470.23" x2="312.80" y2="470.23" stroke="#000" stroke-width="0.5" />
<line x1="311.40" y1="467.33" x2="312.80" y2="467.33" stroke="#000" stroke-width="0.5" />
<line x1="311.40" y1="465.27" x2="312.80" y2="465.27" stroke="#000" stroke-width="0.5" />
<line x1="311.40" y1="463.67" x2="312.80" y2="463.67" stroke="#000" stroke-width="0.5" />
<line x1="311.40" y1="462.36" x2="312.80" y2="462.36" stroke="#000" stroke-width="0.5" />
<line x1="311.40" y1="461.26" x2="312.80" y2="461.26" stroke="#000" stroke-width="0.5" />
<line x1="311.40" y1="460.30" x2="312.80" y2="460.30" stroke="#000" stroke-width="0.5" />
<line x1="311.40" y1="459.45" x2="312.80" y2="459.45" stroke="#000" stroke-width="0.5" />
<line x1="310.20" y1="475.20" x2="312.80" y2="475.20" stroke="#000" stroke-width="1.0" />
<text x="306.80" y="477.40" font-size="6.3" text-anchor="end" fill="#222" stroke="#222" stroke-width="0.18">0.01</text>
<line x1="311.40" y1="486.73" x2="312.80" y2="486.73" stroke="#000" stroke-width="0.5" />
<line x1="311.40" y1="483.83" x2="312.80" y2="483.83" stroke="#000" stroke-width="0.5" />
<line x1="311.40" y1="481.77" x2="312.80" y2="481.77" stroke="#000" stroke-width="0.5" />
<line x1="311.40" y1="480.17" x2="312.80" y2="480.17" stroke="#000" stroke-width="0.5" />
<line x1="311.40" y1="478.86" x2="312.80" y2="478.86" stroke="#000" stroke-width="0.5" />
<line x1="311.40" y1="477.76" x2="312.80" y2="477.76" stroke="#000" stroke-width="0.5" />
<line x1="311.40" y1="476.80" x2="312.80" y2="476.80" stroke="#000" stroke-width="0.5" />
<line x1="311.40" y1="475.95" x2="312.80" y2="475.95" stroke="#000" stroke-width="0.5" />
<line x1="310.20" y1="491.70" x2="312.80" y2="491.70" stroke="#000" stroke-width="1.0" />
<text x="306.80" y="493.90" font-size="6.3" text-anchor="end" fill="#222" stroke="#222" stroke-width="0.18">0.001</text>
<line x1="311.40" y1="503.09" x2="312.80" y2="503.09" stroke="#000" stroke-width="0.5" />
<line x1="311.40" y1="500.22" x2="312.80" y2="500.22" stroke="#000" stroke-width="0.5" />
<line x1="311.40" y1="498.19" x2="312.80" y2="498.19" stroke="#000" stroke-width="0.5" />
<line x1="311.40" y1="496.61" x2="312.80" y2="496.61" stroke="#000" stroke-width="0.5" />
<line x1="311.40" y1="495.32" x2="312.80" y2="495.32" stroke="#000" stroke-width="0.5" />
<line x1="311.40" y1="494.22" x2="312.80" y2="494.22" stroke="#000" stroke-width="0.5" />
<line x1="311.40" y1="493.28" x2="312.80" y2="493.28" stroke="#000" stroke-width="0.5" />
<line x1="311.40" y1="492.45" x2="312.80" y2="492.45" stroke="#000" stroke-width="0.5" />
<line x1="310.20" y1="508.00" x2="312.80" y2="508.00" stroke="#000" stroke-width="1.0" />
<text x="306.80" y="510.20" font-size="6.3" text-anchor="end" fill="#222" stroke="#222" stroke-width="0.18">0.0001</text>
<path d="M334.30 427.2V432.8M334.30 430H374.30M374.30 427.2V432.8" stroke="#333" stroke-width="1.0" fill="none" />
<text x="354.30" y="427.40" font-size="5.5" text-anchor="middle" fill="#222" stroke="#222" stroke-width="0.10">**</text>
<rect x="331.10" y="449.40" width="3.80" height="3.80" fill="#f5df30" />
<rect x="321.90" y="468.90" width="3.80" height="3.80" fill="#f5df30" />
<rect x="331.10" y="466.10" width="3.80" height="3.80" fill="#f5df30" />
<rect x="328.10" y="471.40" width="3.80" height="3.80" fill="#f5df30" />
<rect x="334.60" y="473.60" width="3.80" height="3.80" fill="#f5df30" />
<rect x="341.10" y="469.40" width="3.80" height="3.80" fill="#f5df30" />
<rect x="331.10" y="489.90" width="3.80" height="3.80" fill="#f5df30" />
<path d="M367.50 474.80L369.60 478.60L365.40 478.60Z" stroke="none" stroke-width="1" fill="#3c1459" />
<path d="M374.50 479.60L376.60 483.40L372.40 483.40Z" stroke="none" stroke-width="1" fill="#3c1459" />
<path d="M380.80 479.60L382.90 483.40L378.70 483.40Z" stroke="none" stroke-width="1" fill="#3c1459" />
<path d="M371.30 489.60L373.40 493.40L369.20 493.40Z" stroke="none" stroke-width="1" fill="#3c1459" />
<path d="M377.50 495.30L379.60 499.10L375.40 499.10Z" stroke="none" stroke-width="1" fill="#3c1459" />
<path d="M371.30 505.80L373.40 509.60L369.20 509.60Z" stroke="none" stroke-width="1" fill="#3c1459" />
<path d="M378.00 505.80L380.10 509.60L375.90 509.60Z" stroke="none" stroke-width="1" fill="#3c1459" />
<line x1="318.80" y1="471.00" x2="347.50" y2="471.00" stroke="#333" stroke-width="0.9" />
<line x1="360.00" y1="491.80" x2="388.30" y2="491.80" stroke="#333" stroke-width="0.9" />
<text x="461.30" y="417.50" font-size="7.8" textLength="21.18" lengthAdjust="spacingAndGlyphs" fill="#222" stroke="#222" stroke-width="0.18" font-style="italic">CDK1</text>
<line x1="430.20" y1="423.60" x2="430.20" y2="508.60" stroke="#000" stroke-width="1.5" />
<line x1="429.50" y1="508.00" x2="512.50" y2="508.00" stroke="#000" stroke-width="1.2" />
<line x1="427.60" y1="425.80" x2="430.20" y2="425.80" stroke="#000" stroke-width="1.0" />
<text x="424.20" y="428.00" font-size="6.3" text-anchor="end" fill="#222" stroke="#222" stroke-width="0.18">10</text>
<line x1="428.80" y1="437.26" x2="430.20" y2="437.26" stroke="#000" stroke-width="0.5" />
<line x1="428.80" y1="434.38" x2="430.20" y2="434.38" stroke="#000" stroke-width="0.5" />
<line x1="428.80" y1="432.33" x2="430.20" y2="432.33" stroke="#000" stroke-width="0.5" />
<line x1="428.80" y1="430.74" x2="430.20" y2="430.74" stroke="#000" stroke-width="0.5" />
<line x1="428.80" y1="429.44" x2="430.20" y2="429.44" stroke="#000" stroke-width="0.5" />
<line x1="428.80" y1="428.34" x2="430.20" y2="428.34" stroke="#000" stroke-width="0.5" />
<line x1="428.80" y1="427.39" x2="430.20" y2="427.39" stroke="#000" stroke-width="0.5" />
<line x1="428.80" y1="426.55" x2="430.20" y2="426.55" stroke="#000" stroke-width="0.5" />
<line x1="427.60" y1="442.20" x2="430.20" y2="442.20" stroke="#000" stroke-width="1.0" />
<text x="424.20" y="444.40" font-size="6.3" text-anchor="end" fill="#222" stroke="#222" stroke-width="0.18">1</text>
<line x1="428.80" y1="453.73" x2="430.20" y2="453.73" stroke="#000" stroke-width="0.5" />
<line x1="428.80" y1="450.83" x2="430.20" y2="450.83" stroke="#000" stroke-width="0.5" />
<line x1="428.80" y1="448.77" x2="430.20" y2="448.77" stroke="#000" stroke-width="0.5" />
<line x1="428.80" y1="447.17" x2="430.20" y2="447.17" stroke="#000" stroke-width="0.5" />
<line x1="428.80" y1="445.86" x2="430.20" y2="445.86" stroke="#000" stroke-width="0.5" />
<line x1="428.80" y1="444.76" x2="430.20" y2="444.76" stroke="#000" stroke-width="0.5" />
<line x1="428.80" y1="443.80" x2="430.20" y2="443.80" stroke="#000" stroke-width="0.5" />
<line x1="428.80" y1="442.95" x2="430.20" y2="442.95" stroke="#000" stroke-width="0.5" />
<line x1="427.60" y1="458.70" x2="430.20" y2="458.70" stroke="#000" stroke-width="1.0" />
<text x="424.20" y="460.90" font-size="6.3" text-anchor="end" fill="#222" stroke="#222" stroke-width="0.18">0.1</text>
<line x1="428.80" y1="470.23" x2="430.20" y2="470.23" stroke="#000" stroke-width="0.5" />
<line x1="428.80" y1="467.33" x2="430.20" y2="467.33" stroke="#000" stroke-width="0.5" />
<line x1="428.80" y1="465.27" x2="430.20" y2="465.27" stroke="#000" stroke-width="0.5" />
<line x1="428.80" y1="463.67" x2="430.20" y2="463.67" stroke="#000" stroke-width="0.5" />
<line x1="428.80" y1="462.36" x2="430.20" y2="462.36" stroke="#000" stroke-width="0.5" />
<line x1="428.80" y1="461.26" x2="430.20" y2="461.26" stroke="#000" stroke-width="0.5" />
<line x1="428.80" y1="460.30" x2="430.20" y2="460.30" stroke="#000" stroke-width="0.5" />
<line x1="428.80" y1="459.45" x2="430.20" y2="459.45" stroke="#000" stroke-width="0.5" />
<line x1="427.60" y1="475.20" x2="430.20" y2="475.20" stroke="#000" stroke-width="1.0" />
<text x="424.20" y="477.40" font-size="6.3" text-anchor="end" fill="#222" stroke="#222" stroke-width="0.18">0.01</text>
<line x1="428.80" y1="486.73" x2="430.20" y2="486.73" stroke="#000" stroke-width="0.5" />
<line x1="428.80" y1="483.83" x2="430.20" y2="483.83" stroke="#000" stroke-width="0.5" />
<line x1="428.80" y1="481.77" x2="430.20" y2="481.77" stroke="#000" stroke-width="0.5" />
<line x1="428.80" y1="480.17" x2="430.20" y2="480.17" stroke="#000" stroke-width="0.5" />
<line x1="428.80" y1="478.86" x2="430.20" y2="478.86" stroke="#000" stroke-width="0.5" />
<line x1="428.80" y1="477.76" x2="430.20" y2="477.76" stroke="#000" stroke-width="0.5" />
<line x1="428.80" y1="476.80" x2="430.20" y2="476.80" stroke="#000" stroke-width="0.5" />
<line x1="428.80" y1="475.95" x2="430.20" y2="475.95" stroke="#000" stroke-width="0.5" />
<line x1="427.60" y1="491.70" x2="430.20" y2="491.70" stroke="#000" stroke-width="1.0" />
<text x="424.20" y="493.90" font-size="6.3" text-anchor="end" fill="#222" stroke="#222" stroke-width="0.18">0.001</text>
<line x1="428.80" y1="503.09" x2="430.20" y2="503.09" stroke="#000" stroke-width="0.5" />
<line x1="428.80" y1="500.22" x2="430.20" y2="500.22" stroke="#000" stroke-width="0.5" />
<line x1="428.80" y1="498.19" x2="430.20" y2="498.19" stroke="#000" stroke-width="0.5" />
<line x1="428.80" y1="496.61" x2="430.20" y2="496.61" stroke="#000" stroke-width="0.5" />
<line x1="428.80" y1="495.32" x2="430.20" y2="495.32" stroke="#000" stroke-width="0.5" />
<line x1="428.80" y1="494.22" x2="430.20" y2="494.22" stroke="#000" stroke-width="0.5" />
<line x1="428.80" y1="493.28" x2="430.20" y2="493.28" stroke="#000" stroke-width="0.5" />
<line x1="428.80" y1="492.45" x2="430.20" y2="492.45" stroke="#000" stroke-width="0.5" />
<line x1="427.60" y1="508.00" x2="430.20" y2="508.00" stroke="#000" stroke-width="1.0" />
<text x="424.20" y="510.20" font-size="6.3" text-anchor="end" fill="#222" stroke="#222" stroke-width="0.18">0.0001</text>
<path d="M451.30 427.2V432.8M451.30 430H490.80M490.80 427.2V432.8" stroke="#333" stroke-width="1.0" fill="none" />
<text x="471.05" y="427.40" font-size="5.5" text-anchor="middle" fill="#222" stroke="#222" stroke-width="0.10">*</text>
<rect x="441.90" y="452.60" width="3.80" height="3.80" fill="#f5df30" />
<rect x="448.10" y="455.60" width="3.80" height="3.80" fill="#f5df30" />
<rect x="454.40" y="452.60" width="3.80" height="3.80" fill="#f5df30" />
<rect x="441.90" y="459.40" width="3.80" height="3.80" fill="#f5df30" />
<rect x="454.40" y="458.10" width="3.80" height="3.80" fill="#f5df30" />
<rect x="448.10" y="462.40" width="3.80" height="3.80" fill="#f5df30" />
<rect x="439.40" y="468.10" width="3.80" height="3.80" fill="#f5df30" />
<rect x="458.10" y="467.60" width="3.80" height="3.80" fill="#f5df30" />
<rect x="445.60" y="471.10" width="3.80" height="3.80" fill="#f5df30" />
<rect x="451.90" y="470.60" width="3.80" height="3.80" fill="#f5df30" />
<path d="M485.00 465.30L487.10 469.10L482.90 469.10Z" stroke="none" stroke-width="1" fill="#3c1459" />
<path d="M491.30 465.30L493.40 469.10L489.20 469.10Z" stroke="none" stroke-width="1" fill="#3c1459" />
<path d="M498.00 463.30L500.10 467.10L495.90 467.10Z" stroke="none" stroke-width="1" fill="#3c1459" />
<path d="M491.30 472.80L493.40 476.60L489.20 476.60Z" stroke="none" stroke-width="1" fill="#3c1459" />
<path d="M498.00 476.60L500.10 480.40L495.90 480.40Z" stroke="none" stroke-width="1" fill="#3c1459" />
<path d="M485.00 480.30L487.10 484.10L482.90 484.10Z" stroke="none" stroke-width="1" fill="#3c1459" />
<path d="M491.30 480.30L493.40 484.10L489.20 484.10Z" stroke="none" stroke-width="1" fill="#3c1459" />
<path d="M491.30 504.80L493.40 508.60L489.20 508.60Z" stroke="none" stroke-width="1" fill="#3c1459" />
<line x1="436.30" y1="462.50" x2="465.00" y2="462.50" stroke="#333" stroke-width="0.9" />
<line x1="477.00" y1="476.50" x2="506.30" y2="476.50" stroke="#333" stroke-width="0.9" />
<line x1="333.00" y1="508.00" x2="333.00" y2="510.50" stroke="#000" stroke-width="0.8" />
<line x1="374.50" y1="508.00" x2="374.50" y2="510.50" stroke="#000" stroke-width="0.8" />
<line x1="450.00" y1="508.00" x2="450.00" y2="510.50" stroke="#000" stroke-width="0.8" />
<line x1="491.30" y1="508.00" x2="491.30" y2="510.50" stroke="#000" stroke-width="0.8" />
<text x="333.00" y="519.60" font-size="6.0" text-anchor="middle" fill="#222" stroke="#222" stroke-width="0.18">LN_FL B</text>
<text x="374.50" y="519.60" font-size="6.0" text-anchor="middle" fill="#222" stroke="#222" stroke-width="0.18">BM_FL B</text>
<text x="450.00" y="519.60" font-size="6.0" text-anchor="middle" fill="#222" stroke="#222" stroke-width="0.18">LN_FL B</text>
<text x="491.30" y="519.60" font-size="6.0" text-anchor="middle" fill="#222" stroke="#222" stroke-width="0.18">BM_FL B</text>
<text x="0" y="0" font-size="8.6" fill="#222" transform="translate(282.6,473.2) rotate(-90)">2<tspan font-size="5.6" dy="-3.6">-ΔΔt</tspan></text>
<rect x="0.5" y="0.5" width="519" height="527" fill="none" stroke="#000" stroke-width="1.1"/></svg>
</body></html>
